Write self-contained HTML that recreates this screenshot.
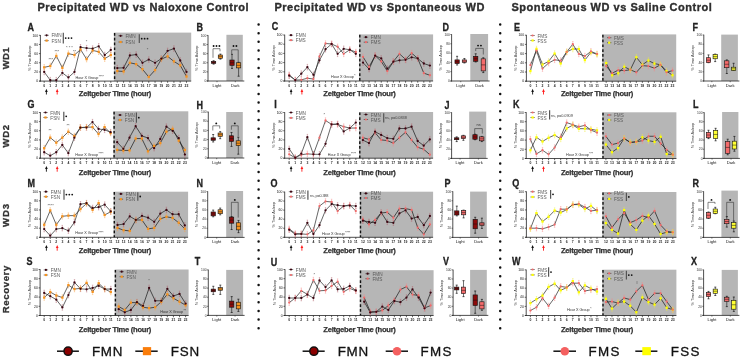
<!DOCTYPE html>
<html><head><meta charset="utf-8"><style>
html,body{margin:0;padding:0;background:#fff;}
svg{will-change:transform;display:block;font-family:"Liberation Sans", sans-serif;}
</style></head><body>
<svg width="741" height="359" viewBox="0 0 741 359">
<rect width="741" height="359" fill="#fff"/>
<text x="37.50" y="10.80" font-size="11.0" font-weight="bold" fill="#2e2e2e" text-anchor="start" stroke="#2e2e2e" stroke-width="0.35" textLength="211.0" lengthAdjust="spacing">Precipitated WD vs Naloxone Control</text>
<text x="274.40" y="10.80" font-size="11.0" font-weight="bold" fill="#2e2e2e" text-anchor="start" stroke="#2e2e2e" stroke-width="0.35" textLength="210.0" lengthAdjust="spacing">Precipitated WD vs Spontaneous WD</text>
<text x="511.50" y="10.80" font-size="11.0" font-weight="bold" fill="#2e2e2e" text-anchor="start" stroke="#2e2e2e" stroke-width="0.35" textLength="200.4" lengthAdjust="spacing">Spontaneous WD vs Saline Control</text>
<text x="9.00" y="58.30" font-size="9.6" font-weight="bold" fill="#333" text-anchor="middle" stroke="#333" stroke-width="0.3" textLength="21.7" lengthAdjust="spacing" transform="rotate(-90 9.00 58.30)">WD1</text>
<text x="9.00" y="136.20" font-size="9.6" font-weight="bold" fill="#333" text-anchor="middle" stroke="#333" stroke-width="0.3" textLength="22.5" lengthAdjust="spacing" transform="rotate(-90 9.00 136.20)">WD2</text>
<text x="9.00" y="215.50" font-size="9.6" font-weight="bold" fill="#333" text-anchor="middle" stroke="#333" stroke-width="0.3" textLength="23" lengthAdjust="spacing" transform="rotate(-90 9.00 215.50)">WD3</text>
<text x="9.00" y="289.50" font-size="9.6" font-weight="bold" fill="#333" text-anchor="middle" stroke="#333" stroke-width="0.3" textLength="47.7" lengthAdjust="spacing" transform="rotate(-90 9.00 289.50)">Recovery</text>
<line x1="258.6" y1="24.5" x2="258.6" y2="330" stroke="#111" stroke-width="2.5" stroke-linecap="round" stroke-dasharray="0 8.68"/>
<line x1="500.2" y1="24.5" x2="500.2" y2="330" stroke="#111" stroke-width="2.5" stroke-linecap="round" stroke-dasharray="0 8.68"/>
<text transform="translate(27.60 30.50) scale(0.9 1)" font-size="10.0" font-weight="bold" fill="#222" stroke="#222" stroke-width="0.3">A</text>
<text transform="translate(196.60 30.50) scale(0.9 1)" font-size="10.0" font-weight="bold" fill="#222" stroke="#222" stroke-width="0.3">B</text>
<text transform="translate(271.70 30.30) scale(0.9 1)" font-size="10.0" font-weight="bold" fill="#222" stroke="#222" stroke-width="0.3">C</text>
<text transform="translate(442.50 30.60) scale(0.9 1)" font-size="10.0" font-weight="bold" fill="#222" stroke="#222" stroke-width="0.3">D</text>
<text transform="translate(514.00 30.50) scale(0.9 1)" font-size="10.0" font-weight="bold" fill="#222" stroke="#222" stroke-width="0.3">E</text>
<text transform="translate(692.40 30.60) scale(0.9 1)" font-size="10.0" font-weight="bold" fill="#222" stroke="#222" stroke-width="0.3">F</text>
<text transform="translate(27.60 107.90) scale(0.9 1)" font-size="10.0" font-weight="bold" fill="#222" stroke="#222" stroke-width="0.3">G</text>
<text transform="translate(196.60 108.50) scale(0.9 1)" font-size="10.0" font-weight="bold" fill="#222" stroke="#222" stroke-width="0.3">H</text>
<text transform="translate(274.30 107.80) scale(0.9 1)" font-size="10.0" font-weight="bold" fill="#222" stroke="#222" stroke-width="0.3">I</text>
<text transform="translate(444.40 108.50) scale(0.9 1)" font-size="10.0" font-weight="bold" fill="#222" stroke="#222" stroke-width="0.3">J</text>
<text transform="translate(513.00 108.00) scale(0.9 1)" font-size="10.0" font-weight="bold" fill="#222" stroke="#222" stroke-width="0.3">K</text>
<text transform="translate(693.00 108.10) scale(0.9 1)" font-size="10.0" font-weight="bold" fill="#222" stroke="#222" stroke-width="0.3">L</text>
<text transform="translate(27.60 186.80) scale(0.9 1)" font-size="10.0" font-weight="bold" fill="#222" stroke="#222" stroke-width="0.3">M</text>
<text transform="translate(196.60 187.00) scale(0.9 1)" font-size="10.0" font-weight="bold" fill="#222" stroke="#222" stroke-width="0.3">N</text>
<text transform="translate(270.50 187.20) scale(0.9 1)" font-size="10.0" font-weight="bold" fill="#222" stroke="#222" stroke-width="0.3">O</text>
<text transform="translate(444.40 187.00) scale(0.9 1)" font-size="10.0" font-weight="bold" fill="#222" stroke="#222" stroke-width="0.3">P</text>
<text transform="translate(512.30 186.50) scale(0.9 1)" font-size="10.0" font-weight="bold" fill="#222" stroke="#222" stroke-width="0.3">Q</text>
<text transform="translate(692.40 187.00) scale(0.9 1)" font-size="10.0" font-weight="bold" fill="#222" stroke="#222" stroke-width="0.3">R</text>
<text transform="translate(26.40 264.60) scale(0.9 1)" font-size="10.0" font-weight="bold" fill="#222" stroke="#222" stroke-width="0.3">S</text>
<text transform="translate(194.70 264.60) scale(0.9 1)" font-size="10.0" font-weight="bold" fill="#222" stroke="#222" stroke-width="0.3">T</text>
<text transform="translate(270.70 265.60) scale(0.9 1)" font-size="10.0" font-weight="bold" fill="#222" stroke="#222" stroke-width="0.3">U</text>
<text transform="translate(442.90 265.40) scale(0.9 1)" font-size="10.0" font-weight="bold" fill="#222" stroke="#222" stroke-width="0.3">V</text>
<text transform="translate(511.90 264.60) scale(0.9 1)" font-size="10.0" font-weight="bold" fill="#222" stroke="#222" stroke-width="0.3">W</text>
<text transform="translate(691.00 264.60) scale(0.9 1)" font-size="10.0" font-weight="bold" fill="#222" stroke="#222" stroke-width="0.3">X</text>
<line x1="57.00" y1="351.20" x2="78.90" y2="351.20" stroke="#111" stroke-width="1.5"/>
<circle cx="68.1" cy="351.2" r="4.1" fill="#8b0000" stroke="#111" stroke-width="1.5"/>
<text x="92.00" y="355.60" font-size="13.4" font-weight="normal" fill="#111" text-anchor="start" stroke="#111" stroke-width="0.3" textLength="30.3" lengthAdjust="spacing">FMN</text>
<line x1="135.30" y1="351.20" x2="157.70" y2="351.20" stroke="#111" stroke-width="1.5"/>
<rect x="142.85" y="347.1" width="8.3" height="8.1" fill="#fa7d0a"/>
<text x="170.70" y="355.60" font-size="13.4" font-weight="normal" fill="#111" text-anchor="start" stroke="#111" stroke-width="0.3" textLength="28.5" lengthAdjust="spacing">FSN</text>
<line x1="302.60" y1="351.20" x2="324.70" y2="351.20" stroke="#111" stroke-width="1.5"/>
<circle cx="313.9" cy="351.2" r="4.1" fill="#8b0000" stroke="#111" stroke-width="1.5"/>
<text x="337.70" y="355.60" font-size="13.4" font-weight="normal" fill="#111" text-anchor="start" stroke="#111" stroke-width="0.3" textLength="30.4" lengthAdjust="spacing">FMN</text>
<line x1="385.70" y1="351.20" x2="408.00" y2="351.20" stroke="#111" stroke-width="1.5"/>
<circle cx="397" cy="351.2" r="4.3" fill="#f46060"/>
<text x="420.60" y="355.60" font-size="13.4" font-weight="normal" fill="#111" text-anchor="start" stroke="#111" stroke-width="0.3" textLength="30.9" lengthAdjust="spacing">FMS</text>
<line x1="553.40" y1="351.20" x2="576.00" y2="351.20" stroke="#111" stroke-width="1.5"/>
<circle cx="564.8" cy="351.2" r="4.3" fill="#f46060"/>
<text x="588.50" y="355.60" font-size="13.4" font-weight="normal" fill="#111" text-anchor="start" stroke="#111" stroke-width="0.3" textLength="30.9" lengthAdjust="spacing">FMS</text>
<line x1="635.30" y1="351.20" x2="657.40" y2="351.20" stroke="#111" stroke-width="1.5"/>
<rect x="642.3000000000001" y="347.1" width="8.6" height="8.1" fill="#ffff00"/>
<text x="670.70" y="355.60" font-size="13.4" font-weight="normal" fill="#111" text-anchor="start" stroke="#111" stroke-width="0.3" textLength="28.7" lengthAdjust="spacing">FSS</text>
<rect x="113.90" y="32.60" width="77.30" height="48.50" fill="#b6b6b6"/>
<line x1="114.60" y1="33.00" x2="114.60" y2="81.10" stroke="#111" stroke-width="1.4" stroke-dasharray="2.7 2.1"/>
<line x1="40.40" y1="35.00" x2="40.40" y2="81.50" stroke="#222" stroke-width="0.8"/>
<line x1="39.20" y1="81.10" x2="191.20" y2="81.10" stroke="#222" stroke-width="0.8"/>
<line x1="38.90" y1="81.10" x2="40.40" y2="81.10" stroke="#222" stroke-width="0.7"/>
<text x="38.10" y="82.30" font-size="3.4" font-weight="normal" fill="#111" text-anchor="end">0</text>
<line x1="38.90" y1="71.94" x2="40.40" y2="71.94" stroke="#222" stroke-width="0.7"/>
<text x="38.10" y="73.14" font-size="3.4" font-weight="normal" fill="#111" text-anchor="end">20</text>
<line x1="38.90" y1="62.78" x2="40.40" y2="62.78" stroke="#222" stroke-width="0.7"/>
<text x="38.10" y="63.98" font-size="3.4" font-weight="normal" fill="#111" text-anchor="end">40</text>
<line x1="38.90" y1="53.62" x2="40.40" y2="53.62" stroke="#222" stroke-width="0.7"/>
<text x="38.10" y="54.82" font-size="3.4" font-weight="normal" fill="#111" text-anchor="end">60</text>
<line x1="38.90" y1="44.46" x2="40.40" y2="44.46" stroke="#222" stroke-width="0.7"/>
<text x="38.10" y="45.66" font-size="3.4" font-weight="normal" fill="#111" text-anchor="end">80</text>
<line x1="38.90" y1="35.30" x2="40.40" y2="35.30" stroke="#222" stroke-width="0.7"/>
<text x="38.10" y="36.50" font-size="3.4" font-weight="normal" fill="#111" text-anchor="end">100</text>
<line x1="44.20" y1="81.10" x2="44.20" y2="82.80" stroke="#222" stroke-width="0.7"/>
<text x="44.20" y="86.70" font-size="3.4" font-weight="bold" fill="#222" text-anchor="middle">0</text>
<line x1="50.25" y1="81.10" x2="50.25" y2="82.80" stroke="#222" stroke-width="0.7"/>
<text x="50.25" y="86.70" font-size="3.4" font-weight="bold" fill="#222" text-anchor="middle">1</text>
<line x1="56.31" y1="81.10" x2="56.31" y2="82.80" stroke="#222" stroke-width="0.7"/>
<text x="56.31" y="86.70" font-size="3.4" font-weight="bold" fill="#222" text-anchor="middle">2</text>
<line x1="62.36" y1="81.10" x2="62.36" y2="82.80" stroke="#222" stroke-width="0.7"/>
<text x="62.36" y="86.70" font-size="3.4" font-weight="bold" fill="#222" text-anchor="middle">3</text>
<line x1="68.42" y1="81.10" x2="68.42" y2="82.80" stroke="#222" stroke-width="0.7"/>
<text x="68.42" y="86.70" font-size="3.4" font-weight="bold" fill="#222" text-anchor="middle">4</text>
<line x1="74.47" y1="81.10" x2="74.47" y2="82.80" stroke="#222" stroke-width="0.7"/>
<text x="74.47" y="86.70" font-size="3.4" font-weight="bold" fill="#222" text-anchor="middle">5</text>
<line x1="80.53" y1="81.10" x2="80.53" y2="82.80" stroke="#222" stroke-width="0.7"/>
<text x="80.53" y="86.70" font-size="3.4" font-weight="bold" fill="#222" text-anchor="middle">6</text>
<line x1="86.58" y1="81.10" x2="86.58" y2="82.80" stroke="#222" stroke-width="0.7"/>
<text x="86.58" y="86.70" font-size="3.4" font-weight="bold" fill="#222" text-anchor="middle">7</text>
<line x1="92.64" y1="81.10" x2="92.64" y2="82.80" stroke="#222" stroke-width="0.7"/>
<text x="92.64" y="86.70" font-size="3.4" font-weight="bold" fill="#222" text-anchor="middle">8</text>
<line x1="98.69" y1="81.10" x2="98.69" y2="82.80" stroke="#222" stroke-width="0.7"/>
<text x="98.69" y="86.70" font-size="3.4" font-weight="bold" fill="#222" text-anchor="middle">9</text>
<line x1="104.75" y1="81.10" x2="104.75" y2="82.80" stroke="#222" stroke-width="0.7"/>
<text x="104.75" y="86.70" font-size="3.4" font-weight="bold" fill="#222" text-anchor="middle">10</text>
<line x1="110.80" y1="81.10" x2="110.80" y2="82.80" stroke="#222" stroke-width="0.7"/>
<text x="110.80" y="86.70" font-size="3.4" font-weight="bold" fill="#222" text-anchor="middle">11</text>
<line x1="117.30" y1="81.10" x2="117.30" y2="82.80" stroke="#222" stroke-width="0.7"/>
<text x="117.30" y="86.70" font-size="3.4" font-weight="bold" fill="#222" text-anchor="middle">12</text>
<line x1="123.59" y1="81.10" x2="123.59" y2="82.80" stroke="#222" stroke-width="0.7"/>
<text x="123.59" y="86.70" font-size="3.4" font-weight="bold" fill="#222" text-anchor="middle">13</text>
<line x1="129.88" y1="81.10" x2="129.88" y2="82.80" stroke="#222" stroke-width="0.7"/>
<text x="129.88" y="86.70" font-size="3.4" font-weight="bold" fill="#222" text-anchor="middle">14</text>
<line x1="136.17" y1="81.10" x2="136.17" y2="82.80" stroke="#222" stroke-width="0.7"/>
<text x="136.17" y="86.70" font-size="3.4" font-weight="bold" fill="#222" text-anchor="middle">15</text>
<line x1="142.46" y1="81.10" x2="142.46" y2="82.80" stroke="#222" stroke-width="0.7"/>
<text x="142.46" y="86.70" font-size="3.4" font-weight="bold" fill="#222" text-anchor="middle">16</text>
<line x1="148.75" y1="81.10" x2="148.75" y2="82.80" stroke="#222" stroke-width="0.7"/>
<text x="148.75" y="86.70" font-size="3.4" font-weight="bold" fill="#222" text-anchor="middle">17</text>
<line x1="155.05" y1="81.10" x2="155.05" y2="82.80" stroke="#222" stroke-width="0.7"/>
<text x="155.05" y="86.70" font-size="3.4" font-weight="bold" fill="#222" text-anchor="middle">18</text>
<line x1="161.34" y1="81.10" x2="161.34" y2="82.80" stroke="#222" stroke-width="0.7"/>
<text x="161.34" y="86.70" font-size="3.4" font-weight="bold" fill="#222" text-anchor="middle">19</text>
<line x1="167.63" y1="81.10" x2="167.63" y2="82.80" stroke="#222" stroke-width="0.7"/>
<text x="167.63" y="86.70" font-size="3.4" font-weight="bold" fill="#222" text-anchor="middle">20</text>
<line x1="173.92" y1="81.10" x2="173.92" y2="82.80" stroke="#222" stroke-width="0.7"/>
<text x="173.92" y="86.70" font-size="3.4" font-weight="bold" fill="#222" text-anchor="middle">21</text>
<line x1="180.21" y1="81.10" x2="180.21" y2="82.80" stroke="#222" stroke-width="0.7"/>
<text x="180.21" y="86.70" font-size="3.4" font-weight="bold" fill="#222" text-anchor="middle">22</text>
<line x1="186.50" y1="81.10" x2="186.50" y2="82.80" stroke="#222" stroke-width="0.7"/>
<text x="186.50" y="86.70" font-size="3.4" font-weight="bold" fill="#222" text-anchor="middle">23</text>
<text x="31.10" y="58.20" font-size="3.85" font-weight="normal" fill="#333" text-anchor="middle" transform="rotate(-90 31.10 58.20)">% Time Asleep</text>
<path d="M44.2 69.2V74.7M43.5 69.2h1.4M43.5 74.7h1.4M50.3 77.4V81.1M49.6 77.4h1.4M56.3 77.4V81.1M55.6 77.4h1.4M62.4 70.1V75.6M61.7 70.1h1.4M61.7 75.6h1.4M68.4 74.7V80.2M67.7 74.7h1.4M67.7 80.2h1.4M74.5 69.2V74.7M73.8 69.2h1.4M73.8 74.7h1.4M80.5 44.5V50.0M79.8 44.5h1.4M79.8 50.0h1.4M86.6 45.4V50.9M85.9 45.4h1.4M85.9 50.9h1.4M92.6 45.8V51.3M91.9 45.8h1.4M91.9 51.3h1.4M98.7 43.5V49.0M98.0 43.5h1.4M98.0 49.0h1.4M104.7 52.2V57.7M104.0 52.2h1.4M104.0 57.7h1.4M110.8 47.2V52.7M110.1 47.2h1.4M110.1 52.7h1.4M117.3 65.3V70.8M116.6 65.3h1.4M116.6 70.8h1.4M123.6 65.1V70.6M122.9 65.1h1.4M122.9 70.6h1.4M129.9 52.7V58.2M129.2 52.7h1.4M129.2 58.2h1.4M136.2 51.8V57.3M135.5 51.8h1.4M135.5 57.3h1.4M142.5 60.0V65.5M141.8 60.0h1.4M141.8 65.5h1.4M148.8 56.8V62.3M148.1 56.8h1.4M148.1 62.3h1.4M155.0 60.0V65.5M154.3 60.0h1.4M154.3 65.5h1.4M161.3 55.9V61.4M160.6 55.9h1.4M160.6 61.4h1.4M167.6 48.1V53.6M166.9 48.1h1.4M166.9 53.6h1.4M173.9 45.8V51.3M173.2 45.8h1.4M173.2 51.3h1.4M180.2 57.7V63.2M179.5 57.7h1.4M179.5 63.2h1.4M186.5 69.2V74.7M185.8 69.2h1.4M185.8 74.7h1.4" stroke="#b0606a" stroke-width="0.5" fill="none" opacity="0.8"/>
<polyline points="44.20,71.94 50.25,80.18 56.31,80.18 62.36,72.86 68.42,77.44 74.47,71.94 80.53,47.21 86.58,48.12 92.64,48.58 98.69,46.29 104.75,54.99 110.80,49.96" fill="none" stroke="#333" stroke-width="0.75"/>
<polyline points="117.30,68.05 123.59,67.82 129.88,55.45 136.17,54.54 142.46,62.78 148.75,59.57 155.05,62.78 161.34,58.66 167.63,50.87 173.92,48.58 180.21,60.49 186.50,71.94" fill="none" stroke="#222" stroke-width="0.75"/>
<path d="M44.2 64.6V70.1M43.5 64.6h1.4M43.5 70.1h1.4M50.3 63.2V68.7M49.6 63.2h1.4M49.6 68.7h1.4M56.3 53.2V58.7M55.6 53.2h1.4M55.6 58.7h1.4M62.4 65.1V70.6M61.7 65.1h1.4M61.7 70.6h1.4M68.4 50.9V56.4M67.7 50.9h1.4M67.7 56.4h1.4M74.5 52.2V57.7M73.8 52.2h1.4M73.8 57.7h1.4M80.5 46.8V52.2M79.8 46.8h1.4M79.8 52.2h1.4M86.6 56.4V61.9M85.9 56.4h1.4M85.9 61.9h1.4M92.6 47.7V53.2M91.9 47.7h1.4M91.9 53.2h1.4M98.7 49.0V54.5M98.0 49.0h1.4M98.0 54.5h1.4M104.7 55.9V61.4M104.0 55.9h1.4M104.0 61.4h1.4M110.8 52.2V57.7M110.1 52.2h1.4M110.1 57.7h1.4M117.3 68.3V73.8M116.6 68.3h1.4M116.6 73.8h1.4M123.6 68.7V74.2M122.9 68.7h1.4M122.9 74.2h1.4M129.9 60.0V65.5M129.2 60.0h1.4M129.2 65.5h1.4M136.2 61.4V66.9M135.5 61.4h1.4M135.5 66.9h1.4M142.5 66.4V71.9M141.8 66.4h1.4M141.8 71.9h1.4M148.8 74.2V79.7M148.1 74.2h1.4M148.1 79.7h1.4M155.0 67.4V72.9M154.3 67.4h1.4M154.3 72.9h1.4M161.3 56.4V61.9M160.6 56.4h1.4M160.6 61.9h1.4M167.6 53.6V59.1M166.9 53.6h1.4M166.9 59.1h1.4M173.9 58.7V64.2M173.2 58.7h1.4M173.2 64.2h1.4M180.2 62.6V68.0M179.5 62.6h1.4M179.5 68.0h1.4M186.5 73.8V79.3M185.8 73.8h1.4M185.8 79.3h1.4" stroke="#f7a24a" stroke-width="0.5" fill="none" opacity="0.8"/>
<polyline points="44.20,67.36 50.25,65.99 56.31,55.91 62.36,67.82 68.42,53.62 74.47,54.99 80.53,49.50 86.58,59.12 92.64,50.41 98.69,51.79 104.75,58.66 110.80,54.99" fill="none" stroke="#333" stroke-width="0.75"/>
<polyline points="117.30,71.02 123.59,71.48 129.88,62.78 136.17,64.15 142.46,69.19 148.75,76.98 155.05,70.11 161.34,59.12 167.63,56.37 173.92,61.41 180.21,65.30 186.50,76.52" fill="none" stroke="#222" stroke-width="0.75"/>
<rect x="43.05" y="66.21" width="2.30" height="2.30" fill="#f7931e"/>
<rect x="49.10" y="64.84" width="2.30" height="2.30" fill="#f7931e"/>
<rect x="55.16" y="54.76" width="2.30" height="2.30" fill="#f7931e"/>
<rect x="61.21" y="66.67" width="2.30" height="2.30" fill="#f7931e"/>
<rect x="67.27" y="52.47" width="2.30" height="2.30" fill="#f7931e"/>
<rect x="73.32" y="53.84" width="2.30" height="2.30" fill="#f7931e"/>
<rect x="79.38" y="48.35" width="2.30" height="2.30" fill="#f7931e"/>
<rect x="85.43" y="57.97" width="2.30" height="2.30" fill="#f7931e"/>
<rect x="91.49" y="49.26" width="2.30" height="2.30" fill="#f7931e"/>
<rect x="97.54" y="50.64" width="2.30" height="2.30" fill="#f7931e"/>
<rect x="103.60" y="57.51" width="2.30" height="2.30" fill="#f7931e"/>
<rect x="109.65" y="53.84" width="2.30" height="2.30" fill="#f7931e"/>
<rect x="116.15" y="69.87" width="2.30" height="2.30" fill="#f7931e"/>
<rect x="122.44" y="70.33" width="2.30" height="2.30" fill="#f7931e"/>
<rect x="128.73" y="61.63" width="2.30" height="2.30" fill="#f7931e"/>
<rect x="135.02" y="63.00" width="2.30" height="2.30" fill="#f7931e"/>
<rect x="141.31" y="68.04" width="2.30" height="2.30" fill="#f7931e"/>
<rect x="147.60" y="75.83" width="2.30" height="2.30" fill="#f7931e"/>
<rect x="153.90" y="68.96" width="2.30" height="2.30" fill="#f7931e"/>
<rect x="160.19" y="57.97" width="2.30" height="2.30" fill="#f7931e"/>
<rect x="166.48" y="55.22" width="2.30" height="2.30" fill="#f7931e"/>
<rect x="172.77" y="60.26" width="2.30" height="2.30" fill="#f7931e"/>
<rect x="179.06" y="64.15" width="2.30" height="2.30" fill="#f7931e"/>
<rect x="185.35" y="75.37" width="2.30" height="2.30" fill="#f7931e"/>
<circle cx="44.20" cy="71.94" r="1.15" fill="#3c0612"/>
<circle cx="50.25" cy="80.18" r="1.15" fill="#3c0612"/>
<circle cx="56.31" cy="80.18" r="1.15" fill="#3c0612"/>
<circle cx="62.36" cy="72.86" r="1.15" fill="#3c0612"/>
<circle cx="68.42" cy="77.44" r="1.15" fill="#3c0612"/>
<circle cx="74.47" cy="71.94" r="1.15" fill="#3c0612"/>
<circle cx="80.53" cy="47.21" r="1.15" fill="#3c0612"/>
<circle cx="86.58" cy="48.12" r="1.15" fill="#3c0612"/>
<circle cx="92.64" cy="48.58" r="1.15" fill="#3c0612"/>
<circle cx="98.69" cy="46.29" r="1.15" fill="#3c0612"/>
<circle cx="104.75" cy="54.99" r="1.15" fill="#3c0612"/>
<circle cx="110.80" cy="49.96" r="1.15" fill="#3c0612"/>
<circle cx="117.30" cy="68.05" r="1.15" fill="#3c0612"/>
<circle cx="123.59" cy="67.82" r="1.15" fill="#3c0612"/>
<circle cx="129.88" cy="55.45" r="1.15" fill="#3c0612"/>
<circle cx="136.17" cy="54.54" r="1.15" fill="#3c0612"/>
<circle cx="142.46" cy="62.78" r="1.15" fill="#3c0612"/>
<circle cx="148.75" cy="59.57" r="1.15" fill="#3c0612"/>
<circle cx="155.05" cy="62.78" r="1.15" fill="#3c0612"/>
<circle cx="161.34" cy="58.66" r="1.15" fill="#3c0612"/>
<circle cx="167.63" cy="50.87" r="1.15" fill="#3c0612"/>
<circle cx="173.92" cy="48.58" r="1.15" fill="#3c0612"/>
<circle cx="180.21" cy="60.49" r="1.15" fill="#3c0612"/>
<circle cx="186.50" cy="71.94" r="1.15" fill="#3c0612"/>
<line x1="44.40" y1="35.30" x2="48.80" y2="35.30" stroke="#333" stroke-width="0.6"/>
<circle cx="46.60" cy="35.30" r="1.10" fill="#3c0612"/>
<text x="51.40" y="37.30" font-size="4.7" font-weight="normal" fill="#5a5a5a" text-anchor="start">FMN</text>
<line x1="44.40" y1="40.60" x2="48.80" y2="40.60" stroke="#333" stroke-width="0.6"/>
<rect x="45.50" y="39.50" width="2.20" height="2.20" fill="#f7931e"/>
<text x="51.40" y="42.60" font-size="4.7" font-weight="normal" fill="#5a5a5a" text-anchor="start">FSN</text>
<line x1="118.40" y1="35.80" x2="122.80" y2="35.80" stroke="#333" stroke-width="0.6"/>
<circle cx="120.60" cy="35.80" r="1.10" fill="#3c0612"/>
<text x="125.40" y="37.80" font-size="4.7" font-weight="normal" fill="#5a5a5a" text-anchor="start">FMN</text>
<line x1="118.40" y1="42.00" x2="122.80" y2="42.00" stroke="#333" stroke-width="0.6"/>
<rect x="119.50" y="40.90" width="2.20" height="2.20" fill="#f7931e"/>
<text x="125.40" y="44.00" font-size="4.7" font-weight="normal" fill="#5a5a5a" text-anchor="start">FSN</text>
<line x1="63.30" y1="32.70" x2="63.30" y2="43.50" stroke="#555" stroke-width="1.2"/>
<circle cx="65.70" cy="38.10" r="0.9" fill="#111"/>
<circle cx="68.60" cy="38.10" r="0.9" fill="#111"/>
<circle cx="71.50" cy="38.10" r="0.9" fill="#111"/>
<line x1="139.30" y1="34.20" x2="139.30" y2="43.10" stroke="#555" stroke-width="1.2"/>
<circle cx="141.70" cy="38.65" r="0.9" fill="#111"/>
<circle cx="144.60" cy="38.65" r="0.9" fill="#111"/>
<circle cx="147.50" cy="38.65" r="0.9" fill="#111"/>
<text x="75.50" y="78.70" font-size="3.75" fill="#333" textLength="22.8" lengthAdjust="spacing">Hour X Group</text>
<text x="98.80" y="78.10" font-size="3.2" fill="#333">****</text>
<text x="48.50" y="60.90" font-size="4" font-weight="normal" fill="#444" text-anchor="start">***</text>
<text x="54.50" y="53.40" font-size="4" font-weight="normal" fill="#444" text-anchor="start">***</text>
<text x="66.00" y="49.40" font-size="4" font-weight="normal" fill="#444" text-anchor="start">* * *</text>
<text x="73.00" y="53.40" font-size="4" font-weight="normal" fill="#444" text-anchor="start">**</text>
<text x="85.70" y="43.40" font-size="4" font-weight="normal" fill="#444" text-anchor="start">*</text>
<text x="146.70" y="50.90" font-size="4" font-weight="normal" fill="#444" text-anchor="start">*</text>
<line x1="46.40" y1="91.20" x2="46.40" y2="94.50" stroke="#111" stroke-width="0.9"/>
<path d="M45.05,91.90 L46.40,88.70 L47.75,91.90 Z" fill="#111"/>
<line x1="57.20" y1="91.20" x2="57.20" y2="94.50" stroke="#ff1a1a" stroke-width="0.9"/>
<path d="M55.85,91.90 L57.20,88.70 L58.55,91.90 Z" fill="#ff1a1a"/>
<text x="78.80" y="95.70" font-size="7.6" font-weight="bold" fill="#333" text-anchor="start" stroke="#333" stroke-width="0.25" textLength="72.6" lengthAdjust="spacing">Zeitgeber Time (hour)</text>
<rect x="359.10" y="34.40" width="74.00" height="46.60" fill="#b6b6b6"/>
<line x1="359.80" y1="34.80" x2="359.80" y2="81.00" stroke="#111" stroke-width="1.4" stroke-dasharray="2.7 2.1"/>
<line x1="284.70" y1="34.70" x2="284.70" y2="81.40" stroke="#222" stroke-width="0.8"/>
<line x1="283.50" y1="81.00" x2="433.10" y2="81.00" stroke="#222" stroke-width="0.8"/>
<line x1="283.20" y1="81.00" x2="284.70" y2="81.00" stroke="#222" stroke-width="0.7"/>
<text x="282.40" y="82.20" font-size="3.4" font-weight="normal" fill="#111" text-anchor="end">0</text>
<line x1="283.20" y1="71.80" x2="284.70" y2="71.80" stroke="#222" stroke-width="0.7"/>
<text x="282.40" y="73.00" font-size="3.4" font-weight="normal" fill="#111" text-anchor="end">20</text>
<line x1="283.20" y1="62.60" x2="284.70" y2="62.60" stroke="#222" stroke-width="0.7"/>
<text x="282.40" y="63.80" font-size="3.4" font-weight="normal" fill="#111" text-anchor="end">40</text>
<line x1="283.20" y1="53.40" x2="284.70" y2="53.40" stroke="#222" stroke-width="0.7"/>
<text x="282.40" y="54.60" font-size="3.4" font-weight="normal" fill="#111" text-anchor="end">60</text>
<line x1="283.20" y1="44.20" x2="284.70" y2="44.20" stroke="#222" stroke-width="0.7"/>
<text x="282.40" y="45.40" font-size="3.4" font-weight="normal" fill="#111" text-anchor="end">80</text>
<line x1="283.20" y1="35.00" x2="284.70" y2="35.00" stroke="#222" stroke-width="0.7"/>
<text x="282.40" y="36.20" font-size="3.4" font-weight="normal" fill="#111" text-anchor="end">100</text>
<line x1="289.20" y1="81.00" x2="289.20" y2="82.70" stroke="#222" stroke-width="0.7"/>
<text x="289.20" y="86.60" font-size="3.4" font-weight="bold" fill="#222" text-anchor="middle">0</text>
<line x1="295.25" y1="81.00" x2="295.25" y2="82.70" stroke="#222" stroke-width="0.7"/>
<text x="295.25" y="86.60" font-size="3.4" font-weight="bold" fill="#222" text-anchor="middle">1</text>
<line x1="301.31" y1="81.00" x2="301.31" y2="82.70" stroke="#222" stroke-width="0.7"/>
<text x="301.31" y="86.60" font-size="3.4" font-weight="bold" fill="#222" text-anchor="middle">2</text>
<line x1="307.36" y1="81.00" x2="307.36" y2="82.70" stroke="#222" stroke-width="0.7"/>
<text x="307.36" y="86.60" font-size="3.4" font-weight="bold" fill="#222" text-anchor="middle">3</text>
<line x1="313.42" y1="81.00" x2="313.42" y2="82.70" stroke="#222" stroke-width="0.7"/>
<text x="313.42" y="86.60" font-size="3.4" font-weight="bold" fill="#222" text-anchor="middle">4</text>
<line x1="319.47" y1="81.00" x2="319.47" y2="82.70" stroke="#222" stroke-width="0.7"/>
<text x="319.47" y="86.60" font-size="3.4" font-weight="bold" fill="#222" text-anchor="middle">5</text>
<line x1="325.53" y1="81.00" x2="325.53" y2="82.70" stroke="#222" stroke-width="0.7"/>
<text x="325.53" y="86.60" font-size="3.4" font-weight="bold" fill="#222" text-anchor="middle">6</text>
<line x1="331.58" y1="81.00" x2="331.58" y2="82.70" stroke="#222" stroke-width="0.7"/>
<text x="331.58" y="86.60" font-size="3.4" font-weight="bold" fill="#222" text-anchor="middle">7</text>
<line x1="337.64" y1="81.00" x2="337.64" y2="82.70" stroke="#222" stroke-width="0.7"/>
<text x="337.64" y="86.60" font-size="3.4" font-weight="bold" fill="#222" text-anchor="middle">8</text>
<line x1="343.69" y1="81.00" x2="343.69" y2="82.70" stroke="#222" stroke-width="0.7"/>
<text x="343.69" y="86.60" font-size="3.4" font-weight="bold" fill="#222" text-anchor="middle">9</text>
<line x1="349.75" y1="81.00" x2="349.75" y2="82.70" stroke="#222" stroke-width="0.7"/>
<text x="349.75" y="86.60" font-size="3.4" font-weight="bold" fill="#222" text-anchor="middle">10</text>
<line x1="355.80" y1="81.00" x2="355.80" y2="82.70" stroke="#222" stroke-width="0.7"/>
<text x="355.80" y="86.60" font-size="3.4" font-weight="bold" fill="#222" text-anchor="middle">11</text>
<line x1="363.00" y1="81.00" x2="363.00" y2="82.70" stroke="#222" stroke-width="0.7"/>
<text x="363.00" y="86.60" font-size="3.4" font-weight="bold" fill="#222" text-anchor="middle">12</text>
<line x1="369.08" y1="81.00" x2="369.08" y2="82.70" stroke="#222" stroke-width="0.7"/>
<text x="369.08" y="86.60" font-size="3.4" font-weight="bold" fill="#222" text-anchor="middle">13</text>
<line x1="375.16" y1="81.00" x2="375.16" y2="82.70" stroke="#222" stroke-width="0.7"/>
<text x="375.16" y="86.60" font-size="3.4" font-weight="bold" fill="#222" text-anchor="middle">14</text>
<line x1="381.25" y1="81.00" x2="381.25" y2="82.70" stroke="#222" stroke-width="0.7"/>
<text x="381.25" y="86.60" font-size="3.4" font-weight="bold" fill="#222" text-anchor="middle">15</text>
<line x1="387.33" y1="81.00" x2="387.33" y2="82.70" stroke="#222" stroke-width="0.7"/>
<text x="387.33" y="86.60" font-size="3.4" font-weight="bold" fill="#222" text-anchor="middle">16</text>
<line x1="393.41" y1="81.00" x2="393.41" y2="82.70" stroke="#222" stroke-width="0.7"/>
<text x="393.41" y="86.60" font-size="3.4" font-weight="bold" fill="#222" text-anchor="middle">17</text>
<line x1="399.49" y1="81.00" x2="399.49" y2="82.70" stroke="#222" stroke-width="0.7"/>
<text x="399.49" y="86.60" font-size="3.4" font-weight="bold" fill="#222" text-anchor="middle">18</text>
<line x1="405.57" y1="81.00" x2="405.57" y2="82.70" stroke="#222" stroke-width="0.7"/>
<text x="405.57" y="86.60" font-size="3.4" font-weight="bold" fill="#222" text-anchor="middle">19</text>
<line x1="411.65" y1="81.00" x2="411.65" y2="82.70" stroke="#222" stroke-width="0.7"/>
<text x="411.65" y="86.60" font-size="3.4" font-weight="bold" fill="#222" text-anchor="middle">20</text>
<line x1="417.74" y1="81.00" x2="417.74" y2="82.70" stroke="#222" stroke-width="0.7"/>
<text x="417.74" y="86.60" font-size="3.4" font-weight="bold" fill="#222" text-anchor="middle">21</text>
<line x1="423.82" y1="81.00" x2="423.82" y2="82.70" stroke="#222" stroke-width="0.7"/>
<text x="423.82" y="86.60" font-size="3.4" font-weight="bold" fill="#222" text-anchor="middle">22</text>
<line x1="429.90" y1="81.00" x2="429.90" y2="82.70" stroke="#222" stroke-width="0.7"/>
<text x="429.90" y="86.60" font-size="3.4" font-weight="bold" fill="#222" text-anchor="middle">23</text>
<text x="275.40" y="58.00" font-size="3.85" font-weight="normal" fill="#333" text-anchor="middle" transform="rotate(-90 275.40 58.00)">% Time Asleep</text>
<path d="M289.2 72.9V78.5M288.5 72.9h1.4M288.5 78.5h1.4M295.3 77.3V81.0M294.6 77.3h1.4M301.3 70.9V76.4M300.6 70.9h1.4M300.6 76.4h1.4M307.4 64.4V70.0M306.7 64.4h1.4M306.7 70.0h1.4M313.4 72.0V77.6M312.7 72.0h1.4M312.7 77.6h1.4M319.5 57.5V63.1M318.8 57.5h1.4M318.8 63.1h1.4M325.5 46.5V52.0M324.8 46.5h1.4M324.8 52.0h1.4M331.6 41.2V46.7M330.9 41.2h1.4M330.9 46.7h1.4M337.6 51.1V56.6M336.9 51.1h1.4M336.9 56.6h1.4M343.7 46.0V51.6M343.0 46.0h1.4M343.0 51.6h1.4M349.7 47.0V52.5M349.0 47.0h1.4M349.0 52.5h1.4M355.8 51.1V56.6M355.1 51.1h1.4M355.1 56.6h1.4M363.0 59.8V65.4M362.3 59.8h1.4M362.3 65.4h1.4M369.1 66.3V71.8M368.4 66.3h1.4M368.4 71.8h1.4M375.2 52.9V58.5M374.5 52.9h1.4M374.5 58.5h1.4M381.2 55.7V61.2M380.5 55.7h1.4M380.5 61.2h1.4M387.3 65.8V71.3M386.6 65.8h1.4M386.6 71.3h1.4M393.4 58.9V64.4M392.7 58.9h1.4M392.7 64.4h1.4M399.5 57.5V63.1M398.8 57.5h1.4M398.8 63.1h1.4M405.6 57.1V62.6M404.9 57.1h1.4M404.9 62.6h1.4M411.7 54.6V60.1M411.0 54.6h1.4M411.0 60.1h1.4M417.7 55.7V61.2M417.0 55.7h1.4M417.0 61.2h1.4M423.8 60.8V66.3M423.1 60.8h1.4M423.1 66.3h1.4M429.9 62.8V68.4M429.2 62.8h1.4M429.2 68.4h1.4" stroke="#b0606a" stroke-width="0.5" fill="none" opacity="0.8"/>
<polyline points="289.20,75.71 295.25,80.08 301.31,73.64 307.36,67.20 313.42,74.79 319.47,60.30 325.53,49.26 331.58,43.97 337.64,53.86 343.69,48.80 349.75,49.72 355.80,53.86" fill="none" stroke="#333" stroke-width="0.75"/>
<polyline points="363.00,62.60 369.08,69.04 375.16,55.70 381.25,58.46 387.33,68.58 393.41,61.68 399.49,60.30 405.57,59.84 411.65,57.31 417.74,58.46 423.82,63.52 429.90,65.59" fill="none" stroke="#222" stroke-width="0.75"/>
<path d="M289.2 72.0V77.6M288.5 72.0h1.4M288.5 77.6h1.4M295.3 77.3V81.0M294.6 77.3h1.4M301.3 77.1V81.0M300.6 77.1h1.4M307.4 75.5V81.0M306.7 75.5h1.4M313.4 76.3V81.0M312.7 76.3h1.4M319.5 53.6V59.1M318.8 53.6h1.4M318.8 59.1h1.4M325.5 40.8V46.3M324.8 40.8h1.4M324.8 46.3h1.4M331.6 41.2V46.7M330.9 41.2h1.4M330.9 46.7h1.4M337.6 44.0V49.5M336.9 44.0h1.4M336.9 49.5h1.4M343.7 51.1V56.6M343.0 51.1h1.4M343.0 56.6h1.4M349.7 47.0V52.5M349.0 47.0h1.4M349.0 52.5h1.4M355.8 49.3V54.8M355.1 49.3h1.4M355.1 54.8h1.4M363.0 54.1V59.6M362.3 54.1h1.4M362.3 59.6h1.4M369.1 64.0V69.5M368.4 64.0h1.4M368.4 69.5h1.4M375.2 52.9V58.5M374.5 52.9h1.4M374.5 58.5h1.4M381.2 58.7V64.2M380.5 58.7h1.4M380.5 64.2h1.4M387.3 68.3V73.9M386.6 68.3h1.4M386.6 73.9h1.4M393.4 58.7V64.2M392.7 58.7h1.4M392.7 64.2h1.4M399.5 51.1V56.6M398.8 51.1h1.4M398.8 56.6h1.4M405.6 56.6V62.1M404.9 56.6h1.4M404.9 62.1h1.4M411.7 50.4V55.9M411.0 50.4h1.4M411.0 55.9h1.4M417.7 55.7V61.2M417.0 55.7h1.4M417.0 61.2h1.4M423.8 70.4V75.9M423.1 70.4h1.4M423.1 75.9h1.4M429.9 72.5V78.0M429.2 72.5h1.4M429.2 78.0h1.4" stroke="#f58a8a" stroke-width="0.5" fill="none" opacity="0.8"/>
<polyline points="289.20,74.79 295.25,80.08 301.31,79.85 307.36,78.24 313.42,79.02 319.47,56.39 325.53,43.51 331.58,43.97 337.64,46.73 343.69,53.86 349.75,49.72 355.80,52.02" fill="none" stroke="#333" stroke-width="0.75"/>
<polyline points="363.00,56.85 369.08,66.74 375.16,55.70 381.25,61.45 387.33,71.11 393.41,61.45 399.49,53.86 405.57,59.38 411.65,53.12 417.74,58.46 423.82,73.18 429.90,75.25" fill="none" stroke="#222" stroke-width="0.75"/>
<circle cx="289.20" cy="74.79" r="1.15" fill="#f26b6b"/>
<circle cx="295.25" cy="80.08" r="1.15" fill="#f26b6b"/>
<circle cx="301.31" cy="79.85" r="1.15" fill="#f26b6b"/>
<circle cx="307.36" cy="78.24" r="1.15" fill="#f26b6b"/>
<circle cx="313.42" cy="79.02" r="1.15" fill="#f26b6b"/>
<circle cx="319.47" cy="56.39" r="1.15" fill="#f26b6b"/>
<circle cx="325.53" cy="43.51" r="1.15" fill="#f26b6b"/>
<circle cx="331.58" cy="43.97" r="1.15" fill="#f26b6b"/>
<circle cx="337.64" cy="46.73" r="1.15" fill="#f26b6b"/>
<circle cx="343.69" cy="53.86" r="1.15" fill="#f26b6b"/>
<circle cx="349.75" cy="49.72" r="1.15" fill="#f26b6b"/>
<circle cx="355.80" cy="52.02" r="1.15" fill="#f26b6b"/>
<circle cx="363.00" cy="56.85" r="1.15" fill="#f26b6b"/>
<circle cx="369.08" cy="66.74" r="1.15" fill="#f26b6b"/>
<circle cx="375.16" cy="55.70" r="1.15" fill="#f26b6b"/>
<circle cx="381.25" cy="61.45" r="1.15" fill="#f26b6b"/>
<circle cx="387.33" cy="71.11" r="1.15" fill="#f26b6b"/>
<circle cx="393.41" cy="61.45" r="1.15" fill="#f26b6b"/>
<circle cx="399.49" cy="53.86" r="1.15" fill="#f26b6b"/>
<circle cx="405.57" cy="59.38" r="1.15" fill="#f26b6b"/>
<circle cx="411.65" cy="53.12" r="1.15" fill="#f26b6b"/>
<circle cx="417.74" cy="58.46" r="1.15" fill="#f26b6b"/>
<circle cx="423.82" cy="73.18" r="1.15" fill="#f26b6b"/>
<circle cx="429.90" cy="75.25" r="1.15" fill="#f26b6b"/>
<circle cx="289.20" cy="75.71" r="1.15" fill="#3c0612"/>
<circle cx="295.25" cy="80.08" r="1.15" fill="#3c0612"/>
<circle cx="301.31" cy="73.64" r="1.15" fill="#3c0612"/>
<circle cx="307.36" cy="67.20" r="1.15" fill="#3c0612"/>
<circle cx="313.42" cy="74.79" r="1.15" fill="#3c0612"/>
<circle cx="319.47" cy="60.30" r="1.15" fill="#3c0612"/>
<circle cx="325.53" cy="49.26" r="1.15" fill="#3c0612"/>
<circle cx="331.58" cy="43.97" r="1.15" fill="#3c0612"/>
<circle cx="337.64" cy="53.86" r="1.15" fill="#3c0612"/>
<circle cx="343.69" cy="48.80" r="1.15" fill="#3c0612"/>
<circle cx="349.75" cy="49.72" r="1.15" fill="#3c0612"/>
<circle cx="355.80" cy="53.86" r="1.15" fill="#3c0612"/>
<circle cx="363.00" cy="62.60" r="1.15" fill="#3c0612"/>
<circle cx="369.08" cy="69.04" r="1.15" fill="#3c0612"/>
<circle cx="375.16" cy="55.70" r="1.15" fill="#3c0612"/>
<circle cx="381.25" cy="58.46" r="1.15" fill="#3c0612"/>
<circle cx="387.33" cy="68.58" r="1.15" fill="#3c0612"/>
<circle cx="393.41" cy="61.68" r="1.15" fill="#3c0612"/>
<circle cx="399.49" cy="60.30" r="1.15" fill="#3c0612"/>
<circle cx="405.57" cy="59.84" r="1.15" fill="#3c0612"/>
<circle cx="411.65" cy="57.31" r="1.15" fill="#3c0612"/>
<circle cx="417.74" cy="58.46" r="1.15" fill="#3c0612"/>
<circle cx="423.82" cy="63.52" r="1.15" fill="#3c0612"/>
<circle cx="429.90" cy="65.59" r="1.15" fill="#3c0612"/>
<line x1="288.80" y1="35.20" x2="293.20" y2="35.20" stroke="#333" stroke-width="0.6"/>
<circle cx="291.00" cy="35.20" r="1.10" fill="#3c0612"/>
<text x="295.80" y="37.20" font-size="4.7" font-weight="normal" fill="#5a5a5a" text-anchor="start">FMN</text>
<line x1="288.80" y1="40.20" x2="293.20" y2="40.20" stroke="#333" stroke-width="0.6"/>
<circle cx="291.00" cy="40.20" r="1.10" fill="#f26b6b"/>
<text x="295.80" y="42.20" font-size="4.7" font-weight="normal" fill="#5a5a5a" text-anchor="start">FMS</text>
<line x1="363.70" y1="37.20" x2="368.10" y2="37.20" stroke="#333" stroke-width="0.6"/>
<circle cx="365.90" cy="37.20" r="1.10" fill="#3c0612"/>
<text x="370.70" y="39.20" font-size="4.7" font-weight="normal" fill="#5a5a5a" text-anchor="start">FMN</text>
<line x1="363.70" y1="42.20" x2="368.10" y2="42.20" stroke="#333" stroke-width="0.6"/>
<circle cx="365.90" cy="42.20" r="1.10" fill="#f26b6b"/>
<text x="370.70" y="44.20" font-size="4.7" font-weight="normal" fill="#5a5a5a" text-anchor="start">FMS</text>
<text x="331.00" y="77.50" font-size="3.75" fill="#333" textLength="22.8" lengthAdjust="spacing">Hour X Group</text>
<text x="354.30" y="76.90" font-size="3.2" fill="#333">*</text>
<line x1="291.10" y1="91.20" x2="291.10" y2="94.50" stroke="#111" stroke-width="0.9"/>
<path d="M289.75,91.90 L291.10,88.70 L292.45,91.90 Z" fill="#111"/>
<line x1="301.90" y1="91.20" x2="301.90" y2="94.50" stroke="#ff1a1a" stroke-width="0.9"/>
<path d="M300.55,91.90 L301.90,88.70 L303.25,91.90 Z" fill="#ff1a1a"/>
<text x="323.30" y="95.70" font-size="7.6" font-weight="bold" fill="#333" text-anchor="start" stroke="#333" stroke-width="0.25" textLength="72.6" lengthAdjust="spacing">Zeitgeber Time (hour)</text>
<rect x="602.20" y="34.40" width="74.00" height="46.80" fill="#b6b6b6"/>
<line x1="602.90" y1="34.80" x2="602.90" y2="81.20" stroke="#111" stroke-width="1.4" stroke-dasharray="2.7 2.1"/>
<line x1="526.40" y1="34.90" x2="526.40" y2="81.60" stroke="#222" stroke-width="0.8"/>
<line x1="525.20" y1="81.20" x2="676.20" y2="81.20" stroke="#222" stroke-width="0.8"/>
<line x1="524.90" y1="81.20" x2="526.40" y2="81.20" stroke="#222" stroke-width="0.7"/>
<text x="524.10" y="82.40" font-size="3.4" font-weight="normal" fill="#111" text-anchor="end">0</text>
<line x1="524.90" y1="72.00" x2="526.40" y2="72.00" stroke="#222" stroke-width="0.7"/>
<text x="524.10" y="73.20" font-size="3.4" font-weight="normal" fill="#111" text-anchor="end">20</text>
<line x1="524.90" y1="62.80" x2="526.40" y2="62.80" stroke="#222" stroke-width="0.7"/>
<text x="524.10" y="64.00" font-size="3.4" font-weight="normal" fill="#111" text-anchor="end">40</text>
<line x1="524.90" y1="53.60" x2="526.40" y2="53.60" stroke="#222" stroke-width="0.7"/>
<text x="524.10" y="54.80" font-size="3.4" font-weight="normal" fill="#111" text-anchor="end">60</text>
<line x1="524.90" y1="44.40" x2="526.40" y2="44.40" stroke="#222" stroke-width="0.7"/>
<text x="524.10" y="45.60" font-size="3.4" font-weight="normal" fill="#111" text-anchor="end">80</text>
<line x1="524.90" y1="35.20" x2="526.40" y2="35.20" stroke="#222" stroke-width="0.7"/>
<text x="524.10" y="36.40" font-size="3.4" font-weight="normal" fill="#111" text-anchor="end">100</text>
<line x1="530.40" y1="81.20" x2="530.40" y2="82.90" stroke="#222" stroke-width="0.7"/>
<text x="530.40" y="86.80" font-size="3.4" font-weight="bold" fill="#222" text-anchor="middle">0</text>
<line x1="536.45" y1="81.20" x2="536.45" y2="82.90" stroke="#222" stroke-width="0.7"/>
<text x="536.45" y="86.80" font-size="3.4" font-weight="bold" fill="#222" text-anchor="middle">1</text>
<line x1="542.51" y1="81.20" x2="542.51" y2="82.90" stroke="#222" stroke-width="0.7"/>
<text x="542.51" y="86.80" font-size="3.4" font-weight="bold" fill="#222" text-anchor="middle">2</text>
<line x1="548.56" y1="81.20" x2="548.56" y2="82.90" stroke="#222" stroke-width="0.7"/>
<text x="548.56" y="86.80" font-size="3.4" font-weight="bold" fill="#222" text-anchor="middle">3</text>
<line x1="554.62" y1="81.20" x2="554.62" y2="82.90" stroke="#222" stroke-width="0.7"/>
<text x="554.62" y="86.80" font-size="3.4" font-weight="bold" fill="#222" text-anchor="middle">4</text>
<line x1="560.67" y1="81.20" x2="560.67" y2="82.90" stroke="#222" stroke-width="0.7"/>
<text x="560.67" y="86.80" font-size="3.4" font-weight="bold" fill="#222" text-anchor="middle">5</text>
<line x1="566.73" y1="81.20" x2="566.73" y2="82.90" stroke="#222" stroke-width="0.7"/>
<text x="566.73" y="86.80" font-size="3.4" font-weight="bold" fill="#222" text-anchor="middle">6</text>
<line x1="572.78" y1="81.20" x2="572.78" y2="82.90" stroke="#222" stroke-width="0.7"/>
<text x="572.78" y="86.80" font-size="3.4" font-weight="bold" fill="#222" text-anchor="middle">7</text>
<line x1="578.84" y1="81.20" x2="578.84" y2="82.90" stroke="#222" stroke-width="0.7"/>
<text x="578.84" y="86.80" font-size="3.4" font-weight="bold" fill="#222" text-anchor="middle">8</text>
<line x1="584.89" y1="81.20" x2="584.89" y2="82.90" stroke="#222" stroke-width="0.7"/>
<text x="584.89" y="86.80" font-size="3.4" font-weight="bold" fill="#222" text-anchor="middle">9</text>
<line x1="590.95" y1="81.20" x2="590.95" y2="82.90" stroke="#222" stroke-width="0.7"/>
<text x="590.95" y="86.80" font-size="3.4" font-weight="bold" fill="#222" text-anchor="middle">10</text>
<line x1="597.00" y1="81.20" x2="597.00" y2="82.90" stroke="#222" stroke-width="0.7"/>
<text x="597.00" y="86.80" font-size="3.4" font-weight="bold" fill="#222" text-anchor="middle">11</text>
<line x1="606.20" y1="81.20" x2="606.20" y2="82.90" stroke="#222" stroke-width="0.7"/>
<text x="606.20" y="86.80" font-size="3.4" font-weight="bold" fill="#222" text-anchor="middle">12</text>
<line x1="612.23" y1="81.20" x2="612.23" y2="82.90" stroke="#222" stroke-width="0.7"/>
<text x="612.23" y="86.80" font-size="3.4" font-weight="bold" fill="#222" text-anchor="middle">13</text>
<line x1="618.25" y1="81.20" x2="618.25" y2="82.90" stroke="#222" stroke-width="0.7"/>
<text x="618.25" y="86.80" font-size="3.4" font-weight="bold" fill="#222" text-anchor="middle">14</text>
<line x1="624.28" y1="81.20" x2="624.28" y2="82.90" stroke="#222" stroke-width="0.7"/>
<text x="624.28" y="86.80" font-size="3.4" font-weight="bold" fill="#222" text-anchor="middle">15</text>
<line x1="630.31" y1="81.20" x2="630.31" y2="82.90" stroke="#222" stroke-width="0.7"/>
<text x="630.31" y="86.80" font-size="3.4" font-weight="bold" fill="#222" text-anchor="middle">16</text>
<line x1="636.34" y1="81.20" x2="636.34" y2="82.90" stroke="#222" stroke-width="0.7"/>
<text x="636.34" y="86.80" font-size="3.4" font-weight="bold" fill="#222" text-anchor="middle">17</text>
<line x1="642.36" y1="81.20" x2="642.36" y2="82.90" stroke="#222" stroke-width="0.7"/>
<text x="642.36" y="86.80" font-size="3.4" font-weight="bold" fill="#222" text-anchor="middle">18</text>
<line x1="648.39" y1="81.20" x2="648.39" y2="82.90" stroke="#222" stroke-width="0.7"/>
<text x="648.39" y="86.80" font-size="3.4" font-weight="bold" fill="#222" text-anchor="middle">19</text>
<line x1="654.42" y1="81.20" x2="654.42" y2="82.90" stroke="#222" stroke-width="0.7"/>
<text x="654.42" y="86.80" font-size="3.4" font-weight="bold" fill="#222" text-anchor="middle">20</text>
<line x1="660.45" y1="81.20" x2="660.45" y2="82.90" stroke="#222" stroke-width="0.7"/>
<text x="660.45" y="86.80" font-size="3.4" font-weight="bold" fill="#222" text-anchor="middle">21</text>
<line x1="666.47" y1="81.20" x2="666.47" y2="82.90" stroke="#222" stroke-width="0.7"/>
<text x="666.47" y="86.80" font-size="3.4" font-weight="bold" fill="#222" text-anchor="middle">22</text>
<line x1="672.50" y1="81.20" x2="672.50" y2="82.90" stroke="#222" stroke-width="0.7"/>
<text x="672.50" y="86.80" font-size="3.4" font-weight="bold" fill="#222" text-anchor="middle">23</text>
<text x="517.10" y="58.20" font-size="3.85" font-weight="normal" fill="#333" text-anchor="middle" transform="rotate(-90 517.10 58.20)">% Time Asleep</text>
<path d="M530.4 62.3V67.9M529.7 62.3h1.4M529.7 67.9h1.4M536.5 47.9V53.4M535.8 47.9h1.4M535.8 53.4h1.4M542.5 65.8V71.4M541.8 65.8h1.4M541.8 71.4h1.4M548.6 60.3V65.8M547.9 60.3h1.4M547.9 65.8h1.4M554.6 57.1V62.6M553.9 57.1h1.4M553.9 62.6h1.4M560.7 57.8V63.4M560.0 57.8h1.4M560.0 63.4h1.4M566.7 49.1V54.7M566.0 49.1h1.4M566.0 54.7h1.4M572.8 41.5V47.0M572.1 41.5h1.4M572.1 47.0h1.4M578.8 51.2V56.7M578.1 51.2h1.4M578.1 56.7h1.4M584.9 53.3V58.8M584.2 53.3h1.4M584.2 58.8h1.4M590.9 48.6V54.2M590.2 48.6h1.4M590.2 54.2h1.4M597.0 51.2V56.7M596.3 51.2h1.4M596.3 56.7h1.4M606.2 63.4V68.9M605.5 63.4h1.4M605.5 68.9h1.4M612.2 70.4V76.0M611.5 70.4h1.4M611.5 76.0h1.4M618.3 67.4V72.9M617.6 67.4h1.4M617.6 72.9h1.4M624.3 67.9V73.4M623.6 67.9h1.4M623.6 73.4h1.4M630.3 67.0V72.6M629.6 67.0h1.4M629.6 72.6h1.4M636.3 69.6V75.1M635.6 69.6h1.4M635.6 75.1h1.4M642.4 62.8V68.4M641.7 62.8h1.4M641.7 68.4h1.4M648.4 63.4V68.9M647.7 63.4h1.4M647.7 68.9h1.4M654.4 65.3V70.9M653.7 65.3h1.4M653.7 70.9h1.4M660.4 62.0V67.5M659.7 62.0h1.4M659.7 67.5h1.4M666.5 69.6V75.1M665.8 69.6h1.4M665.8 75.1h1.4M672.5 67.9V73.4M671.8 67.9h1.4M671.8 73.4h1.4" stroke="#f58a8a" stroke-width="0.5" fill="none" opacity="0.8"/>
<polyline points="530.40,65.10 536.45,50.61 542.51,68.60 548.56,63.08 554.62,59.81 560.67,60.59 566.73,51.90 572.78,44.22 578.84,53.92 584.89,56.08 590.95,51.39 597.00,53.92" fill="none" stroke="#333" stroke-width="0.75"/>
<polyline points="606.20,66.11 612.23,73.20 618.25,70.11 624.28,70.62 630.31,69.79 636.34,72.32 642.36,65.61 648.39,66.11 654.42,68.09 660.45,64.78 666.47,72.32 672.50,70.62" fill="none" stroke="#222" stroke-width="0.75"/>
<path d="M530.4 68.3V73.8M529.7 68.3h1.4M529.7 73.8h1.4M536.5 46.2V51.8M535.8 46.2h1.4M535.8 51.8h1.4M542.5 61.7V67.3M541.8 61.7h1.4M541.8 67.3h1.4M548.6 58.7V64.2M547.9 58.7h1.4M547.9 64.2h1.4M554.6 50.8V56.4M553.9 50.8h1.4M553.9 56.4h1.4M560.7 60.7V66.2M560.0 60.7h1.4M560.0 66.2h1.4M566.7 49.1V54.7M566.0 49.1h1.4M566.0 54.7h1.4M572.8 46.2V51.8M572.1 46.2h1.4M572.1 51.8h1.4M578.8 46.2V51.8M578.1 46.2h1.4M578.1 51.8h1.4M584.9 57.3V62.8M584.2 57.3h1.4M584.2 62.8h1.4M590.9 49.6V55.1M590.2 49.6h1.4M590.2 55.1h1.4M597.0 51.6V57.1M596.3 51.6h1.4M596.3 57.1h1.4M606.2 60.3V65.8M605.5 60.3h1.4M605.5 65.8h1.4M612.2 72.5V78.0M611.5 72.5h1.4M611.5 78.0h1.4M618.3 70.4V76.0M617.6 70.4h1.4M617.6 76.0h1.4M624.3 64.0V69.6M623.6 64.0h1.4M623.6 69.6h1.4M630.3 67.0V72.6M629.6 67.0h1.4M629.6 72.6h1.4M636.3 54.5V60.0M635.6 54.5h1.4M635.6 60.0h1.4M642.4 62.0V67.5M641.7 62.0h1.4M641.7 67.5h1.4M648.4 57.8V63.4M647.7 57.8h1.4M647.7 63.4h1.4M654.4 60.8V66.3M653.7 60.8h1.4M653.7 66.3h1.4M660.4 62.0V67.5M659.7 62.0h1.4M659.7 67.5h1.4M666.5 68.3V73.8M665.8 68.3h1.4M665.8 73.8h1.4M672.5 72.5V78.0M671.8 72.5h1.4M671.8 78.0h1.4" stroke="#eeee40" stroke-width="0.5" fill="none" opacity="0.8"/>
<polyline points="530.40,71.08 536.45,49.00 542.51,64.50 548.56,61.42 554.62,53.60 560.67,63.49 566.73,51.90 572.78,49.00 578.84,49.00 584.89,60.09 590.95,52.31 597.00,54.38" fill="none" stroke="#333" stroke-width="0.75"/>
<polyline points="606.20,63.08 612.23,75.22 618.25,73.20 624.28,66.80 630.31,69.79 636.34,57.28 642.36,64.78 648.39,60.59 654.42,63.58 660.45,64.78 666.47,71.08 672.50,75.22" fill="none" stroke="#222" stroke-width="0.75"/>
<rect x="529.25" y="69.93" width="2.30" height="2.30" fill="#ffff00"/>
<rect x="535.30" y="47.85" width="2.30" height="2.30" fill="#ffff00"/>
<rect x="541.36" y="63.35" width="2.30" height="2.30" fill="#ffff00"/>
<rect x="547.41" y="60.27" width="2.30" height="2.30" fill="#ffff00"/>
<rect x="553.47" y="52.45" width="2.30" height="2.30" fill="#ffff00"/>
<rect x="559.52" y="62.34" width="2.30" height="2.30" fill="#ffff00"/>
<rect x="565.58" y="50.75" width="2.30" height="2.30" fill="#ffff00"/>
<rect x="571.63" y="47.85" width="2.30" height="2.30" fill="#ffff00"/>
<rect x="577.69" y="47.85" width="2.30" height="2.30" fill="#ffff00"/>
<rect x="583.74" y="58.94" width="2.30" height="2.30" fill="#ffff00"/>
<rect x="589.80" y="51.16" width="2.30" height="2.30" fill="#ffff00"/>
<rect x="595.85" y="53.23" width="2.30" height="2.30" fill="#ffff00"/>
<rect x="605.05" y="61.93" width="2.30" height="2.30" fill="#ffff00"/>
<rect x="611.08" y="74.07" width="2.30" height="2.30" fill="#ffff00"/>
<rect x="617.10" y="72.05" width="2.30" height="2.30" fill="#ffff00"/>
<rect x="623.13" y="65.65" width="2.30" height="2.30" fill="#ffff00"/>
<rect x="629.16" y="68.64" width="2.30" height="2.30" fill="#ffff00"/>
<rect x="635.19" y="56.13" width="2.30" height="2.30" fill="#ffff00"/>
<rect x="641.21" y="63.63" width="2.30" height="2.30" fill="#ffff00"/>
<rect x="647.24" y="59.44" width="2.30" height="2.30" fill="#ffff00"/>
<rect x="653.27" y="62.43" width="2.30" height="2.30" fill="#ffff00"/>
<rect x="659.30" y="63.63" width="2.30" height="2.30" fill="#ffff00"/>
<rect x="665.32" y="69.93" width="2.30" height="2.30" fill="#ffff00"/>
<rect x="671.35" y="74.07" width="2.30" height="2.30" fill="#ffff00"/>
<circle cx="530.40" cy="65.10" r="1.15" fill="#f26b6b"/>
<circle cx="536.45" cy="50.61" r="1.15" fill="#f26b6b"/>
<circle cx="542.51" cy="68.60" r="1.15" fill="#f26b6b"/>
<circle cx="548.56" cy="63.08" r="1.15" fill="#f26b6b"/>
<circle cx="554.62" cy="59.81" r="1.15" fill="#f26b6b"/>
<circle cx="560.67" cy="60.59" r="1.15" fill="#f26b6b"/>
<circle cx="566.73" cy="51.90" r="1.15" fill="#f26b6b"/>
<circle cx="572.78" cy="44.22" r="1.15" fill="#f26b6b"/>
<circle cx="578.84" cy="53.92" r="1.15" fill="#f26b6b"/>
<circle cx="584.89" cy="56.08" r="1.15" fill="#f26b6b"/>
<circle cx="590.95" cy="51.39" r="1.15" fill="#f26b6b"/>
<circle cx="597.00" cy="53.92" r="1.15" fill="#f26b6b"/>
<circle cx="606.20" cy="66.11" r="1.15" fill="#f26b6b"/>
<circle cx="612.23" cy="73.20" r="1.15" fill="#f26b6b"/>
<circle cx="618.25" cy="70.11" r="1.15" fill="#f26b6b"/>
<circle cx="624.28" cy="70.62" r="1.15" fill="#f26b6b"/>
<circle cx="630.31" cy="69.79" r="1.15" fill="#f26b6b"/>
<circle cx="636.34" cy="72.32" r="1.15" fill="#f26b6b"/>
<circle cx="642.36" cy="65.61" r="1.15" fill="#f26b6b"/>
<circle cx="648.39" cy="66.11" r="1.15" fill="#f26b6b"/>
<circle cx="654.42" cy="68.09" r="1.15" fill="#f26b6b"/>
<circle cx="660.45" cy="64.78" r="1.15" fill="#f26b6b"/>
<circle cx="666.47" cy="72.32" r="1.15" fill="#f26b6b"/>
<circle cx="672.50" cy="70.62" r="1.15" fill="#f26b6b"/>
<line x1="530.40" y1="35.50" x2="534.80" y2="35.50" stroke="#333" stroke-width="0.6"/>
<circle cx="532.60" cy="35.50" r="1.10" fill="#f26b6b"/>
<text x="537.40" y="37.50" font-size="4.7" font-weight="normal" fill="#5a5a5a" text-anchor="start">FMS</text>
<line x1="530.40" y1="40.50" x2="534.80" y2="40.50" stroke="#333" stroke-width="0.6"/>
<rect x="531.50" y="39.40" width="2.20" height="2.20" fill="#ffff00"/>
<text x="537.40" y="42.50" font-size="4.7" font-weight="normal" fill="#5a5a5a" text-anchor="start">FSS</text>
<line x1="607.00" y1="37.70" x2="611.40" y2="37.70" stroke="#333" stroke-width="0.6"/>
<circle cx="609.20" cy="37.70" r="1.10" fill="#f26b6b"/>
<text x="614.00" y="39.70" font-size="4.7" font-weight="normal" fill="#5a5a5a" text-anchor="start">FMS</text>
<line x1="607.00" y1="42.70" x2="611.40" y2="42.70" stroke="#333" stroke-width="0.6"/>
<rect x="608.10" y="41.60" width="2.20" height="2.20" fill="#ffff00"/>
<text x="614.00" y="44.70" font-size="4.7" font-weight="normal" fill="#5a5a5a" text-anchor="start">FSS</text>
<line x1="532.60" y1="91.20" x2="532.60" y2="94.50" stroke="#111" stroke-width="0.9"/>
<path d="M531.25,91.90 L532.60,88.70 L533.95,91.90 Z" fill="#111"/>
<line x1="543.50" y1="91.20" x2="543.50" y2="94.50" stroke="#ff1a1a" stroke-width="0.9"/>
<path d="M542.15,91.90 L543.50,88.70 L544.85,91.90 Z" fill="#ff1a1a"/>
<text x="561.00" y="95.50" font-size="7.6" font-weight="bold" fill="#333" text-anchor="start" stroke="#333" stroke-width="0.25" textLength="72.4" lengthAdjust="spacing">Zeitgeber Time (hour)</text>
<rect x="113.40" y="111.30" width="74.90" height="46.90" fill="#b6b6b6"/>
<line x1="114.10" y1="111.70" x2="114.10" y2="158.20" stroke="#111" stroke-width="1.4" stroke-dasharray="2.7 2.1"/>
<line x1="40.40" y1="112.20" x2="40.40" y2="158.60" stroke="#222" stroke-width="0.8"/>
<line x1="39.20" y1="158.20" x2="188.30" y2="158.20" stroke="#222" stroke-width="0.8"/>
<line x1="38.90" y1="158.20" x2="40.40" y2="158.20" stroke="#222" stroke-width="0.7"/>
<text x="38.10" y="159.40" font-size="3.4" font-weight="normal" fill="#111" text-anchor="end">0</text>
<line x1="38.90" y1="149.06" x2="40.40" y2="149.06" stroke="#222" stroke-width="0.7"/>
<text x="38.10" y="150.26" font-size="3.4" font-weight="normal" fill="#111" text-anchor="end">20</text>
<line x1="38.90" y1="139.92" x2="40.40" y2="139.92" stroke="#222" stroke-width="0.7"/>
<text x="38.10" y="141.12" font-size="3.4" font-weight="normal" fill="#111" text-anchor="end">40</text>
<line x1="38.90" y1="130.78" x2="40.40" y2="130.78" stroke="#222" stroke-width="0.7"/>
<text x="38.10" y="131.98" font-size="3.4" font-weight="normal" fill="#111" text-anchor="end">60</text>
<line x1="38.90" y1="121.64" x2="40.40" y2="121.64" stroke="#222" stroke-width="0.7"/>
<text x="38.10" y="122.84" font-size="3.4" font-weight="normal" fill="#111" text-anchor="end">80</text>
<line x1="38.90" y1="112.50" x2="40.40" y2="112.50" stroke="#222" stroke-width="0.7"/>
<text x="38.10" y="113.70" font-size="3.4" font-weight="normal" fill="#111" text-anchor="end">100</text>
<line x1="44.20" y1="158.20" x2="44.20" y2="159.90" stroke="#222" stroke-width="0.7"/>
<text x="44.20" y="163.80" font-size="3.4" font-weight="bold" fill="#222" text-anchor="middle">0</text>
<line x1="50.24" y1="158.20" x2="50.24" y2="159.90" stroke="#222" stroke-width="0.7"/>
<text x="50.24" y="163.80" font-size="3.4" font-weight="bold" fill="#222" text-anchor="middle">1</text>
<line x1="56.27" y1="158.20" x2="56.27" y2="159.90" stroke="#222" stroke-width="0.7"/>
<text x="56.27" y="163.80" font-size="3.4" font-weight="bold" fill="#222" text-anchor="middle">2</text>
<line x1="62.31" y1="158.20" x2="62.31" y2="159.90" stroke="#222" stroke-width="0.7"/>
<text x="62.31" y="163.80" font-size="3.4" font-weight="bold" fill="#222" text-anchor="middle">3</text>
<line x1="68.35" y1="158.20" x2="68.35" y2="159.90" stroke="#222" stroke-width="0.7"/>
<text x="68.35" y="163.80" font-size="3.4" font-weight="bold" fill="#222" text-anchor="middle">4</text>
<line x1="74.38" y1="158.20" x2="74.38" y2="159.90" stroke="#222" stroke-width="0.7"/>
<text x="74.38" y="163.80" font-size="3.4" font-weight="bold" fill="#222" text-anchor="middle">5</text>
<line x1="80.42" y1="158.20" x2="80.42" y2="159.90" stroke="#222" stroke-width="0.7"/>
<text x="80.42" y="163.80" font-size="3.4" font-weight="bold" fill="#222" text-anchor="middle">6</text>
<line x1="86.45" y1="158.20" x2="86.45" y2="159.90" stroke="#222" stroke-width="0.7"/>
<text x="86.45" y="163.80" font-size="3.4" font-weight="bold" fill="#222" text-anchor="middle">7</text>
<line x1="92.49" y1="158.20" x2="92.49" y2="159.90" stroke="#222" stroke-width="0.7"/>
<text x="92.49" y="163.80" font-size="3.4" font-weight="bold" fill="#222" text-anchor="middle">8</text>
<line x1="98.53" y1="158.20" x2="98.53" y2="159.90" stroke="#222" stroke-width="0.7"/>
<text x="98.53" y="163.80" font-size="3.4" font-weight="bold" fill="#222" text-anchor="middle">9</text>
<line x1="104.56" y1="158.20" x2="104.56" y2="159.90" stroke="#222" stroke-width="0.7"/>
<text x="104.56" y="163.80" font-size="3.4" font-weight="bold" fill="#222" text-anchor="middle">10</text>
<line x1="110.60" y1="158.20" x2="110.60" y2="159.90" stroke="#222" stroke-width="0.7"/>
<text x="110.60" y="163.80" font-size="3.4" font-weight="bold" fill="#222" text-anchor="middle">11</text>
<line x1="117.20" y1="158.20" x2="117.20" y2="159.90" stroke="#222" stroke-width="0.7"/>
<text x="117.20" y="163.80" font-size="3.4" font-weight="bold" fill="#222" text-anchor="middle">12</text>
<line x1="123.35" y1="158.20" x2="123.35" y2="159.90" stroke="#222" stroke-width="0.7"/>
<text x="123.35" y="163.80" font-size="3.4" font-weight="bold" fill="#222" text-anchor="middle">13</text>
<line x1="129.51" y1="158.20" x2="129.51" y2="159.90" stroke="#222" stroke-width="0.7"/>
<text x="129.51" y="163.80" font-size="3.4" font-weight="bold" fill="#222" text-anchor="middle">14</text>
<line x1="135.66" y1="158.20" x2="135.66" y2="159.90" stroke="#222" stroke-width="0.7"/>
<text x="135.66" y="163.80" font-size="3.4" font-weight="bold" fill="#222" text-anchor="middle">15</text>
<line x1="141.82" y1="158.20" x2="141.82" y2="159.90" stroke="#222" stroke-width="0.7"/>
<text x="141.82" y="163.80" font-size="3.4" font-weight="bold" fill="#222" text-anchor="middle">16</text>
<line x1="147.97" y1="158.20" x2="147.97" y2="159.90" stroke="#222" stroke-width="0.7"/>
<text x="147.97" y="163.80" font-size="3.4" font-weight="bold" fill="#222" text-anchor="middle">17</text>
<line x1="154.13" y1="158.20" x2="154.13" y2="159.90" stroke="#222" stroke-width="0.7"/>
<text x="154.13" y="163.80" font-size="3.4" font-weight="bold" fill="#222" text-anchor="middle">18</text>
<line x1="160.28" y1="158.20" x2="160.28" y2="159.90" stroke="#222" stroke-width="0.7"/>
<text x="160.28" y="163.80" font-size="3.4" font-weight="bold" fill="#222" text-anchor="middle">19</text>
<line x1="166.44" y1="158.20" x2="166.44" y2="159.90" stroke="#222" stroke-width="0.7"/>
<text x="166.44" y="163.80" font-size="3.4" font-weight="bold" fill="#222" text-anchor="middle">20</text>
<line x1="172.59" y1="158.20" x2="172.59" y2="159.90" stroke="#222" stroke-width="0.7"/>
<text x="172.59" y="163.80" font-size="3.4" font-weight="bold" fill="#222" text-anchor="middle">21</text>
<line x1="178.75" y1="158.20" x2="178.75" y2="159.90" stroke="#222" stroke-width="0.7"/>
<text x="178.75" y="163.80" font-size="3.4" font-weight="bold" fill="#222" text-anchor="middle">22</text>
<line x1="184.90" y1="158.20" x2="184.90" y2="159.90" stroke="#222" stroke-width="0.7"/>
<text x="184.90" y="163.80" font-size="3.4" font-weight="bold" fill="#222" text-anchor="middle">23</text>
<text x="31.10" y="135.35" font-size="3.85" font-weight="normal" fill="#333" text-anchor="middle" transform="rotate(-90 31.10 135.35)">% Time Asleep</text>
<path d="M44.2 149.5V155.0M43.5 149.5h1.4M43.5 155.0h1.4M50.2 152.9V158.2M49.5 152.9h1.4M56.3 149.5V155.0M55.6 149.5h1.4M55.6 155.0h1.4M62.3 142.2V147.7M61.6 142.2h1.4M61.6 147.7h1.4M68.3 150.4V155.9M67.6 150.4h1.4M67.6 155.9h1.4M74.4 134.9V140.4M73.7 134.9h1.4M73.7 140.4h1.4M80.4 124.8V130.3M79.7 124.8h1.4M79.7 130.3h1.4M86.5 124.8V130.3M85.8 124.8h1.4M85.8 130.3h1.4M92.5 119.4V124.8M91.8 119.4h1.4M91.8 124.8h1.4M98.5 126.2V131.7M97.8 126.2h1.4M97.8 131.7h1.4M104.6 127.1V132.6M103.9 127.1h1.4M103.9 132.6h1.4M110.6 129.4V134.9M109.9 129.4h1.4M109.9 134.9h1.4M117.2 139.5V144.9M116.5 139.5h1.4M116.5 144.9h1.4M123.4 146.1V151.6M122.7 146.1h1.4M122.7 151.6h1.4M129.5 134.9V140.4M128.8 134.9h1.4M128.8 140.4h1.4M135.7 123.5V129.0M135.0 123.5h1.4M135.0 129.0h1.4M141.8 133.1V138.5M141.1 133.1h1.4M141.1 138.5h1.4M148.0 135.3V140.8M147.3 135.3h1.4M147.3 140.8h1.4M154.1 145.4V150.9M153.4 145.4h1.4M153.4 150.9h1.4M160.3 136.3V141.7M159.6 136.3h1.4M159.6 141.7h1.4M166.4 123.9V129.4M165.7 123.9h1.4M165.7 129.4h1.4M172.6 128.0V133.5M171.9 128.0h1.4M171.9 133.5h1.4M178.7 135.3V140.8M178.0 135.3h1.4M178.0 140.8h1.4M184.9 151.8V157.3M184.2 151.8h1.4M184.2 157.3h1.4" stroke="#b0606a" stroke-width="0.5" fill="none" opacity="0.8"/>
<polyline points="44.20,152.26 50.24,155.69 56.27,152.26 62.31,144.95 68.35,153.17 74.38,137.63 80.42,127.58 86.45,127.58 92.49,122.10 98.53,128.95 104.56,129.87 110.60,132.15" fill="none" stroke="#333" stroke-width="0.75"/>
<polyline points="117.20,142.20 123.35,148.83 129.51,137.63 135.66,126.21 141.82,135.81 147.97,138.09 154.13,148.15 160.28,139.01 166.44,126.67 172.59,130.78 178.75,138.09 184.90,154.54" fill="none" stroke="#222" stroke-width="0.75"/>
<path d="M44.2 145.4V150.9M43.5 145.4h1.4M43.5 150.9h1.4M50.2 134.9V140.4M49.5 134.9h1.4M49.5 140.4h1.4M56.3 139.9V145.4M55.6 139.9h1.4M55.6 145.4h1.4M62.3 134.9V140.4M61.6 134.9h1.4M61.6 140.4h1.4M68.3 129.0V134.4M67.6 129.0h1.4M67.6 134.4h1.4M74.4 133.3V138.8M73.7 133.3h1.4M73.7 138.8h1.4M80.4 124.8V130.3M79.7 124.8h1.4M79.7 130.3h1.4M86.5 124.4V129.9M85.8 124.4h1.4M85.8 129.9h1.4M92.5 124.4V129.9M91.8 124.4h1.4M91.8 129.9h1.4M98.5 131.2V136.7M97.8 131.2h1.4M97.8 136.7h1.4M104.6 124.4V129.9M103.9 124.4h1.4M103.9 129.9h1.4M110.6 130.3V135.8M109.9 130.3h1.4M109.9 135.8h1.4M117.2 147.2V152.7M116.5 147.2h1.4M116.5 152.7h1.4M123.4 147.7V153.2M122.7 147.7h1.4M122.7 153.2h1.4M129.5 147.7V153.2M128.8 147.7h1.4M128.8 153.2h1.4M135.7 135.8V141.3M135.0 135.8h1.4M135.0 141.3h1.4M141.8 135.8V141.3M141.1 135.8h1.4M141.1 141.3h1.4M148.0 148.6V154.1M147.3 148.6h1.4M147.3 154.1h1.4M154.1 143.1V148.6M153.4 143.1h1.4M153.4 148.6h1.4M160.3 140.4V145.9M159.6 140.4h1.4M159.6 145.9h1.4M166.4 129.0V134.4M165.7 129.0h1.4M165.7 134.4h1.4M172.6 126.2V131.7M171.9 126.2h1.4M171.9 131.7h1.4M178.7 137.9V143.3M178.0 137.9h1.4M178.0 143.3h1.4M184.9 147.2V152.7M184.2 147.2h1.4M184.2 152.7h1.4" stroke="#f7a24a" stroke-width="0.5" fill="none" opacity="0.8"/>
<polyline points="44.20,148.15 50.24,137.63 56.27,142.66 62.31,137.63 68.35,131.69 74.38,136.04 80.42,127.58 86.45,127.12 92.49,127.12 98.53,133.98 104.56,127.12 110.60,133.06" fill="none" stroke="#333" stroke-width="0.75"/>
<polyline points="117.20,149.97 123.35,150.43 129.51,150.43 135.66,138.55 141.82,138.55 147.97,151.34 154.13,145.86 160.28,143.12 166.44,131.69 172.59,128.95 178.75,140.61 184.90,149.97" fill="none" stroke="#222" stroke-width="0.75"/>
<rect x="43.05" y="147.00" width="2.30" height="2.30" fill="#f7931e"/>
<rect x="49.09" y="136.48" width="2.30" height="2.30" fill="#f7931e"/>
<rect x="55.12" y="141.51" width="2.30" height="2.30" fill="#f7931e"/>
<rect x="61.16" y="136.48" width="2.30" height="2.30" fill="#f7931e"/>
<rect x="67.20" y="130.54" width="2.30" height="2.30" fill="#f7931e"/>
<rect x="73.23" y="134.89" width="2.30" height="2.30" fill="#f7931e"/>
<rect x="79.27" y="126.43" width="2.30" height="2.30" fill="#f7931e"/>
<rect x="85.30" y="125.97" width="2.30" height="2.30" fill="#f7931e"/>
<rect x="91.34" y="125.97" width="2.30" height="2.30" fill="#f7931e"/>
<rect x="97.38" y="132.83" width="2.30" height="2.30" fill="#f7931e"/>
<rect x="103.41" y="125.97" width="2.30" height="2.30" fill="#f7931e"/>
<rect x="109.45" y="131.91" width="2.30" height="2.30" fill="#f7931e"/>
<rect x="116.05" y="148.82" width="2.30" height="2.30" fill="#f7931e"/>
<rect x="122.20" y="149.28" width="2.30" height="2.30" fill="#f7931e"/>
<rect x="128.36" y="149.28" width="2.30" height="2.30" fill="#f7931e"/>
<rect x="134.51" y="137.40" width="2.30" height="2.30" fill="#f7931e"/>
<rect x="140.67" y="137.40" width="2.30" height="2.30" fill="#f7931e"/>
<rect x="146.82" y="150.19" width="2.30" height="2.30" fill="#f7931e"/>
<rect x="152.98" y="144.71" width="2.30" height="2.30" fill="#f7931e"/>
<rect x="159.13" y="141.97" width="2.30" height="2.30" fill="#f7931e"/>
<rect x="165.29" y="130.54" width="2.30" height="2.30" fill="#f7931e"/>
<rect x="171.44" y="127.80" width="2.30" height="2.30" fill="#f7931e"/>
<rect x="177.60" y="139.46" width="2.30" height="2.30" fill="#f7931e"/>
<rect x="183.75" y="148.82" width="2.30" height="2.30" fill="#f7931e"/>
<circle cx="44.20" cy="152.26" r="1.15" fill="#3c0612"/>
<circle cx="50.24" cy="155.69" r="1.15" fill="#3c0612"/>
<circle cx="56.27" cy="152.26" r="1.15" fill="#3c0612"/>
<circle cx="62.31" cy="144.95" r="1.15" fill="#3c0612"/>
<circle cx="68.35" cy="153.17" r="1.15" fill="#3c0612"/>
<circle cx="74.38" cy="137.63" r="1.15" fill="#3c0612"/>
<circle cx="80.42" cy="127.58" r="1.15" fill="#3c0612"/>
<circle cx="86.45" cy="127.58" r="1.15" fill="#3c0612"/>
<circle cx="92.49" cy="122.10" r="1.15" fill="#3c0612"/>
<circle cx="98.53" cy="128.95" r="1.15" fill="#3c0612"/>
<circle cx="104.56" cy="129.87" r="1.15" fill="#3c0612"/>
<circle cx="110.60" cy="132.15" r="1.15" fill="#3c0612"/>
<circle cx="117.20" cy="142.20" r="1.15" fill="#3c0612"/>
<circle cx="123.35" cy="148.83" r="1.15" fill="#3c0612"/>
<circle cx="129.51" cy="137.63" r="1.15" fill="#3c0612"/>
<circle cx="135.66" cy="126.21" r="1.15" fill="#3c0612"/>
<circle cx="141.82" cy="135.81" r="1.15" fill="#3c0612"/>
<circle cx="147.97" cy="138.09" r="1.15" fill="#3c0612"/>
<circle cx="154.13" cy="148.15" r="1.15" fill="#3c0612"/>
<circle cx="160.28" cy="139.01" r="1.15" fill="#3c0612"/>
<circle cx="166.44" cy="126.67" r="1.15" fill="#3c0612"/>
<circle cx="172.59" cy="130.78" r="1.15" fill="#3c0612"/>
<circle cx="178.75" cy="138.09" r="1.15" fill="#3c0612"/>
<circle cx="184.90" cy="154.54" r="1.15" fill="#3c0612"/>
<line x1="43.30" y1="112.50" x2="47.70" y2="112.50" stroke="#333" stroke-width="0.6"/>
<circle cx="45.50" cy="112.50" r="1.10" fill="#3c0612"/>
<text x="50.30" y="114.50" font-size="4.7" font-weight="normal" fill="#5a5a5a" text-anchor="start">FMN</text>
<line x1="43.30" y1="117.50" x2="47.70" y2="117.50" stroke="#333" stroke-width="0.6"/>
<rect x="44.40" y="116.40" width="2.20" height="2.20" fill="#f7931e"/>
<text x="50.30" y="119.50" font-size="4.7" font-weight="normal" fill="#5a5a5a" text-anchor="start">FSN</text>
<line x1="117.80" y1="115.00" x2="122.20" y2="115.00" stroke="#333" stroke-width="0.6"/>
<circle cx="120.00" cy="115.00" r="1.10" fill="#3c0612"/>
<text x="124.80" y="117.00" font-size="4.7" font-weight="normal" fill="#5a5a5a" text-anchor="start">FMN</text>
<line x1="117.80" y1="120.00" x2="122.20" y2="120.00" stroke="#333" stroke-width="0.6"/>
<rect x="118.90" y="118.90" width="2.20" height="2.20" fill="#f7931e"/>
<text x="124.80" y="122.00" font-size="4.7" font-weight="normal" fill="#5a5a5a" text-anchor="start">FSN</text>
<line x1="63.80" y1="111.70" x2="63.80" y2="120.90" stroke="#555" stroke-width="1.2"/>
<circle cx="66.20" cy="116.30" r="0.9" fill="#111"/>
<line x1="136.40" y1="112.50" x2="136.40" y2="122.80" stroke="#555" stroke-width="1.2"/>
<circle cx="138.80" cy="117.65" r="0.9" fill="#111"/>
<text x="75.20" y="155.70" font-size="3.75" fill="#333" textLength="22.8" lengthAdjust="spacing">Hour X Group</text>
<text x="98.50" y="155.10" font-size="3.2" fill="#333">****</text>
<text x="48.50" y="131.90" font-size="4" font-weight="normal" fill="#444" text-anchor="start">**</text>
<text x="66.50" y="127.40" font-size="4" font-weight="normal" fill="#444" text-anchor="start">**</text>
<line x1="46.40" y1="168.40" x2="46.40" y2="171.70" stroke="#111" stroke-width="0.9"/>
<path d="M45.05,169.10 L46.40,165.90 L47.75,169.10 Z" fill="#111"/>
<line x1="57.20" y1="168.40" x2="57.20" y2="171.70" stroke="#ff1a1a" stroke-width="0.9"/>
<path d="M55.85,169.10 L57.20,165.90 L58.55,169.10 Z" fill="#ff1a1a"/>
<text x="78.80" y="174.90" font-size="7.6" font-weight="bold" fill="#333" text-anchor="start" stroke="#333" stroke-width="0.25" textLength="72.6" lengthAdjust="spacing">Zeitgeber Time (hour)</text>
<rect x="359.10" y="112.00" width="74.00" height="46.20" fill="#b6b6b6"/>
<line x1="359.80" y1="112.40" x2="359.80" y2="158.20" stroke="#111" stroke-width="1.4" stroke-dasharray="2.7 2.1"/>
<line x1="284.70" y1="112.20" x2="284.70" y2="158.60" stroke="#222" stroke-width="0.8"/>
<line x1="283.50" y1="158.20" x2="433.10" y2="158.20" stroke="#222" stroke-width="0.8"/>
<line x1="283.20" y1="158.20" x2="284.70" y2="158.20" stroke="#222" stroke-width="0.7"/>
<text x="282.40" y="159.40" font-size="3.4" font-weight="normal" fill="#111" text-anchor="end">0</text>
<line x1="283.20" y1="149.06" x2="284.70" y2="149.06" stroke="#222" stroke-width="0.7"/>
<text x="282.40" y="150.26" font-size="3.4" font-weight="normal" fill="#111" text-anchor="end">20</text>
<line x1="283.20" y1="139.92" x2="284.70" y2="139.92" stroke="#222" stroke-width="0.7"/>
<text x="282.40" y="141.12" font-size="3.4" font-weight="normal" fill="#111" text-anchor="end">40</text>
<line x1="283.20" y1="130.78" x2="284.70" y2="130.78" stroke="#222" stroke-width="0.7"/>
<text x="282.40" y="131.98" font-size="3.4" font-weight="normal" fill="#111" text-anchor="end">60</text>
<line x1="283.20" y1="121.64" x2="284.70" y2="121.64" stroke="#222" stroke-width="0.7"/>
<text x="282.40" y="122.84" font-size="3.4" font-weight="normal" fill="#111" text-anchor="end">80</text>
<line x1="283.20" y1="112.50" x2="284.70" y2="112.50" stroke="#222" stroke-width="0.7"/>
<text x="282.40" y="113.70" font-size="3.4" font-weight="normal" fill="#111" text-anchor="end">100</text>
<line x1="289.20" y1="158.20" x2="289.20" y2="159.90" stroke="#222" stroke-width="0.7"/>
<text x="289.20" y="163.80" font-size="3.4" font-weight="bold" fill="#222" text-anchor="middle">0</text>
<line x1="295.25" y1="158.20" x2="295.25" y2="159.90" stroke="#222" stroke-width="0.7"/>
<text x="295.25" y="163.80" font-size="3.4" font-weight="bold" fill="#222" text-anchor="middle">1</text>
<line x1="301.31" y1="158.20" x2="301.31" y2="159.90" stroke="#222" stroke-width="0.7"/>
<text x="301.31" y="163.80" font-size="3.4" font-weight="bold" fill="#222" text-anchor="middle">2</text>
<line x1="307.36" y1="158.20" x2="307.36" y2="159.90" stroke="#222" stroke-width="0.7"/>
<text x="307.36" y="163.80" font-size="3.4" font-weight="bold" fill="#222" text-anchor="middle">3</text>
<line x1="313.42" y1="158.20" x2="313.42" y2="159.90" stroke="#222" stroke-width="0.7"/>
<text x="313.42" y="163.80" font-size="3.4" font-weight="bold" fill="#222" text-anchor="middle">4</text>
<line x1="319.47" y1="158.20" x2="319.47" y2="159.90" stroke="#222" stroke-width="0.7"/>
<text x="319.47" y="163.80" font-size="3.4" font-weight="bold" fill="#222" text-anchor="middle">5</text>
<line x1="325.53" y1="158.20" x2="325.53" y2="159.90" stroke="#222" stroke-width="0.7"/>
<text x="325.53" y="163.80" font-size="3.4" font-weight="bold" fill="#222" text-anchor="middle">6</text>
<line x1="331.58" y1="158.20" x2="331.58" y2="159.90" stroke="#222" stroke-width="0.7"/>
<text x="331.58" y="163.80" font-size="3.4" font-weight="bold" fill="#222" text-anchor="middle">7</text>
<line x1="337.64" y1="158.20" x2="337.64" y2="159.90" stroke="#222" stroke-width="0.7"/>
<text x="337.64" y="163.80" font-size="3.4" font-weight="bold" fill="#222" text-anchor="middle">8</text>
<line x1="343.69" y1="158.20" x2="343.69" y2="159.90" stroke="#222" stroke-width="0.7"/>
<text x="343.69" y="163.80" font-size="3.4" font-weight="bold" fill="#222" text-anchor="middle">9</text>
<line x1="349.75" y1="158.20" x2="349.75" y2="159.90" stroke="#222" stroke-width="0.7"/>
<text x="349.75" y="163.80" font-size="3.4" font-weight="bold" fill="#222" text-anchor="middle">10</text>
<line x1="355.80" y1="158.20" x2="355.80" y2="159.90" stroke="#222" stroke-width="0.7"/>
<text x="355.80" y="163.80" font-size="3.4" font-weight="bold" fill="#222" text-anchor="middle">11</text>
<line x1="362.90" y1="158.20" x2="362.90" y2="159.90" stroke="#222" stroke-width="0.7"/>
<text x="362.90" y="163.80" font-size="3.4" font-weight="bold" fill="#222" text-anchor="middle">12</text>
<line x1="368.98" y1="158.20" x2="368.98" y2="159.90" stroke="#222" stroke-width="0.7"/>
<text x="368.98" y="163.80" font-size="3.4" font-weight="bold" fill="#222" text-anchor="middle">13</text>
<line x1="375.06" y1="158.20" x2="375.06" y2="159.90" stroke="#222" stroke-width="0.7"/>
<text x="375.06" y="163.80" font-size="3.4" font-weight="bold" fill="#222" text-anchor="middle">14</text>
<line x1="381.15" y1="158.20" x2="381.15" y2="159.90" stroke="#222" stroke-width="0.7"/>
<text x="381.15" y="163.80" font-size="3.4" font-weight="bold" fill="#222" text-anchor="middle">15</text>
<line x1="387.23" y1="158.20" x2="387.23" y2="159.90" stroke="#222" stroke-width="0.7"/>
<text x="387.23" y="163.80" font-size="3.4" font-weight="bold" fill="#222" text-anchor="middle">16</text>
<line x1="393.31" y1="158.20" x2="393.31" y2="159.90" stroke="#222" stroke-width="0.7"/>
<text x="393.31" y="163.80" font-size="3.4" font-weight="bold" fill="#222" text-anchor="middle">17</text>
<line x1="399.39" y1="158.20" x2="399.39" y2="159.90" stroke="#222" stroke-width="0.7"/>
<text x="399.39" y="163.80" font-size="3.4" font-weight="bold" fill="#222" text-anchor="middle">18</text>
<line x1="405.47" y1="158.20" x2="405.47" y2="159.90" stroke="#222" stroke-width="0.7"/>
<text x="405.47" y="163.80" font-size="3.4" font-weight="bold" fill="#222" text-anchor="middle">19</text>
<line x1="411.55" y1="158.20" x2="411.55" y2="159.90" stroke="#222" stroke-width="0.7"/>
<text x="411.55" y="163.80" font-size="3.4" font-weight="bold" fill="#222" text-anchor="middle">20</text>
<line x1="417.64" y1="158.20" x2="417.64" y2="159.90" stroke="#222" stroke-width="0.7"/>
<text x="417.64" y="163.80" font-size="3.4" font-weight="bold" fill="#222" text-anchor="middle">21</text>
<line x1="423.72" y1="158.20" x2="423.72" y2="159.90" stroke="#222" stroke-width="0.7"/>
<text x="423.72" y="163.80" font-size="3.4" font-weight="bold" fill="#222" text-anchor="middle">22</text>
<line x1="429.80" y1="158.20" x2="429.80" y2="159.90" stroke="#222" stroke-width="0.7"/>
<text x="429.80" y="163.80" font-size="3.4" font-weight="bold" fill="#222" text-anchor="middle">23</text>
<text x="275.40" y="135.35" font-size="3.85" font-weight="normal" fill="#333" text-anchor="middle" transform="rotate(-90 275.40 135.35)">% Time Asleep</text>
<path d="M289.2 146.1V151.6M288.5 146.1h1.4M288.5 151.6h1.4M295.3 155.0V158.2M294.6 155.0h1.4M301.3 150.9V156.4M300.6 150.9h1.4M300.6 156.4h1.4M307.4 134.4V139.9M306.7 134.4h1.4M306.7 139.9h1.4M313.4 151.6V157.1M312.7 151.6h1.4M312.7 157.1h1.4M319.5 151.6V157.1M318.8 151.6h1.4M318.8 157.1h1.4M325.5 141.1V146.5M324.8 141.1h1.4M324.8 146.5h1.4M331.6 121.6V127.1M330.9 121.6h1.4M330.9 127.1h1.4M337.6 121.2V126.7M336.9 121.2h1.4M336.9 126.7h1.4M343.7 128.7V134.2M343.0 128.7h1.4M343.0 134.2h1.4M349.7 125.3V130.8M349.0 125.3h1.4M349.0 130.8h1.4M355.8 119.8V125.3M355.1 119.8h1.4M355.1 125.3h1.4M362.9 137.4V142.8M362.2 137.4h1.4M362.2 142.8h1.4M369.0 140.4V145.9M368.3 140.4h1.4M368.3 145.9h1.4M375.1 129.0V134.4M374.4 129.0h1.4M374.4 134.4h1.4M381.1 132.2V137.6M380.4 132.2h1.4M380.4 137.6h1.4M387.2 135.3V140.8M386.5 135.3h1.4M386.5 140.8h1.4M393.3 136.0V141.5M392.6 136.0h1.4M392.6 141.5h1.4M399.4 125.8V131.2M398.7 125.8h1.4M398.7 131.2h1.4M405.5 125.8V131.2M404.8 125.8h1.4M404.8 131.2h1.4M411.6 123.9V129.4M410.9 123.9h1.4M410.9 129.4h1.4M417.6 138.3V143.8M416.9 138.3h1.4M416.9 143.8h1.4M423.7 142.9V148.4M423.0 142.9h1.4M423.0 148.4h1.4M429.8 136.7V142.2M429.1 136.7h1.4M429.1 142.2h1.4" stroke="#b0606a" stroke-width="0.5" fill="none" opacity="0.8"/>
<polyline points="289.20,148.83 295.25,157.74 301.31,153.63 307.36,137.18 313.42,154.32 319.47,154.32 325.53,143.80 331.58,124.38 337.64,123.92 343.69,131.47 349.75,128.04 355.80,122.55" fill="none" stroke="#333" stroke-width="0.75"/>
<polyline points="362.90,140.10 368.98,143.12 375.06,131.69 381.15,134.89 387.23,138.09 393.31,138.78 399.39,128.50 405.47,128.50 411.55,126.67 417.64,141.02 423.72,145.63 429.80,139.46" fill="none" stroke="#222" stroke-width="0.75"/>
<path d="M289.2 151.6V157.1M288.5 151.6h1.4M288.5 157.1h1.4M295.3 155.0V158.2M294.6 155.0h1.4M301.3 152.0V157.5M300.6 152.0h1.4M300.6 157.5h1.4M307.4 151.1V156.6M306.7 151.1h1.4M306.7 156.6h1.4M313.4 151.6V157.1M312.7 151.6h1.4M312.7 157.1h1.4M319.5 134.9V140.4M318.8 134.9h1.4M318.8 140.4h1.4M325.5 117.8V123.2M324.8 117.8h1.4M324.8 123.2h1.4M331.6 121.6V127.1M330.9 121.6h1.4M330.9 127.1h1.4M337.6 121.6V127.1M336.9 121.6h1.4M336.9 127.1h1.4M343.7 123.9V129.4M343.0 123.9h1.4M343.0 129.4h1.4M349.7 125.3V130.8M349.0 125.3h1.4M349.0 130.8h1.4M355.8 125.3V130.8M355.1 125.3h1.4M355.1 130.8h1.4M362.9 134.9V140.4M362.2 134.9h1.4M362.2 140.4h1.4M369.0 136.7V142.2M368.3 136.7h1.4M368.3 142.2h1.4M375.1 129.9V135.3M374.4 129.9h1.4M374.4 135.3h1.4M381.1 137.2V142.7M380.4 137.2h1.4M380.4 142.7h1.4M387.2 137.8V143.3M386.5 137.8h1.4M386.5 143.3h1.4M393.3 140.4V145.9M392.6 140.4h1.4M392.6 145.9h1.4M399.4 134.9V140.4M398.7 134.9h1.4M398.7 140.4h1.4M405.5 129.5V135.0M404.8 129.5h1.4M404.8 135.0h1.4M411.6 137.2V142.7M410.9 137.2h1.4M410.9 142.7h1.4M417.6 144.5V150.0M416.9 144.5h1.4M416.9 150.0h1.4M423.7 146.5V152.0M423.0 146.5h1.4M423.0 152.0h1.4M429.8 151.9V157.4M429.1 151.9h1.4M429.1 157.4h1.4" stroke="#f58a8a" stroke-width="0.5" fill="none" opacity="0.8"/>
<polyline points="289.20,154.32 295.25,157.74 301.31,154.77 307.36,153.86 313.42,154.32 319.47,137.63 325.53,120.50 331.58,124.38 337.64,124.38 343.69,126.67 349.75,128.04 355.80,128.04" fill="none" stroke="#333" stroke-width="0.75"/>
<polyline points="362.90,137.63 368.98,139.46 375.06,132.61 381.15,139.92 387.23,140.51 393.31,143.12 399.39,137.63 405.47,132.29 411.55,139.92 417.64,147.23 423.72,149.29 429.80,154.68" fill="none" stroke="#222" stroke-width="0.75"/>
<circle cx="289.20" cy="154.32" r="1.15" fill="#f26b6b"/>
<circle cx="295.25" cy="157.74" r="1.15" fill="#f26b6b"/>
<circle cx="301.31" cy="154.77" r="1.15" fill="#f26b6b"/>
<circle cx="307.36" cy="153.86" r="1.15" fill="#f26b6b"/>
<circle cx="313.42" cy="154.32" r="1.15" fill="#f26b6b"/>
<circle cx="319.47" cy="137.63" r="1.15" fill="#f26b6b"/>
<circle cx="325.53" cy="120.50" r="1.15" fill="#f26b6b"/>
<circle cx="331.58" cy="124.38" r="1.15" fill="#f26b6b"/>
<circle cx="337.64" cy="124.38" r="1.15" fill="#f26b6b"/>
<circle cx="343.69" cy="126.67" r="1.15" fill="#f26b6b"/>
<circle cx="349.75" cy="128.04" r="1.15" fill="#f26b6b"/>
<circle cx="355.80" cy="128.04" r="1.15" fill="#f26b6b"/>
<circle cx="362.90" cy="137.63" r="1.15" fill="#f26b6b"/>
<circle cx="368.98" cy="139.46" r="1.15" fill="#f26b6b"/>
<circle cx="375.06" cy="132.61" r="1.15" fill="#f26b6b"/>
<circle cx="381.15" cy="139.92" r="1.15" fill="#f26b6b"/>
<circle cx="387.23" cy="140.51" r="1.15" fill="#f26b6b"/>
<circle cx="393.31" cy="143.12" r="1.15" fill="#f26b6b"/>
<circle cx="399.39" cy="137.63" r="1.15" fill="#f26b6b"/>
<circle cx="405.47" cy="132.29" r="1.15" fill="#f26b6b"/>
<circle cx="411.55" cy="139.92" r="1.15" fill="#f26b6b"/>
<circle cx="417.64" cy="147.23" r="1.15" fill="#f26b6b"/>
<circle cx="423.72" cy="149.29" r="1.15" fill="#f26b6b"/>
<circle cx="429.80" cy="154.68" r="1.15" fill="#f26b6b"/>
<circle cx="289.20" cy="148.83" r="1.15" fill="#3c0612"/>
<circle cx="295.25" cy="157.74" r="1.15" fill="#3c0612"/>
<circle cx="301.31" cy="153.63" r="1.15" fill="#3c0612"/>
<circle cx="307.36" cy="137.18" r="1.15" fill="#3c0612"/>
<circle cx="313.42" cy="154.32" r="1.15" fill="#3c0612"/>
<circle cx="319.47" cy="154.32" r="1.15" fill="#3c0612"/>
<circle cx="325.53" cy="143.80" r="1.15" fill="#3c0612"/>
<circle cx="331.58" cy="124.38" r="1.15" fill="#3c0612"/>
<circle cx="337.64" cy="123.92" r="1.15" fill="#3c0612"/>
<circle cx="343.69" cy="131.47" r="1.15" fill="#3c0612"/>
<circle cx="349.75" cy="128.04" r="1.15" fill="#3c0612"/>
<circle cx="355.80" cy="122.55" r="1.15" fill="#3c0612"/>
<circle cx="362.90" cy="140.10" r="1.15" fill="#3c0612"/>
<circle cx="368.98" cy="143.12" r="1.15" fill="#3c0612"/>
<circle cx="375.06" cy="131.69" r="1.15" fill="#3c0612"/>
<circle cx="381.15" cy="134.89" r="1.15" fill="#3c0612"/>
<circle cx="387.23" cy="138.09" r="1.15" fill="#3c0612"/>
<circle cx="393.31" cy="138.78" r="1.15" fill="#3c0612"/>
<circle cx="399.39" cy="128.50" r="1.15" fill="#3c0612"/>
<circle cx="405.47" cy="128.50" r="1.15" fill="#3c0612"/>
<circle cx="411.55" cy="126.67" r="1.15" fill="#3c0612"/>
<circle cx="417.64" cy="141.02" r="1.15" fill="#3c0612"/>
<circle cx="423.72" cy="145.63" r="1.15" fill="#3c0612"/>
<circle cx="429.80" cy="139.46" r="1.15" fill="#3c0612"/>
<line x1="288.80" y1="112.50" x2="293.20" y2="112.50" stroke="#333" stroke-width="0.6"/>
<circle cx="291.00" cy="112.50" r="1.10" fill="#3c0612"/>
<text x="295.80" y="114.50" font-size="4.7" font-weight="normal" fill="#5a5a5a" text-anchor="start">FMN</text>
<line x1="288.80" y1="117.90" x2="293.20" y2="117.90" stroke="#333" stroke-width="0.6"/>
<circle cx="291.00" cy="117.90" r="1.10" fill="#f26b6b"/>
<text x="295.80" y="119.90" font-size="4.7" font-weight="normal" fill="#5a5a5a" text-anchor="start">FMS</text>
<line x1="363.70" y1="114.50" x2="368.10" y2="114.50" stroke="#333" stroke-width="0.6"/>
<circle cx="365.90" cy="114.50" r="1.10" fill="#3c0612"/>
<text x="370.70" y="116.50" font-size="4.7" font-weight="normal" fill="#5a5a5a" text-anchor="start">FMN</text>
<line x1="363.70" y1="119.50" x2="368.10" y2="119.50" stroke="#333" stroke-width="0.6"/>
<circle cx="365.90" cy="119.50" r="1.10" fill="#f26b6b"/>
<text x="370.70" y="121.50" font-size="4.7" font-weight="normal" fill="#5a5a5a" text-anchor="start">FMS</text>
<line x1="383.70" y1="113.30" x2="383.70" y2="122.60" stroke="#555" stroke-width="1.2"/>
<text x="327.70" y="155.70" font-size="3.75" fill="#333" textLength="22.8" lengthAdjust="spacing">Hour X Group</text>
<text x="351.00" y="155.10" font-size="3.2" fill="#333">****</text>
<text x="385.00" y="119.20" font-size="3.9" font-weight="normal" fill="#444" text-anchor="start" textLength="21.8" lengthAdjust="spacing">ns, p=0.0838</text>
<text x="323.60" y="116.40" font-size="4" font-weight="normal" fill="#444" text-anchor="start">*</text>
<line x1="291.10" y1="168.40" x2="291.10" y2="171.70" stroke="#111" stroke-width="0.9"/>
<path d="M289.75,169.10 L291.10,165.90 L292.45,169.10 Z" fill="#111"/>
<line x1="301.90" y1="168.40" x2="301.90" y2="171.70" stroke="#ff1a1a" stroke-width="0.9"/>
<path d="M300.55,169.10 L301.90,165.90 L303.25,169.10 Z" fill="#ff1a1a"/>
<text x="323.30" y="174.90" font-size="7.6" font-weight="bold" fill="#333" text-anchor="start" stroke="#333" stroke-width="0.25" textLength="72.6" lengthAdjust="spacing">Zeitgeber Time (hour)</text>
<rect x="602.30" y="112.30" width="74.10" height="46.20" fill="#b6b6b6"/>
<line x1="603.00" y1="112.70" x2="603.00" y2="158.50" stroke="#111" stroke-width="1.4" stroke-dasharray="2.7 2.1"/>
<line x1="526.20" y1="112.20" x2="526.20" y2="158.90" stroke="#222" stroke-width="0.8"/>
<line x1="525.00" y1="158.50" x2="676.40" y2="158.50" stroke="#222" stroke-width="0.8"/>
<line x1="524.70" y1="158.50" x2="526.20" y2="158.50" stroke="#222" stroke-width="0.7"/>
<text x="523.90" y="159.70" font-size="3.4" font-weight="normal" fill="#111" text-anchor="end">0</text>
<line x1="524.70" y1="149.30" x2="526.20" y2="149.30" stroke="#222" stroke-width="0.7"/>
<text x="523.90" y="150.50" font-size="3.4" font-weight="normal" fill="#111" text-anchor="end">20</text>
<line x1="524.70" y1="140.10" x2="526.20" y2="140.10" stroke="#222" stroke-width="0.7"/>
<text x="523.90" y="141.30" font-size="3.4" font-weight="normal" fill="#111" text-anchor="end">40</text>
<line x1="524.70" y1="130.90" x2="526.20" y2="130.90" stroke="#222" stroke-width="0.7"/>
<text x="523.90" y="132.10" font-size="3.4" font-weight="normal" fill="#111" text-anchor="end">60</text>
<line x1="524.70" y1="121.70" x2="526.20" y2="121.70" stroke="#222" stroke-width="0.7"/>
<text x="523.90" y="122.90" font-size="3.4" font-weight="normal" fill="#111" text-anchor="end">80</text>
<line x1="524.70" y1="112.50" x2="526.20" y2="112.50" stroke="#222" stroke-width="0.7"/>
<text x="523.90" y="113.70" font-size="3.4" font-weight="normal" fill="#111" text-anchor="end">100</text>
<line x1="530.40" y1="158.50" x2="530.40" y2="160.20" stroke="#222" stroke-width="0.7"/>
<text x="530.40" y="164.10" font-size="3.4" font-weight="bold" fill="#222" text-anchor="middle">0</text>
<line x1="536.45" y1="158.50" x2="536.45" y2="160.20" stroke="#222" stroke-width="0.7"/>
<text x="536.45" y="164.10" font-size="3.4" font-weight="bold" fill="#222" text-anchor="middle">1</text>
<line x1="542.51" y1="158.50" x2="542.51" y2="160.20" stroke="#222" stroke-width="0.7"/>
<text x="542.51" y="164.10" font-size="3.4" font-weight="bold" fill="#222" text-anchor="middle">2</text>
<line x1="548.56" y1="158.50" x2="548.56" y2="160.20" stroke="#222" stroke-width="0.7"/>
<text x="548.56" y="164.10" font-size="3.4" font-weight="bold" fill="#222" text-anchor="middle">3</text>
<line x1="554.62" y1="158.50" x2="554.62" y2="160.20" stroke="#222" stroke-width="0.7"/>
<text x="554.62" y="164.10" font-size="3.4" font-weight="bold" fill="#222" text-anchor="middle">4</text>
<line x1="560.67" y1="158.50" x2="560.67" y2="160.20" stroke="#222" stroke-width="0.7"/>
<text x="560.67" y="164.10" font-size="3.4" font-weight="bold" fill="#222" text-anchor="middle">5</text>
<line x1="566.73" y1="158.50" x2="566.73" y2="160.20" stroke="#222" stroke-width="0.7"/>
<text x="566.73" y="164.10" font-size="3.4" font-weight="bold" fill="#222" text-anchor="middle">6</text>
<line x1="572.78" y1="158.50" x2="572.78" y2="160.20" stroke="#222" stroke-width="0.7"/>
<text x="572.78" y="164.10" font-size="3.4" font-weight="bold" fill="#222" text-anchor="middle">7</text>
<line x1="578.84" y1="158.50" x2="578.84" y2="160.20" stroke="#222" stroke-width="0.7"/>
<text x="578.84" y="164.10" font-size="3.4" font-weight="bold" fill="#222" text-anchor="middle">8</text>
<line x1="584.89" y1="158.50" x2="584.89" y2="160.20" stroke="#222" stroke-width="0.7"/>
<text x="584.89" y="164.10" font-size="3.4" font-weight="bold" fill="#222" text-anchor="middle">9</text>
<line x1="590.95" y1="158.50" x2="590.95" y2="160.20" stroke="#222" stroke-width="0.7"/>
<text x="590.95" y="164.10" font-size="3.4" font-weight="bold" fill="#222" text-anchor="middle">10</text>
<line x1="597.00" y1="158.50" x2="597.00" y2="160.20" stroke="#222" stroke-width="0.7"/>
<text x="597.00" y="164.10" font-size="3.4" font-weight="bold" fill="#222" text-anchor="middle">11</text>
<line x1="605.90" y1="158.50" x2="605.90" y2="160.20" stroke="#222" stroke-width="0.7"/>
<text x="605.90" y="164.10" font-size="3.4" font-weight="bold" fill="#222" text-anchor="middle">12</text>
<line x1="611.98" y1="158.50" x2="611.98" y2="160.20" stroke="#222" stroke-width="0.7"/>
<text x="611.98" y="164.10" font-size="3.4" font-weight="bold" fill="#222" text-anchor="middle">13</text>
<line x1="618.06" y1="158.50" x2="618.06" y2="160.20" stroke="#222" stroke-width="0.7"/>
<text x="618.06" y="164.10" font-size="3.4" font-weight="bold" fill="#222" text-anchor="middle">14</text>
<line x1="624.15" y1="158.50" x2="624.15" y2="160.20" stroke="#222" stroke-width="0.7"/>
<text x="624.15" y="164.10" font-size="3.4" font-weight="bold" fill="#222" text-anchor="middle">15</text>
<line x1="630.23" y1="158.50" x2="630.23" y2="160.20" stroke="#222" stroke-width="0.7"/>
<text x="630.23" y="164.10" font-size="3.4" font-weight="bold" fill="#222" text-anchor="middle">16</text>
<line x1="636.31" y1="158.50" x2="636.31" y2="160.20" stroke="#222" stroke-width="0.7"/>
<text x="636.31" y="164.10" font-size="3.4" font-weight="bold" fill="#222" text-anchor="middle">17</text>
<line x1="642.39" y1="158.50" x2="642.39" y2="160.20" stroke="#222" stroke-width="0.7"/>
<text x="642.39" y="164.10" font-size="3.4" font-weight="bold" fill="#222" text-anchor="middle">18</text>
<line x1="648.47" y1="158.50" x2="648.47" y2="160.20" stroke="#222" stroke-width="0.7"/>
<text x="648.47" y="164.10" font-size="3.4" font-weight="bold" fill="#222" text-anchor="middle">19</text>
<line x1="654.55" y1="158.50" x2="654.55" y2="160.20" stroke="#222" stroke-width="0.7"/>
<text x="654.55" y="164.10" font-size="3.4" font-weight="bold" fill="#222" text-anchor="middle">20</text>
<line x1="660.64" y1="158.50" x2="660.64" y2="160.20" stroke="#222" stroke-width="0.7"/>
<text x="660.64" y="164.10" font-size="3.4" font-weight="bold" fill="#222" text-anchor="middle">21</text>
<line x1="666.72" y1="158.50" x2="666.72" y2="160.20" stroke="#222" stroke-width="0.7"/>
<text x="666.72" y="164.10" font-size="3.4" font-weight="bold" fill="#222" text-anchor="middle">22</text>
<line x1="672.80" y1="158.50" x2="672.80" y2="160.20" stroke="#222" stroke-width="0.7"/>
<text x="672.80" y="164.10" font-size="3.4" font-weight="bold" fill="#222" text-anchor="middle">23</text>
<text x="516.90" y="135.50" font-size="3.85" font-weight="normal" fill="#333" text-anchor="middle" transform="rotate(-90 516.90 135.50)">% Time Asleep</text>
<path d="M530.4 136.4V141.9M529.7 136.4h1.4M529.7 141.9h1.4M536.5 151.1V156.7M535.8 151.1h1.4M535.8 156.7h1.4M542.5 147.5V153.0M541.8 147.5h1.4M541.8 153.0h1.4M548.6 151.6V157.1M547.9 151.6h1.4M547.9 157.1h1.4M554.6 144.8V150.4M553.9 144.8h1.4M553.9 150.4h1.4M560.7 134.0V139.5M560.0 134.0h1.4M560.0 139.5h1.4M566.7 119.9V125.4M566.0 119.9h1.4M566.0 125.4h1.4M572.8 121.9V127.5M572.1 121.9h1.4M572.1 127.5h1.4M578.8 124.0V129.5M578.1 124.0h1.4M578.1 129.5h1.4M584.9 122.6V128.1M584.2 122.6h1.4M584.2 128.1h1.4M590.9 127.4V132.9M590.2 127.4h1.4M590.2 132.9h1.4M597.0 129.8V135.4M596.3 129.8h1.4M596.3 135.4h1.4M605.9 133.5V139.0M605.2 133.5h1.4M605.2 139.0h1.4M612.0 141.8V147.4M611.3 141.8h1.4M611.3 147.4h1.4M618.1 140.3V145.8M617.4 140.3h1.4M617.4 145.8h1.4M624.1 135.6V141.2M623.4 135.6h1.4M623.4 141.2h1.4M630.2 139.8V145.3M629.5 139.8h1.4M629.5 145.3h1.4M636.3 139.0V144.6M635.6 139.0h1.4M635.6 144.6h1.4M642.4 137.8V143.4M641.7 137.8h1.4M641.7 143.4h1.4M648.5 133.5V139.0M647.8 133.5h1.4M647.8 139.0h1.4M654.6 133.5V139.0M653.9 133.5h1.4M653.9 139.0h1.4M660.6 140.7V146.3M659.9 140.7h1.4M659.9 146.3h1.4M666.7 147.0V152.6M666.0 147.0h1.4M666.0 152.6h1.4M672.8 151.9V157.4M672.1 151.9h1.4M672.1 157.4h1.4" stroke="#f58a8a" stroke-width="0.5" fill="none" opacity="0.8"/>
<polyline points="530.40,139.18 536.45,153.90 542.51,150.22 548.56,154.36 554.62,147.60 560.67,136.79 566.73,122.62 572.78,124.69 578.84,126.76 584.89,125.38 590.95,130.12 597.00,132.60" fill="none" stroke="#333" stroke-width="0.75"/>
<polyline points="605.90,136.28 611.98,144.61 618.06,143.09 624.15,138.40 630.23,142.58 636.31,141.80 642.39,140.61 648.47,136.28 654.55,136.28 660.64,143.50 666.72,149.81 672.80,154.68" fill="none" stroke="#222" stroke-width="0.75"/>
<path d="M530.4 147.5V153.0M529.7 147.5h1.4M529.7 153.0h1.4M536.5 134.6V140.1M535.8 134.6h1.4M535.8 140.1h1.4M542.5 138.7V144.2M541.8 138.7h1.4M541.8 144.2h1.4M548.6 135.0V140.6M547.9 135.0h1.4M547.9 140.6h1.4M554.6 132.3V137.8M553.9 132.3h1.4M553.9 137.8h1.4M560.7 136.1V141.7M560.0 136.1h1.4M560.0 141.7h1.4M566.7 125.7V131.2M566.0 125.7h1.4M566.0 131.2h1.4M572.8 122.3V127.9M572.1 122.3h1.4M572.1 127.9h1.4M578.8 125.9V131.5M578.1 125.9h1.4M578.1 131.5h1.4M584.9 125.9V131.5M584.2 125.9h1.4M584.2 131.5h1.4M590.9 126.4V132.0M590.2 126.4h1.4M590.2 132.0h1.4M597.0 127.7V133.2M596.3 127.7h1.4M596.3 133.2h1.4M605.9 141.8V147.4M605.2 141.8h1.4M605.2 147.4h1.4M612.0 149.4V155.0M611.3 149.4h1.4M611.3 155.0h1.4M618.1 145.3V150.8M617.4 145.3h1.4M617.4 150.8h1.4M624.1 135.6V141.2M623.4 135.6h1.4M623.4 141.2h1.4M630.2 139.5V145.1M629.5 139.5h1.4M629.5 145.1h1.4M636.3 139.0V144.6M635.6 139.0h1.4M635.6 144.6h1.4M642.4 134.5V140.1M641.7 134.5h1.4M641.7 140.1h1.4M648.5 137.8V143.4M647.8 137.8h1.4M647.8 143.4h1.4M654.6 139.0V144.6M653.9 139.0h1.4M653.9 144.6h1.4M660.6 134.0V139.5M659.9 134.0h1.4M659.9 139.5h1.4M666.7 151.2V156.8M666.0 151.2h1.4M666.0 156.8h1.4M672.8 151.9V157.4M672.1 151.9h1.4M672.1 157.4h1.4" stroke="#eeee40" stroke-width="0.5" fill="none" opacity="0.8"/>
<polyline points="530.40,150.22 536.45,137.34 542.51,141.48 548.56,137.80 554.62,135.04 560.67,138.90 566.73,128.42 572.78,125.10 578.84,128.69 584.89,128.69 590.95,129.20 597.00,130.44" fill="none" stroke="#333" stroke-width="0.75"/>
<polyline points="605.90,144.61 611.98,152.20 618.06,148.01 624.15,138.40 630.23,142.31 636.31,141.80 642.39,137.29 648.47,140.61 654.55,141.80 660.64,136.79 666.72,153.99 672.80,154.68" fill="none" stroke="#222" stroke-width="0.75"/>
<rect x="529.25" y="149.07" width="2.30" height="2.30" fill="#ffff00"/>
<rect x="535.30" y="136.19" width="2.30" height="2.30" fill="#ffff00"/>
<rect x="541.36" y="140.33" width="2.30" height="2.30" fill="#ffff00"/>
<rect x="547.41" y="136.65" width="2.30" height="2.30" fill="#ffff00"/>
<rect x="553.47" y="133.89" width="2.30" height="2.30" fill="#ffff00"/>
<rect x="559.52" y="137.75" width="2.30" height="2.30" fill="#ffff00"/>
<rect x="565.58" y="127.27" width="2.30" height="2.30" fill="#ffff00"/>
<rect x="571.63" y="123.95" width="2.30" height="2.30" fill="#ffff00"/>
<rect x="577.69" y="127.54" width="2.30" height="2.30" fill="#ffff00"/>
<rect x="583.74" y="127.54" width="2.30" height="2.30" fill="#ffff00"/>
<rect x="589.80" y="128.05" width="2.30" height="2.30" fill="#ffff00"/>
<rect x="595.85" y="129.29" width="2.30" height="2.30" fill="#ffff00"/>
<rect x="604.75" y="143.46" width="2.30" height="2.30" fill="#ffff00"/>
<rect x="610.83" y="151.05" width="2.30" height="2.30" fill="#ffff00"/>
<rect x="616.91" y="146.86" width="2.30" height="2.30" fill="#ffff00"/>
<rect x="623.00" y="137.25" width="2.30" height="2.30" fill="#ffff00"/>
<rect x="629.08" y="141.16" width="2.30" height="2.30" fill="#ffff00"/>
<rect x="635.16" y="140.65" width="2.30" height="2.30" fill="#ffff00"/>
<rect x="641.24" y="136.14" width="2.30" height="2.30" fill="#ffff00"/>
<rect x="647.32" y="139.46" width="2.30" height="2.30" fill="#ffff00"/>
<rect x="653.40" y="140.65" width="2.30" height="2.30" fill="#ffff00"/>
<rect x="659.49" y="135.64" width="2.30" height="2.30" fill="#ffff00"/>
<rect x="665.57" y="152.84" width="2.30" height="2.30" fill="#ffff00"/>
<rect x="671.65" y="153.53" width="2.30" height="2.30" fill="#ffff00"/>
<circle cx="530.40" cy="139.18" r="1.15" fill="#f26b6b"/>
<circle cx="536.45" cy="153.90" r="1.15" fill="#f26b6b"/>
<circle cx="542.51" cy="150.22" r="1.15" fill="#f26b6b"/>
<circle cx="548.56" cy="154.36" r="1.15" fill="#f26b6b"/>
<circle cx="554.62" cy="147.60" r="1.15" fill="#f26b6b"/>
<circle cx="560.67" cy="136.79" r="1.15" fill="#f26b6b"/>
<circle cx="566.73" cy="122.62" r="1.15" fill="#f26b6b"/>
<circle cx="572.78" cy="124.69" r="1.15" fill="#f26b6b"/>
<circle cx="578.84" cy="126.76" r="1.15" fill="#f26b6b"/>
<circle cx="584.89" cy="125.38" r="1.15" fill="#f26b6b"/>
<circle cx="590.95" cy="130.12" r="1.15" fill="#f26b6b"/>
<circle cx="597.00" cy="132.60" r="1.15" fill="#f26b6b"/>
<circle cx="605.90" cy="136.28" r="1.15" fill="#f26b6b"/>
<circle cx="611.98" cy="144.61" r="1.15" fill="#f26b6b"/>
<circle cx="618.06" cy="143.09" r="1.15" fill="#f26b6b"/>
<circle cx="624.15" cy="138.40" r="1.15" fill="#f26b6b"/>
<circle cx="630.23" cy="142.58" r="1.15" fill="#f26b6b"/>
<circle cx="636.31" cy="141.80" r="1.15" fill="#f26b6b"/>
<circle cx="642.39" cy="140.61" r="1.15" fill="#f26b6b"/>
<circle cx="648.47" cy="136.28" r="1.15" fill="#f26b6b"/>
<circle cx="654.55" cy="136.28" r="1.15" fill="#f26b6b"/>
<circle cx="660.64" cy="143.50" r="1.15" fill="#f26b6b"/>
<circle cx="666.72" cy="149.81" r="1.15" fill="#f26b6b"/>
<circle cx="672.80" cy="154.68" r="1.15" fill="#f26b6b"/>
<line x1="530.40" y1="112.50" x2="534.80" y2="112.50" stroke="#333" stroke-width="0.6"/>
<circle cx="532.60" cy="112.50" r="1.10" fill="#f26b6b"/>
<text x="537.40" y="114.50" font-size="4.7" font-weight="normal" fill="#5a5a5a" text-anchor="start">FMS</text>
<line x1="530.40" y1="117.50" x2="534.80" y2="117.50" stroke="#333" stroke-width="0.6"/>
<rect x="531.50" y="116.40" width="2.20" height="2.20" fill="#ffff00"/>
<text x="537.40" y="119.50" font-size="4.7" font-weight="normal" fill="#5a5a5a" text-anchor="start">FSS</text>
<line x1="607.00" y1="115.00" x2="611.40" y2="115.00" stroke="#333" stroke-width="0.6"/>
<circle cx="609.20" cy="115.00" r="1.10" fill="#f26b6b"/>
<text x="614.00" y="117.00" font-size="4.7" font-weight="normal" fill="#5a5a5a" text-anchor="start">FMS</text>
<line x1="607.00" y1="120.00" x2="611.40" y2="120.00" stroke="#333" stroke-width="0.6"/>
<rect x="608.10" y="118.90" width="2.20" height="2.20" fill="#ffff00"/>
<text x="614.00" y="122.00" font-size="4.7" font-weight="normal" fill="#5a5a5a" text-anchor="start">FSS</text>
<line x1="549.60" y1="110.30" x2="549.60" y2="119.60" stroke="#555" stroke-width="1.2"/>
<text x="566.00" y="155.70" font-size="3.75" fill="#333" textLength="22.8" lengthAdjust="spacing">Hour X Group</text>
<text x="589.30" y="155.10" font-size="3.2" fill="#333">***</text>
<text x="551.00" y="116.50" font-size="3.9" font-weight="normal" fill="#444" text-anchor="start" textLength="21.8" lengthAdjust="spacing">ns, p=0.0909</text>
<line x1="532.60" y1="168.40" x2="532.60" y2="171.70" stroke="#111" stroke-width="0.9"/>
<path d="M531.25,169.10 L532.60,165.90 L533.95,169.10 Z" fill="#111"/>
<line x1="543.50" y1="168.40" x2="543.50" y2="171.70" stroke="#ff1a1a" stroke-width="0.9"/>
<path d="M542.15,169.10 L543.50,165.90 L544.85,169.10 Z" fill="#ff1a1a"/>
<text x="561.00" y="174.90" font-size="7.6" font-weight="bold" fill="#333" text-anchor="start" stroke="#333" stroke-width="0.25" textLength="72.4" lengthAdjust="spacing">Zeitgeber Time (hour)</text>
<rect x="113.60" y="191.70" width="74.50" height="45.60" fill="#b6b6b6"/>
<line x1="114.30" y1="192.10" x2="114.30" y2="237.30" stroke="#111" stroke-width="1.4" stroke-dasharray="2.7 2.1"/>
<line x1="40.40" y1="191.40" x2="40.40" y2="237.70" stroke="#222" stroke-width="0.8"/>
<line x1="39.20" y1="237.30" x2="188.10" y2="237.30" stroke="#222" stroke-width="0.8"/>
<line x1="38.90" y1="237.30" x2="40.40" y2="237.30" stroke="#222" stroke-width="0.7"/>
<text x="38.10" y="238.50" font-size="3.4" font-weight="normal" fill="#111" text-anchor="end">0</text>
<line x1="38.90" y1="228.18" x2="40.40" y2="228.18" stroke="#222" stroke-width="0.7"/>
<text x="38.10" y="229.38" font-size="3.4" font-weight="normal" fill="#111" text-anchor="end">20</text>
<line x1="38.90" y1="219.06" x2="40.40" y2="219.06" stroke="#222" stroke-width="0.7"/>
<text x="38.10" y="220.26" font-size="3.4" font-weight="normal" fill="#111" text-anchor="end">40</text>
<line x1="38.90" y1="209.94" x2="40.40" y2="209.94" stroke="#222" stroke-width="0.7"/>
<text x="38.10" y="211.14" font-size="3.4" font-weight="normal" fill="#111" text-anchor="end">60</text>
<line x1="38.90" y1="200.82" x2="40.40" y2="200.82" stroke="#222" stroke-width="0.7"/>
<text x="38.10" y="202.02" font-size="3.4" font-weight="normal" fill="#111" text-anchor="end">80</text>
<line x1="38.90" y1="191.70" x2="40.40" y2="191.70" stroke="#222" stroke-width="0.7"/>
<text x="38.10" y="192.90" font-size="3.4" font-weight="normal" fill="#111" text-anchor="end">100</text>
<line x1="44.20" y1="237.30" x2="44.20" y2="239.00" stroke="#222" stroke-width="0.7"/>
<text x="44.20" y="242.90" font-size="3.4" font-weight="bold" fill="#222" text-anchor="middle">0</text>
<line x1="50.25" y1="237.30" x2="50.25" y2="239.00" stroke="#222" stroke-width="0.7"/>
<text x="50.25" y="242.90" font-size="3.4" font-weight="bold" fill="#222" text-anchor="middle">1</text>
<line x1="56.29" y1="237.30" x2="56.29" y2="239.00" stroke="#222" stroke-width="0.7"/>
<text x="56.29" y="242.90" font-size="3.4" font-weight="bold" fill="#222" text-anchor="middle">2</text>
<line x1="62.34" y1="237.30" x2="62.34" y2="239.00" stroke="#222" stroke-width="0.7"/>
<text x="62.34" y="242.90" font-size="3.4" font-weight="bold" fill="#222" text-anchor="middle">3</text>
<line x1="68.38" y1="237.30" x2="68.38" y2="239.00" stroke="#222" stroke-width="0.7"/>
<text x="68.38" y="242.90" font-size="3.4" font-weight="bold" fill="#222" text-anchor="middle">4</text>
<line x1="74.43" y1="237.30" x2="74.43" y2="239.00" stroke="#222" stroke-width="0.7"/>
<text x="74.43" y="242.90" font-size="3.4" font-weight="bold" fill="#222" text-anchor="middle">5</text>
<line x1="80.47" y1="237.30" x2="80.47" y2="239.00" stroke="#222" stroke-width="0.7"/>
<text x="80.47" y="242.90" font-size="3.4" font-weight="bold" fill="#222" text-anchor="middle">6</text>
<line x1="86.52" y1="237.30" x2="86.52" y2="239.00" stroke="#222" stroke-width="0.7"/>
<text x="86.52" y="242.90" font-size="3.4" font-weight="bold" fill="#222" text-anchor="middle">7</text>
<line x1="92.56" y1="237.30" x2="92.56" y2="239.00" stroke="#222" stroke-width="0.7"/>
<text x="92.56" y="242.90" font-size="3.4" font-weight="bold" fill="#222" text-anchor="middle">8</text>
<line x1="98.61" y1="237.30" x2="98.61" y2="239.00" stroke="#222" stroke-width="0.7"/>
<text x="98.61" y="242.90" font-size="3.4" font-weight="bold" fill="#222" text-anchor="middle">9</text>
<line x1="104.65" y1="237.30" x2="104.65" y2="239.00" stroke="#222" stroke-width="0.7"/>
<text x="104.65" y="242.90" font-size="3.4" font-weight="bold" fill="#222" text-anchor="middle">10</text>
<line x1="110.70" y1="237.30" x2="110.70" y2="239.00" stroke="#222" stroke-width="0.7"/>
<text x="110.70" y="242.90" font-size="3.4" font-weight="bold" fill="#222" text-anchor="middle">11</text>
<line x1="117.50" y1="237.30" x2="117.50" y2="239.00" stroke="#222" stroke-width="0.7"/>
<text x="117.50" y="242.90" font-size="3.4" font-weight="bold" fill="#222" text-anchor="middle">12</text>
<line x1="123.62" y1="237.30" x2="123.62" y2="239.00" stroke="#222" stroke-width="0.7"/>
<text x="123.62" y="242.90" font-size="3.4" font-weight="bold" fill="#222" text-anchor="middle">13</text>
<line x1="129.74" y1="237.30" x2="129.74" y2="239.00" stroke="#222" stroke-width="0.7"/>
<text x="129.74" y="242.90" font-size="3.4" font-weight="bold" fill="#222" text-anchor="middle">14</text>
<line x1="135.85" y1="237.30" x2="135.85" y2="239.00" stroke="#222" stroke-width="0.7"/>
<text x="135.85" y="242.90" font-size="3.4" font-weight="bold" fill="#222" text-anchor="middle">15</text>
<line x1="141.97" y1="237.30" x2="141.97" y2="239.00" stroke="#222" stroke-width="0.7"/>
<text x="141.97" y="242.90" font-size="3.4" font-weight="bold" fill="#222" text-anchor="middle">16</text>
<line x1="148.09" y1="237.30" x2="148.09" y2="239.00" stroke="#222" stroke-width="0.7"/>
<text x="148.09" y="242.90" font-size="3.4" font-weight="bold" fill="#222" text-anchor="middle">17</text>
<line x1="154.21" y1="237.30" x2="154.21" y2="239.00" stroke="#222" stroke-width="0.7"/>
<text x="154.21" y="242.90" font-size="3.4" font-weight="bold" fill="#222" text-anchor="middle">18</text>
<line x1="160.33" y1="237.30" x2="160.33" y2="239.00" stroke="#222" stroke-width="0.7"/>
<text x="160.33" y="242.90" font-size="3.4" font-weight="bold" fill="#222" text-anchor="middle">19</text>
<line x1="166.45" y1="237.30" x2="166.45" y2="239.00" stroke="#222" stroke-width="0.7"/>
<text x="166.45" y="242.90" font-size="3.4" font-weight="bold" fill="#222" text-anchor="middle">20</text>
<line x1="172.56" y1="237.30" x2="172.56" y2="239.00" stroke="#222" stroke-width="0.7"/>
<text x="172.56" y="242.90" font-size="3.4" font-weight="bold" fill="#222" text-anchor="middle">21</text>
<line x1="178.68" y1="237.30" x2="178.68" y2="239.00" stroke="#222" stroke-width="0.7"/>
<text x="178.68" y="242.90" font-size="3.4" font-weight="bold" fill="#222" text-anchor="middle">22</text>
<line x1="184.80" y1="237.30" x2="184.80" y2="239.00" stroke="#222" stroke-width="0.7"/>
<text x="184.80" y="242.90" font-size="3.4" font-weight="bold" fill="#222" text-anchor="middle">23</text>
<text x="31.10" y="214.50" font-size="3.85" font-weight="normal" fill="#333" text-anchor="middle" transform="rotate(-90 31.10 214.50)">% Time Asleep</text>
<path d="M44.2 226.4V231.8M43.5 226.4h1.4M43.5 231.8h1.4M50.2 233.0V237.3M49.5 233.0h1.4M56.3 226.4V231.8M55.6 226.4h1.4M55.6 231.8h1.4M62.3 225.4V230.9M61.6 225.4h1.4M61.6 230.9h1.4M68.4 228.0V233.4M67.7 228.0h1.4M67.7 233.4h1.4M74.4 219.5V225.0M73.7 219.5h1.4M73.7 225.0h1.4M80.5 201.5V207.0M79.8 201.5h1.4M79.8 207.0h1.4M86.5 200.4V205.8M85.8 200.4h1.4M85.8 205.8h1.4M92.6 205.2V210.6M91.9 205.2h1.4M91.9 210.6h1.4M98.6 204.5V209.9M97.9 204.5h1.4M97.9 209.9h1.4M104.7 201.9V207.3M104.0 201.9h1.4M104.0 207.3h1.4M110.7 208.6V214.0M110.0 208.6h1.4M110.0 214.0h1.4M117.5 222.3V227.7M116.8 222.3h1.4M116.8 227.7h1.4M123.6 221.3V226.8M122.9 221.3h1.4M122.9 226.8h1.4M129.7 213.6V219.1M129.0 213.6h1.4M129.0 219.1h1.4M135.9 217.2V222.7M135.2 217.2h1.4M135.2 222.7h1.4M142.0 213.1V218.6M141.3 213.1h1.4M141.3 218.6h1.4M148.1 215.0V220.4M147.4 215.0h1.4M147.4 220.4h1.4M154.2 219.1V224.5M153.5 219.1h1.4M153.5 224.5h1.4M160.3 210.9V216.3M159.6 210.9h1.4M159.6 216.3h1.4M166.4 207.2V212.7M165.7 207.2h1.4M165.7 212.7h1.4M172.6 211.5V217.0M171.9 211.5h1.4M171.9 217.0h1.4M178.7 211.5V217.0M178.0 211.5h1.4M178.0 217.0h1.4M184.8 222.7V228.2M184.1 222.7h1.4M184.1 228.2h1.4" stroke="#b0606a" stroke-width="0.5" fill="none" opacity="0.8"/>
<polyline points="44.20,229.09 50.25,235.70 56.29,229.09 62.34,228.18 68.38,230.69 74.43,222.25 80.47,204.24 86.52,203.10 92.56,207.89 98.61,207.20 104.65,204.60 110.70,211.31" fill="none" stroke="#333" stroke-width="0.75"/>
<polyline points="117.50,224.99 123.62,224.08 129.74,216.32 135.85,219.97 141.97,215.87 148.09,217.69 154.21,221.80 160.33,213.59 166.45,209.94 172.56,214.27 178.68,214.27 184.80,225.44" fill="none" stroke="#222" stroke-width="0.75"/>
<path d="M44.2 222.0V227.5M43.5 222.0h1.4M43.5 227.5h1.4M50.2 207.7V213.1M49.5 207.7h1.4M49.5 213.1h1.4M56.3 222.0V227.5M55.6 222.0h1.4M55.6 227.5h1.4M62.3 213.6V219.1M61.6 213.6h1.4M61.6 219.1h1.4M68.4 212.9V218.4M67.7 212.9h1.4M67.7 218.4h1.4M74.4 212.9V218.4M73.7 212.9h1.4M73.7 218.4h1.4M80.5 206.3V211.8M79.8 206.3h1.4M79.8 211.8h1.4M86.5 200.8V206.3M85.8 200.8h1.4M85.8 206.3h1.4M92.6 207.0V212.4M91.9 207.0h1.4M91.9 212.4h1.4M98.6 200.4V205.8M97.9 200.4h1.4M97.9 205.8h1.4M104.7 212.2V217.7M104.0 212.2h1.4M104.0 217.7h1.4M110.7 209.0V214.5M110.0 209.0h1.4M110.0 214.5h1.4M117.5 225.2V230.7M116.8 225.2h1.4M116.8 230.7h1.4M123.6 227.5V233.0M122.9 227.5h1.4M122.9 233.0h1.4M129.7 228.2V233.7M129.0 228.2h1.4M129.0 233.7h1.4M135.9 217.2V222.7M135.2 217.2h1.4M135.2 222.7h1.4M142.0 217.2V222.7M141.3 217.2h1.4M141.3 222.7h1.4M148.1 226.1V231.6M147.4 226.1h1.4M147.4 231.6h1.4M154.2 225.2V230.7M153.5 225.2h1.4M153.5 230.7h1.4M160.3 216.1V221.6M159.6 216.1h1.4M159.6 221.6h1.4M166.4 214.0V219.5M165.7 214.0h1.4M165.7 219.5h1.4M172.6 215.2V220.7M171.9 215.2h1.4M171.9 220.7h1.4M178.7 220.0V225.4M178.0 220.0h1.4M178.0 225.4h1.4M184.8 226.1V231.6M184.1 226.1h1.4M184.1 231.6h1.4" stroke="#f7a24a" stroke-width="0.5" fill="none" opacity="0.8"/>
<polyline points="44.20,224.76 50.25,210.40 56.29,224.76 62.34,216.32 68.38,215.64 74.43,215.64 80.47,209.03 86.52,203.56 92.56,209.71 98.61,203.10 104.65,214.96 110.70,211.76" fill="none" stroke="#333" stroke-width="0.75"/>
<polyline points="117.50,227.95 123.62,230.23 129.74,230.92 135.85,219.97 141.97,219.97 148.09,228.86 154.21,227.95 160.33,218.83 166.45,216.78 172.56,217.92 178.68,222.71 184.80,228.86" fill="none" stroke="#222" stroke-width="0.75"/>
<rect x="43.05" y="223.61" width="2.30" height="2.30" fill="#f7931e"/>
<rect x="49.10" y="209.25" width="2.30" height="2.30" fill="#f7931e"/>
<rect x="55.14" y="223.61" width="2.30" height="2.30" fill="#f7931e"/>
<rect x="61.19" y="215.17" width="2.30" height="2.30" fill="#f7931e"/>
<rect x="67.23" y="214.49" width="2.30" height="2.30" fill="#f7931e"/>
<rect x="73.28" y="214.49" width="2.30" height="2.30" fill="#f7931e"/>
<rect x="79.32" y="207.88" width="2.30" height="2.30" fill="#f7931e"/>
<rect x="85.37" y="202.41" width="2.30" height="2.30" fill="#f7931e"/>
<rect x="91.41" y="208.56" width="2.30" height="2.30" fill="#f7931e"/>
<rect x="97.46" y="201.95" width="2.30" height="2.30" fill="#f7931e"/>
<rect x="103.50" y="213.81" width="2.30" height="2.30" fill="#f7931e"/>
<rect x="109.55" y="210.61" width="2.30" height="2.30" fill="#f7931e"/>
<rect x="116.35" y="226.80" width="2.30" height="2.30" fill="#f7931e"/>
<rect x="122.47" y="229.08" width="2.30" height="2.30" fill="#f7931e"/>
<rect x="128.59" y="229.77" width="2.30" height="2.30" fill="#f7931e"/>
<rect x="134.70" y="218.82" width="2.30" height="2.30" fill="#f7931e"/>
<rect x="140.82" y="218.82" width="2.30" height="2.30" fill="#f7931e"/>
<rect x="146.94" y="227.71" width="2.30" height="2.30" fill="#f7931e"/>
<rect x="153.06" y="226.80" width="2.30" height="2.30" fill="#f7931e"/>
<rect x="159.18" y="217.68" width="2.30" height="2.30" fill="#f7931e"/>
<rect x="165.30" y="215.63" width="2.30" height="2.30" fill="#f7931e"/>
<rect x="171.41" y="216.77" width="2.30" height="2.30" fill="#f7931e"/>
<rect x="177.53" y="221.56" width="2.30" height="2.30" fill="#f7931e"/>
<rect x="183.65" y="227.71" width="2.30" height="2.30" fill="#f7931e"/>
<circle cx="44.20" cy="229.09" r="1.15" fill="#3c0612"/>
<circle cx="50.25" cy="235.70" r="1.15" fill="#3c0612"/>
<circle cx="56.29" cy="229.09" r="1.15" fill="#3c0612"/>
<circle cx="62.34" cy="228.18" r="1.15" fill="#3c0612"/>
<circle cx="68.38" cy="230.69" r="1.15" fill="#3c0612"/>
<circle cx="74.43" cy="222.25" r="1.15" fill="#3c0612"/>
<circle cx="80.47" cy="204.24" r="1.15" fill="#3c0612"/>
<circle cx="86.52" cy="203.10" r="1.15" fill="#3c0612"/>
<circle cx="92.56" cy="207.89" r="1.15" fill="#3c0612"/>
<circle cx="98.61" cy="207.20" r="1.15" fill="#3c0612"/>
<circle cx="104.65" cy="204.60" r="1.15" fill="#3c0612"/>
<circle cx="110.70" cy="211.31" r="1.15" fill="#3c0612"/>
<circle cx="117.50" cy="224.99" r="1.15" fill="#3c0612"/>
<circle cx="123.62" cy="224.08" r="1.15" fill="#3c0612"/>
<circle cx="129.74" cy="216.32" r="1.15" fill="#3c0612"/>
<circle cx="135.85" cy="219.97" r="1.15" fill="#3c0612"/>
<circle cx="141.97" cy="215.87" r="1.15" fill="#3c0612"/>
<circle cx="148.09" cy="217.69" r="1.15" fill="#3c0612"/>
<circle cx="154.21" cy="221.80" r="1.15" fill="#3c0612"/>
<circle cx="160.33" cy="213.59" r="1.15" fill="#3c0612"/>
<circle cx="166.45" cy="209.94" r="1.15" fill="#3c0612"/>
<circle cx="172.56" cy="214.27" r="1.15" fill="#3c0612"/>
<circle cx="178.68" cy="214.27" r="1.15" fill="#3c0612"/>
<circle cx="184.80" cy="225.44" r="1.15" fill="#3c0612"/>
<line x1="43.70" y1="191.70" x2="48.10" y2="191.70" stroke="#333" stroke-width="0.6"/>
<circle cx="45.90" cy="191.70" r="1.10" fill="#3c0612"/>
<text x="50.70" y="193.70" font-size="4.7" font-weight="normal" fill="#5a5a5a" text-anchor="start">FMN</text>
<line x1="43.70" y1="196.70" x2="48.10" y2="196.70" stroke="#333" stroke-width="0.6"/>
<rect x="44.80" y="195.60" width="2.20" height="2.20" fill="#f7931e"/>
<text x="50.70" y="198.70" font-size="4.7" font-weight="normal" fill="#5a5a5a" text-anchor="start">FSN</text>
<line x1="118.70" y1="193.90" x2="123.10" y2="193.90" stroke="#333" stroke-width="0.6"/>
<circle cx="120.90" cy="193.90" r="1.10" fill="#3c0612"/>
<text x="125.70" y="195.90" font-size="4.7" font-weight="normal" fill="#5a5a5a" text-anchor="start">FMN</text>
<line x1="118.70" y1="199.20" x2="123.10" y2="199.20" stroke="#333" stroke-width="0.6"/>
<rect x="119.80" y="198.10" width="2.20" height="2.20" fill="#f7931e"/>
<text x="125.70" y="201.20" font-size="4.7" font-weight="normal" fill="#5a5a5a" text-anchor="start">FSN</text>
<line x1="64.00" y1="189.40" x2="64.00" y2="199.70" stroke="#555" stroke-width="1.2"/>
<circle cx="66.40" cy="194.55" r="0.9" fill="#111"/>
<circle cx="69.30" cy="194.55" r="0.9" fill="#111"/>
<circle cx="72.20" cy="194.55" r="0.9" fill="#111"/>
<line x1="137.80" y1="192.20" x2="137.80" y2="200.80" stroke="#555" stroke-width="1.2"/>
<circle cx="140.20" cy="196.50" r="0.9" fill="#111"/>
<text x="75.20" y="234.20" font-size="3.75" fill="#333" textLength="22.8" lengthAdjust="spacing">Hour X Group</text>
<text x="98.50" y="233.60" font-size="3.2" fill="#333">****</text>
<text x="47.50" y="206.90" font-size="4" font-weight="normal" fill="#444" text-anchor="start">****</text>
<line x1="46.40" y1="247.40" x2="46.40" y2="250.70" stroke="#111" stroke-width="0.9"/>
<path d="M45.05,248.10 L46.40,244.90 L47.75,248.10 Z" fill="#111"/>
<line x1="57.20" y1="247.40" x2="57.20" y2="250.70" stroke="#ff1a1a" stroke-width="0.9"/>
<path d="M55.85,248.10 L57.20,244.90 L58.55,248.10 Z" fill="#ff1a1a"/>
<text x="78.80" y="252.80" font-size="7.6" font-weight="bold" fill="#333" text-anchor="start" stroke="#333" stroke-width="0.25" textLength="72.6" lengthAdjust="spacing">Zeitgeber Time (hour)</text>
<rect x="359.80" y="191.70" width="73.30" height="45.60" fill="#b6b6b6"/>
<line x1="360.50" y1="192.10" x2="360.50" y2="237.30" stroke="#111" stroke-width="1.4" stroke-dasharray="2.7 2.1"/>
<line x1="284.70" y1="191.70" x2="284.70" y2="237.70" stroke="#222" stroke-width="0.8"/>
<line x1="283.50" y1="237.30" x2="433.10" y2="237.30" stroke="#222" stroke-width="0.8"/>
<line x1="283.20" y1="237.30" x2="284.70" y2="237.30" stroke="#222" stroke-width="0.7"/>
<text x="282.40" y="238.50" font-size="3.4" font-weight="normal" fill="#111" text-anchor="end">0</text>
<line x1="283.20" y1="228.24" x2="284.70" y2="228.24" stroke="#222" stroke-width="0.7"/>
<text x="282.40" y="229.44" font-size="3.4" font-weight="normal" fill="#111" text-anchor="end">20</text>
<line x1="283.20" y1="219.18" x2="284.70" y2="219.18" stroke="#222" stroke-width="0.7"/>
<text x="282.40" y="220.38" font-size="3.4" font-weight="normal" fill="#111" text-anchor="end">40</text>
<line x1="283.20" y1="210.12" x2="284.70" y2="210.12" stroke="#222" stroke-width="0.7"/>
<text x="282.40" y="211.32" font-size="3.4" font-weight="normal" fill="#111" text-anchor="end">60</text>
<line x1="283.20" y1="201.06" x2="284.70" y2="201.06" stroke="#222" stroke-width="0.7"/>
<text x="282.40" y="202.26" font-size="3.4" font-weight="normal" fill="#111" text-anchor="end">80</text>
<line x1="283.20" y1="192.00" x2="284.70" y2="192.00" stroke="#222" stroke-width="0.7"/>
<text x="282.40" y="193.20" font-size="3.4" font-weight="normal" fill="#111" text-anchor="end">100</text>
<line x1="289.20" y1="237.30" x2="289.20" y2="239.00" stroke="#222" stroke-width="0.7"/>
<text x="289.20" y="242.90" font-size="3.4" font-weight="bold" fill="#222" text-anchor="middle">0</text>
<line x1="295.25" y1="237.30" x2="295.25" y2="239.00" stroke="#222" stroke-width="0.7"/>
<text x="295.25" y="242.90" font-size="3.4" font-weight="bold" fill="#222" text-anchor="middle">1</text>
<line x1="301.31" y1="237.30" x2="301.31" y2="239.00" stroke="#222" stroke-width="0.7"/>
<text x="301.31" y="242.90" font-size="3.4" font-weight="bold" fill="#222" text-anchor="middle">2</text>
<line x1="307.36" y1="237.30" x2="307.36" y2="239.00" stroke="#222" stroke-width="0.7"/>
<text x="307.36" y="242.90" font-size="3.4" font-weight="bold" fill="#222" text-anchor="middle">3</text>
<line x1="313.42" y1="237.30" x2="313.42" y2="239.00" stroke="#222" stroke-width="0.7"/>
<text x="313.42" y="242.90" font-size="3.4" font-weight="bold" fill="#222" text-anchor="middle">4</text>
<line x1="319.47" y1="237.30" x2="319.47" y2="239.00" stroke="#222" stroke-width="0.7"/>
<text x="319.47" y="242.90" font-size="3.4" font-weight="bold" fill="#222" text-anchor="middle">5</text>
<line x1="325.53" y1="237.30" x2="325.53" y2="239.00" stroke="#222" stroke-width="0.7"/>
<text x="325.53" y="242.90" font-size="3.4" font-weight="bold" fill="#222" text-anchor="middle">6</text>
<line x1="331.58" y1="237.30" x2="331.58" y2="239.00" stroke="#222" stroke-width="0.7"/>
<text x="331.58" y="242.90" font-size="3.4" font-weight="bold" fill="#222" text-anchor="middle">7</text>
<line x1="337.64" y1="237.30" x2="337.64" y2="239.00" stroke="#222" stroke-width="0.7"/>
<text x="337.64" y="242.90" font-size="3.4" font-weight="bold" fill="#222" text-anchor="middle">8</text>
<line x1="343.69" y1="237.30" x2="343.69" y2="239.00" stroke="#222" stroke-width="0.7"/>
<text x="343.69" y="242.90" font-size="3.4" font-weight="bold" fill="#222" text-anchor="middle">9</text>
<line x1="349.75" y1="237.30" x2="349.75" y2="239.00" stroke="#222" stroke-width="0.7"/>
<text x="349.75" y="242.90" font-size="3.4" font-weight="bold" fill="#222" text-anchor="middle">10</text>
<line x1="355.80" y1="237.30" x2="355.80" y2="239.00" stroke="#222" stroke-width="0.7"/>
<text x="355.80" y="242.90" font-size="3.4" font-weight="bold" fill="#222" text-anchor="middle">11</text>
<line x1="362.90" y1="237.30" x2="362.90" y2="239.00" stroke="#222" stroke-width="0.7"/>
<text x="362.90" y="242.90" font-size="3.4" font-weight="bold" fill="#222" text-anchor="middle">12</text>
<line x1="368.99" y1="237.30" x2="368.99" y2="239.00" stroke="#222" stroke-width="0.7"/>
<text x="368.99" y="242.90" font-size="3.4" font-weight="bold" fill="#222" text-anchor="middle">13</text>
<line x1="375.08" y1="237.30" x2="375.08" y2="239.00" stroke="#222" stroke-width="0.7"/>
<text x="375.08" y="242.90" font-size="3.4" font-weight="bold" fill="#222" text-anchor="middle">14</text>
<line x1="381.17" y1="237.30" x2="381.17" y2="239.00" stroke="#222" stroke-width="0.7"/>
<text x="381.17" y="242.90" font-size="3.4" font-weight="bold" fill="#222" text-anchor="middle">15</text>
<line x1="387.26" y1="237.30" x2="387.26" y2="239.00" stroke="#222" stroke-width="0.7"/>
<text x="387.26" y="242.90" font-size="3.4" font-weight="bold" fill="#222" text-anchor="middle">16</text>
<line x1="393.35" y1="237.30" x2="393.35" y2="239.00" stroke="#222" stroke-width="0.7"/>
<text x="393.35" y="242.90" font-size="3.4" font-weight="bold" fill="#222" text-anchor="middle">17</text>
<line x1="399.45" y1="237.30" x2="399.45" y2="239.00" stroke="#222" stroke-width="0.7"/>
<text x="399.45" y="242.90" font-size="3.4" font-weight="bold" fill="#222" text-anchor="middle">18</text>
<line x1="405.54" y1="237.30" x2="405.54" y2="239.00" stroke="#222" stroke-width="0.7"/>
<text x="405.54" y="242.90" font-size="3.4" font-weight="bold" fill="#222" text-anchor="middle">19</text>
<line x1="411.63" y1="237.30" x2="411.63" y2="239.00" stroke="#222" stroke-width="0.7"/>
<text x="411.63" y="242.90" font-size="3.4" font-weight="bold" fill="#222" text-anchor="middle">20</text>
<line x1="417.72" y1="237.30" x2="417.72" y2="239.00" stroke="#222" stroke-width="0.7"/>
<text x="417.72" y="242.90" font-size="3.4" font-weight="bold" fill="#222" text-anchor="middle">21</text>
<line x1="423.81" y1="237.30" x2="423.81" y2="239.00" stroke="#222" stroke-width="0.7"/>
<text x="423.81" y="242.90" font-size="3.4" font-weight="bold" fill="#222" text-anchor="middle">22</text>
<line x1="429.90" y1="237.30" x2="429.90" y2="239.00" stroke="#222" stroke-width="0.7"/>
<text x="429.90" y="242.90" font-size="3.4" font-weight="bold" fill="#222" text-anchor="middle">23</text>
<text x="275.40" y="214.65" font-size="3.85" font-weight="normal" fill="#333" text-anchor="middle" transform="rotate(-90 275.40 214.65)">% Time Asleep</text>
<path d="M289.2 227.1V232.5M288.5 227.1h1.4M288.5 232.5h1.4M295.3 231.6V237.1M294.6 231.6h1.4M294.6 237.1h1.4M301.3 231.2V236.6M300.6 231.2h1.4M300.6 236.6h1.4M307.4 220.1V225.5M306.7 220.1h1.4M306.7 225.5h1.4M313.4 231.3V236.7M312.7 231.3h1.4M312.7 236.7h1.4M319.5 222.5V227.9M318.8 222.5h1.4M318.8 227.9h1.4M325.5 207.6V213.0M324.8 207.6h1.4M324.8 213.0h1.4M331.6 201.4V206.8M330.9 201.4h1.4M330.9 206.8h1.4M337.6 202.6V208.0M336.9 202.6h1.4M336.9 208.0h1.4M343.7 203.3V208.8M343.0 203.3h1.4M343.0 208.8h1.4M349.7 202.9V208.3M349.0 202.9h1.4M349.0 208.3h1.4M355.8 203.3V208.8M355.1 203.3h1.4M355.1 208.8h1.4M362.9 218.0V223.4M362.2 218.0h1.4M362.2 223.4h1.4M369.0 219.2V224.6M368.3 219.2h1.4M368.3 224.6h1.4M375.1 220.1V225.5M374.4 220.1h1.4M374.4 225.5h1.4M381.2 209.8V215.2M380.5 209.8h1.4M380.5 215.2h1.4M387.3 219.2V224.6M386.6 219.2h1.4M386.6 224.6h1.4M393.4 220.1V225.5M392.7 220.1h1.4M392.7 225.5h1.4M399.4 210.6V216.0M398.7 210.6h1.4M398.7 216.0h1.4M405.5 207.6V213.0M404.8 207.6h1.4M404.8 213.0h1.4M411.6 215.8V221.3M410.9 215.8h1.4M410.9 221.3h1.4M417.7 214.2V219.6M417.0 214.2h1.4M417.0 219.6h1.4M423.8 222.5V227.9M423.1 222.5h1.4M423.1 227.9h1.4M429.9 213.3V218.7M429.2 213.3h1.4M429.2 218.7h1.4" stroke="#b0606a" stroke-width="0.5" fill="none" opacity="0.8"/>
<polyline points="289.20,229.83 295.25,234.36 301.31,233.90 307.36,222.80 313.42,233.99 319.47,225.20 325.53,210.30 331.58,204.10 337.64,205.27 343.69,206.04 349.75,205.59 355.80,206.04" fill="none" stroke="#333" stroke-width="0.75"/>
<polyline points="362.90,220.72 368.99,221.90 375.08,222.80 381.17,212.48 387.26,221.90 393.35,222.80 399.45,213.29 405.54,210.30 411.63,218.55 417.72,216.92 423.81,225.20 429.90,216.01" fill="none" stroke="#222" stroke-width="0.75"/>
<path d="M289.2 226.1V231.5M288.5 226.1h1.4M288.5 231.5h1.4M295.3 230.8V236.2M294.6 230.8h1.4M294.6 236.2h1.4M301.3 231.2V236.6M300.6 231.2h1.4M300.6 236.6h1.4M307.4 231.6V237.1M306.7 231.6h1.4M306.7 237.1h1.4M313.4 227.5V233.0M312.7 227.5h1.4M312.7 233.0h1.4M319.5 203.3V208.8M318.8 203.3h1.4M318.8 208.8h1.4M325.5 198.7V204.1M324.8 198.7h1.4M324.8 204.1h1.4M331.6 199.2V204.7M330.9 199.2h1.4M330.9 204.7h1.4M337.6 208.3V213.7M336.9 208.3h1.4M336.9 213.7h1.4M343.7 203.3V208.8M343.0 203.3h1.4M343.0 208.8h1.4M349.7 202.2V207.6M349.0 202.2h1.4M349.0 207.6h1.4M355.8 208.3V213.7M355.1 208.3h1.4M355.1 213.7h1.4M362.9 216.7V222.2M362.2 216.7h1.4M362.2 222.2h1.4M369.0 221.7V227.1M368.3 221.7h1.4M368.3 227.1h1.4M375.1 217.2V222.6M374.4 217.2h1.4M374.4 222.6h1.4M381.2 210.3V215.8M380.5 210.3h1.4M380.5 215.8h1.4M387.3 209.5V215.0M386.6 209.5h1.4M386.6 215.0h1.4M393.4 215.0V220.4M392.7 215.0h1.4M392.7 220.4h1.4M399.4 205.9V211.3M398.7 205.9h1.4M398.7 211.3h1.4M405.5 205.9V211.3M404.8 205.9h1.4M404.8 211.3h1.4M411.6 207.2V212.6M410.9 207.2h1.4M410.9 212.6h1.4M417.7 224.9V230.4M417.0 224.9h1.4M417.0 230.4h1.4M423.8 231.6V237.0M423.1 231.6h1.4M423.1 237.0h1.4M429.9 221.7V227.1M429.2 221.7h1.4M429.2 227.1h1.4" stroke="#f58a8a" stroke-width="0.5" fill="none" opacity="0.8"/>
<polyline points="289.20,228.83 295.25,233.49 301.31,233.90 307.36,234.36 313.42,230.23 319.47,206.04 325.53,201.42 331.58,201.97 337.64,211.03 343.69,206.04 349.75,204.91 355.80,211.03" fill="none" stroke="#333" stroke-width="0.75"/>
<polyline points="362.90,219.45 368.99,224.39 375.08,219.90 381.17,213.06 387.26,212.25 393.35,217.73 399.45,208.58 405.54,208.58 411.63,209.89 417.72,227.65 423.81,234.31 429.90,224.39" fill="none" stroke="#222" stroke-width="0.75"/>
<circle cx="289.20" cy="228.83" r="1.15" fill="#f26b6b"/>
<circle cx="295.25" cy="233.49" r="1.15" fill="#f26b6b"/>
<circle cx="301.31" cy="233.90" r="1.15" fill="#f26b6b"/>
<circle cx="307.36" cy="234.36" r="1.15" fill="#f26b6b"/>
<circle cx="313.42" cy="230.23" r="1.15" fill="#f26b6b"/>
<circle cx="319.47" cy="206.04" r="1.15" fill="#f26b6b"/>
<circle cx="325.53" cy="201.42" r="1.15" fill="#f26b6b"/>
<circle cx="331.58" cy="201.97" r="1.15" fill="#f26b6b"/>
<circle cx="337.64" cy="211.03" r="1.15" fill="#f26b6b"/>
<circle cx="343.69" cy="206.04" r="1.15" fill="#f26b6b"/>
<circle cx="349.75" cy="204.91" r="1.15" fill="#f26b6b"/>
<circle cx="355.80" cy="211.03" r="1.15" fill="#f26b6b"/>
<circle cx="362.90" cy="219.45" r="1.15" fill="#f26b6b"/>
<circle cx="368.99" cy="224.39" r="1.15" fill="#f26b6b"/>
<circle cx="375.08" cy="219.90" r="1.15" fill="#f26b6b"/>
<circle cx="381.17" cy="213.06" r="1.15" fill="#f26b6b"/>
<circle cx="387.26" cy="212.25" r="1.15" fill="#f26b6b"/>
<circle cx="393.35" cy="217.73" r="1.15" fill="#f26b6b"/>
<circle cx="399.45" cy="208.58" r="1.15" fill="#f26b6b"/>
<circle cx="405.54" cy="208.58" r="1.15" fill="#f26b6b"/>
<circle cx="411.63" cy="209.89" r="1.15" fill="#f26b6b"/>
<circle cx="417.72" cy="227.65" r="1.15" fill="#f26b6b"/>
<circle cx="423.81" cy="234.31" r="1.15" fill="#f26b6b"/>
<circle cx="429.90" cy="224.39" r="1.15" fill="#f26b6b"/>
<circle cx="289.20" cy="229.83" r="1.15" fill="#3c0612"/>
<circle cx="295.25" cy="234.36" r="1.15" fill="#3c0612"/>
<circle cx="301.31" cy="233.90" r="1.15" fill="#3c0612"/>
<circle cx="307.36" cy="222.80" r="1.15" fill="#3c0612"/>
<circle cx="313.42" cy="233.99" r="1.15" fill="#3c0612"/>
<circle cx="319.47" cy="225.20" r="1.15" fill="#3c0612"/>
<circle cx="325.53" cy="210.30" r="1.15" fill="#3c0612"/>
<circle cx="331.58" cy="204.10" r="1.15" fill="#3c0612"/>
<circle cx="337.64" cy="205.27" r="1.15" fill="#3c0612"/>
<circle cx="343.69" cy="206.04" r="1.15" fill="#3c0612"/>
<circle cx="349.75" cy="205.59" r="1.15" fill="#3c0612"/>
<circle cx="355.80" cy="206.04" r="1.15" fill="#3c0612"/>
<circle cx="362.90" cy="220.72" r="1.15" fill="#3c0612"/>
<circle cx="368.99" cy="221.90" r="1.15" fill="#3c0612"/>
<circle cx="375.08" cy="222.80" r="1.15" fill="#3c0612"/>
<circle cx="381.17" cy="212.48" r="1.15" fill="#3c0612"/>
<circle cx="387.26" cy="221.90" r="1.15" fill="#3c0612"/>
<circle cx="393.35" cy="222.80" r="1.15" fill="#3c0612"/>
<circle cx="399.45" cy="213.29" r="1.15" fill="#3c0612"/>
<circle cx="405.54" cy="210.30" r="1.15" fill="#3c0612"/>
<circle cx="411.63" cy="218.55" r="1.15" fill="#3c0612"/>
<circle cx="417.72" cy="216.92" r="1.15" fill="#3c0612"/>
<circle cx="423.81" cy="225.20" r="1.15" fill="#3c0612"/>
<circle cx="429.90" cy="216.01" r="1.15" fill="#3c0612"/>
<line x1="288.80" y1="191.70" x2="293.20" y2="191.70" stroke="#333" stroke-width="0.6"/>
<circle cx="291.00" cy="191.70" r="1.10" fill="#3c0612"/>
<text x="295.80" y="193.70" font-size="4.7" font-weight="normal" fill="#5a5a5a" text-anchor="start">FMN</text>
<line x1="288.80" y1="196.70" x2="293.20" y2="196.70" stroke="#333" stroke-width="0.6"/>
<circle cx="291.00" cy="196.70" r="1.10" fill="#f26b6b"/>
<text x="295.80" y="198.70" font-size="4.7" font-weight="normal" fill="#5a5a5a" text-anchor="start">FMS</text>
<line x1="363.70" y1="193.40" x2="368.10" y2="193.40" stroke="#333" stroke-width="0.6"/>
<circle cx="365.90" cy="193.40" r="1.10" fill="#3c0612"/>
<text x="370.70" y="195.40" font-size="4.7" font-weight="normal" fill="#5a5a5a" text-anchor="start">FMN</text>
<line x1="363.70" y1="198.00" x2="368.10" y2="198.00" stroke="#333" stroke-width="0.6"/>
<circle cx="365.90" cy="198.00" r="1.10" fill="#f26b6b"/>
<text x="370.70" y="200.00" font-size="4.7" font-weight="normal" fill="#5a5a5a" text-anchor="start">FMS</text>
<line x1="307.90" y1="190.50" x2="307.90" y2="199.70" stroke="#555" stroke-width="1.2"/>
<text x="321.90" y="234.50" font-size="3.75" fill="#333" textLength="22.8" lengthAdjust="spacing">Hour X Group</text>
<text x="345.20" y="233.90" font-size="3.2" fill="#333">****</text>
<text x="310.00" y="196.80" font-size="3.9" font-weight="normal" fill="#444" text-anchor="start" textLength="18.5" lengthAdjust="spacing">ns, p=0.388</text>
<line x1="291.10" y1="247.40" x2="291.10" y2="250.70" stroke="#111" stroke-width="0.9"/>
<path d="M289.75,248.10 L291.10,244.90 L292.45,248.10 Z" fill="#111"/>
<line x1="301.90" y1="247.40" x2="301.90" y2="250.70" stroke="#ff1a1a" stroke-width="0.9"/>
<path d="M300.55,248.10 L301.90,244.90 L303.25,248.10 Z" fill="#ff1a1a"/>
<text x="323.30" y="252.80" font-size="7.6" font-weight="bold" fill="#333" text-anchor="start" stroke="#333" stroke-width="0.25" textLength="72.6" lengthAdjust="spacing">Zeitgeber Time (hour)</text>
<rect x="602.30" y="192.00" width="74.10" height="45.30" fill="#b6b6b6"/>
<line x1="603.00" y1="192.40" x2="603.00" y2="237.30" stroke="#111" stroke-width="1.4" stroke-dasharray="2.7 2.1"/>
<line x1="526.40" y1="191.40" x2="526.40" y2="237.70" stroke="#222" stroke-width="0.8"/>
<line x1="525.20" y1="237.30" x2="676.40" y2="237.30" stroke="#222" stroke-width="0.8"/>
<line x1="524.90" y1="237.30" x2="526.40" y2="237.30" stroke="#222" stroke-width="0.7"/>
<text x="524.10" y="238.50" font-size="3.4" font-weight="normal" fill="#111" text-anchor="end">0</text>
<line x1="524.90" y1="228.18" x2="526.40" y2="228.18" stroke="#222" stroke-width="0.7"/>
<text x="524.10" y="229.38" font-size="3.4" font-weight="normal" fill="#111" text-anchor="end">20</text>
<line x1="524.90" y1="219.06" x2="526.40" y2="219.06" stroke="#222" stroke-width="0.7"/>
<text x="524.10" y="220.26" font-size="3.4" font-weight="normal" fill="#111" text-anchor="end">40</text>
<line x1="524.90" y1="209.94" x2="526.40" y2="209.94" stroke="#222" stroke-width="0.7"/>
<text x="524.10" y="211.14" font-size="3.4" font-weight="normal" fill="#111" text-anchor="end">60</text>
<line x1="524.90" y1="200.82" x2="526.40" y2="200.82" stroke="#222" stroke-width="0.7"/>
<text x="524.10" y="202.02" font-size="3.4" font-weight="normal" fill="#111" text-anchor="end">80</text>
<line x1="524.90" y1="191.70" x2="526.40" y2="191.70" stroke="#222" stroke-width="0.7"/>
<text x="524.10" y="192.90" font-size="3.4" font-weight="normal" fill="#111" text-anchor="end">100</text>
<line x1="530.40" y1="237.30" x2="530.40" y2="239.00" stroke="#222" stroke-width="0.7"/>
<text x="530.40" y="242.90" font-size="3.4" font-weight="bold" fill="#222" text-anchor="middle">0</text>
<line x1="536.45" y1="237.30" x2="536.45" y2="239.00" stroke="#222" stroke-width="0.7"/>
<text x="536.45" y="242.90" font-size="3.4" font-weight="bold" fill="#222" text-anchor="middle">1</text>
<line x1="542.51" y1="237.30" x2="542.51" y2="239.00" stroke="#222" stroke-width="0.7"/>
<text x="542.51" y="242.90" font-size="3.4" font-weight="bold" fill="#222" text-anchor="middle">2</text>
<line x1="548.56" y1="237.30" x2="548.56" y2="239.00" stroke="#222" stroke-width="0.7"/>
<text x="548.56" y="242.90" font-size="3.4" font-weight="bold" fill="#222" text-anchor="middle">3</text>
<line x1="554.62" y1="237.30" x2="554.62" y2="239.00" stroke="#222" stroke-width="0.7"/>
<text x="554.62" y="242.90" font-size="3.4" font-weight="bold" fill="#222" text-anchor="middle">4</text>
<line x1="560.67" y1="237.30" x2="560.67" y2="239.00" stroke="#222" stroke-width="0.7"/>
<text x="560.67" y="242.90" font-size="3.4" font-weight="bold" fill="#222" text-anchor="middle">5</text>
<line x1="566.73" y1="237.30" x2="566.73" y2="239.00" stroke="#222" stroke-width="0.7"/>
<text x="566.73" y="242.90" font-size="3.4" font-weight="bold" fill="#222" text-anchor="middle">6</text>
<line x1="572.78" y1="237.30" x2="572.78" y2="239.00" stroke="#222" stroke-width="0.7"/>
<text x="572.78" y="242.90" font-size="3.4" font-weight="bold" fill="#222" text-anchor="middle">7</text>
<line x1="578.84" y1="237.30" x2="578.84" y2="239.00" stroke="#222" stroke-width="0.7"/>
<text x="578.84" y="242.90" font-size="3.4" font-weight="bold" fill="#222" text-anchor="middle">8</text>
<line x1="584.89" y1="237.30" x2="584.89" y2="239.00" stroke="#222" stroke-width="0.7"/>
<text x="584.89" y="242.90" font-size="3.4" font-weight="bold" fill="#222" text-anchor="middle">9</text>
<line x1="590.95" y1="237.30" x2="590.95" y2="239.00" stroke="#222" stroke-width="0.7"/>
<text x="590.95" y="242.90" font-size="3.4" font-weight="bold" fill="#222" text-anchor="middle">10</text>
<line x1="597.00" y1="237.30" x2="597.00" y2="239.00" stroke="#222" stroke-width="0.7"/>
<text x="597.00" y="242.90" font-size="3.4" font-weight="bold" fill="#222" text-anchor="middle">11</text>
<line x1="605.90" y1="237.30" x2="605.90" y2="239.00" stroke="#222" stroke-width="0.7"/>
<text x="605.90" y="242.90" font-size="3.4" font-weight="bold" fill="#222" text-anchor="middle">12</text>
<line x1="611.98" y1="237.30" x2="611.98" y2="239.00" stroke="#222" stroke-width="0.7"/>
<text x="611.98" y="242.90" font-size="3.4" font-weight="bold" fill="#222" text-anchor="middle">13</text>
<line x1="618.06" y1="237.30" x2="618.06" y2="239.00" stroke="#222" stroke-width="0.7"/>
<text x="618.06" y="242.90" font-size="3.4" font-weight="bold" fill="#222" text-anchor="middle">14</text>
<line x1="624.15" y1="237.30" x2="624.15" y2="239.00" stroke="#222" stroke-width="0.7"/>
<text x="624.15" y="242.90" font-size="3.4" font-weight="bold" fill="#222" text-anchor="middle">15</text>
<line x1="630.23" y1="237.30" x2="630.23" y2="239.00" stroke="#222" stroke-width="0.7"/>
<text x="630.23" y="242.90" font-size="3.4" font-weight="bold" fill="#222" text-anchor="middle">16</text>
<line x1="636.31" y1="237.30" x2="636.31" y2="239.00" stroke="#222" stroke-width="0.7"/>
<text x="636.31" y="242.90" font-size="3.4" font-weight="bold" fill="#222" text-anchor="middle">17</text>
<line x1="642.39" y1="237.30" x2="642.39" y2="239.00" stroke="#222" stroke-width="0.7"/>
<text x="642.39" y="242.90" font-size="3.4" font-weight="bold" fill="#222" text-anchor="middle">18</text>
<line x1="648.47" y1="237.30" x2="648.47" y2="239.00" stroke="#222" stroke-width="0.7"/>
<text x="648.47" y="242.90" font-size="3.4" font-weight="bold" fill="#222" text-anchor="middle">19</text>
<line x1="654.55" y1="237.30" x2="654.55" y2="239.00" stroke="#222" stroke-width="0.7"/>
<text x="654.55" y="242.90" font-size="3.4" font-weight="bold" fill="#222" text-anchor="middle">20</text>
<line x1="660.64" y1="237.30" x2="660.64" y2="239.00" stroke="#222" stroke-width="0.7"/>
<text x="660.64" y="242.90" font-size="3.4" font-weight="bold" fill="#222" text-anchor="middle">21</text>
<line x1="666.72" y1="237.30" x2="666.72" y2="239.00" stroke="#222" stroke-width="0.7"/>
<text x="666.72" y="242.90" font-size="3.4" font-weight="bold" fill="#222" text-anchor="middle">22</text>
<line x1="672.80" y1="237.30" x2="672.80" y2="239.00" stroke="#222" stroke-width="0.7"/>
<text x="672.80" y="242.90" font-size="3.4" font-weight="bold" fill="#222" text-anchor="middle">23</text>
<text x="517.10" y="214.50" font-size="3.85" font-weight="normal" fill="#333" text-anchor="middle" transform="rotate(-90 517.10 214.50)">% Time Asleep</text>
<path d="M530.4 225.4V230.9M529.7 225.4h1.4M529.7 230.9h1.4M536.5 225.4V230.9M535.8 225.4h1.4M535.8 230.9h1.4M542.5 226.0V231.5M541.8 226.0h1.4M541.8 231.5h1.4M548.6 224.3V229.8M547.9 224.3h1.4M547.9 229.8h1.4M554.6 221.8V227.3M553.9 221.8h1.4M553.9 227.3h1.4M560.7 206.5V211.9M560.0 206.5h1.4M560.0 211.9h1.4M566.7 206.5V211.9M566.0 206.5h1.4M566.0 211.9h1.4M572.8 201.9V207.3M572.1 201.9h1.4M572.1 207.3h1.4M578.8 201.2V206.7M578.1 201.2h1.4M578.1 206.7h1.4M584.9 204.4V209.8M584.2 204.4h1.4M584.2 209.8h1.4M590.9 208.2V213.7M590.2 208.2h1.4M590.2 213.7h1.4M597.0 207.4V212.9M596.3 207.4h1.4M596.3 212.9h1.4M605.9 213.6V219.1M605.2 213.6h1.4M605.2 219.1h1.4M612.0 224.9V230.3M611.3 224.9h1.4M611.3 230.3h1.4M618.1 216.6V222.0M617.4 216.6h1.4M617.4 222.0h1.4M624.1 210.4V215.9M623.4 210.4h1.4M623.4 215.9h1.4M630.2 219.9V225.4M629.5 219.9h1.4M629.5 225.4h1.4M636.3 217.4V222.8M635.6 217.4h1.4M635.6 222.8h1.4M642.4 213.2V218.6M641.7 213.2h1.4M641.7 218.6h1.4M648.5 214.9V220.3M647.8 214.9h1.4M647.8 220.3h1.4M654.6 208.2V213.6M653.9 208.2h1.4M653.9 213.6h1.4M660.6 222.3V227.8M659.9 222.3h1.4M659.9 227.8h1.4M666.7 228.8V234.2M666.0 228.8h1.4M666.0 234.2h1.4M672.8 229.5V235.0M672.1 229.5h1.4M672.1 235.0h1.4" stroke="#f58a8a" stroke-width="0.5" fill="none" opacity="0.8"/>
<polyline points="530.40,228.18 536.45,228.18 542.51,228.77 548.56,227.09 554.62,224.58 560.67,209.21 566.73,209.21 572.78,204.60 578.84,203.92 584.89,207.11 590.95,210.94 597.00,210.12" fill="none" stroke="#333" stroke-width="0.75"/>
<polyline points="605.90,216.32 611.98,227.59 618.06,219.29 624.15,213.13 630.23,222.62 636.31,220.11 642.39,215.91 648.47,217.60 654.55,210.90 660.64,225.08 666.72,231.51 672.80,232.28" fill="none" stroke="#222" stroke-width="0.75"/>
<path d="M530.4 226.0V231.5M529.7 226.0h1.4M529.7 231.5h1.4M536.5 210.4V215.9M535.8 210.4h1.4M535.8 215.9h1.4M542.5 218.8V224.3M541.8 218.8h1.4M541.8 224.3h1.4M548.6 214.0V219.5M547.9 214.0h1.4M547.9 219.5h1.4M554.6 207.8V213.3M553.9 207.8h1.4M553.9 213.3h1.4M560.7 209.8V215.3M560.0 209.8h1.4M560.0 215.3h1.4M566.7 207.0V212.4M566.0 207.0h1.4M566.0 212.4h1.4M572.8 201.9V207.3M572.1 201.9h1.4M572.1 207.3h1.4M578.8 201.9V207.3M578.1 201.9h1.4M578.1 207.3h1.4M584.9 206.2V211.7M584.2 206.2h1.4M584.2 211.7h1.4M590.9 203.1V208.6M590.2 203.1h1.4M590.2 208.6h1.4M597.0 208.2V213.7M596.3 208.2h1.4M596.3 213.7h1.4M605.9 220.4V225.9M605.2 220.4h1.4M605.2 225.9h1.4M612.0 227.1V232.6M611.3 227.1h1.4M611.3 232.6h1.4M618.1 230.8V236.3M617.4 230.8h1.4M617.4 236.3h1.4M624.1 207.4V212.9M623.4 207.4h1.4M623.4 212.9h1.4M630.2 221.6V227.0M629.5 221.6h1.4M629.5 227.0h1.4M636.3 227.1V232.6M635.6 227.1h1.4M635.6 232.6h1.4M642.4 217.9V223.3M641.7 217.9h1.4M641.7 223.3h1.4M648.5 212.9V218.3M647.8 212.9h1.4M647.8 218.3h1.4M654.6 221.2V226.7M653.9 221.2h1.4M653.9 226.7h1.4M660.6 231.3V236.8M659.9 231.3h1.4M659.9 236.8h1.4M666.7 229.5V234.9M666.0 229.5h1.4M666.0 234.9h1.4M672.8 229.5V235.0M672.1 229.5h1.4M672.1 235.0h1.4" stroke="#eeee40" stroke-width="0.5" fill="none" opacity="0.8"/>
<polyline points="530.40,228.77 536.45,213.13 542.51,221.52 548.56,216.78 554.62,210.58 560.67,212.58 566.73,209.71 572.78,204.60 578.84,204.60 584.89,208.94 590.95,205.88 597.00,210.94" fill="none" stroke="#333" stroke-width="0.75"/>
<polyline points="605.90,223.12 611.98,229.82 618.06,233.52 624.15,210.12 630.23,224.30 636.31,229.82 642.39,220.61 648.47,215.59 654.55,223.98 660.64,234.02 666.72,232.19 672.80,232.28" fill="none" stroke="#222" stroke-width="0.75"/>
<rect x="529.25" y="227.62" width="2.30" height="2.30" fill="#ffff00"/>
<rect x="535.30" y="211.98" width="2.30" height="2.30" fill="#ffff00"/>
<rect x="541.36" y="220.37" width="2.30" height="2.30" fill="#ffff00"/>
<rect x="547.41" y="215.63" width="2.30" height="2.30" fill="#ffff00"/>
<rect x="553.47" y="209.43" width="2.30" height="2.30" fill="#ffff00"/>
<rect x="559.52" y="211.43" width="2.30" height="2.30" fill="#ffff00"/>
<rect x="565.58" y="208.56" width="2.30" height="2.30" fill="#ffff00"/>
<rect x="571.63" y="203.45" width="2.30" height="2.30" fill="#ffff00"/>
<rect x="577.69" y="203.45" width="2.30" height="2.30" fill="#ffff00"/>
<rect x="583.74" y="207.79" width="2.30" height="2.30" fill="#ffff00"/>
<rect x="589.80" y="204.73" width="2.30" height="2.30" fill="#ffff00"/>
<rect x="595.85" y="209.79" width="2.30" height="2.30" fill="#ffff00"/>
<rect x="604.75" y="221.97" width="2.30" height="2.30" fill="#ffff00"/>
<rect x="610.83" y="228.67" width="2.30" height="2.30" fill="#ffff00"/>
<rect x="616.91" y="232.37" width="2.30" height="2.30" fill="#ffff00"/>
<rect x="623.00" y="208.97" width="2.30" height="2.30" fill="#ffff00"/>
<rect x="629.08" y="223.15" width="2.30" height="2.30" fill="#ffff00"/>
<rect x="635.16" y="228.67" width="2.30" height="2.30" fill="#ffff00"/>
<rect x="641.24" y="219.46" width="2.30" height="2.30" fill="#ffff00"/>
<rect x="647.32" y="214.44" width="2.30" height="2.30" fill="#ffff00"/>
<rect x="653.40" y="222.83" width="2.30" height="2.30" fill="#ffff00"/>
<rect x="659.49" y="232.87" width="2.30" height="2.30" fill="#ffff00"/>
<rect x="665.57" y="231.04" width="2.30" height="2.30" fill="#ffff00"/>
<rect x="671.65" y="231.13" width="2.30" height="2.30" fill="#ffff00"/>
<circle cx="530.40" cy="228.18" r="1.15" fill="#f26b6b"/>
<circle cx="536.45" cy="228.18" r="1.15" fill="#f26b6b"/>
<circle cx="542.51" cy="228.77" r="1.15" fill="#f26b6b"/>
<circle cx="548.56" cy="227.09" r="1.15" fill="#f26b6b"/>
<circle cx="554.62" cy="224.58" r="1.15" fill="#f26b6b"/>
<circle cx="560.67" cy="209.21" r="1.15" fill="#f26b6b"/>
<circle cx="566.73" cy="209.21" r="1.15" fill="#f26b6b"/>
<circle cx="572.78" cy="204.60" r="1.15" fill="#f26b6b"/>
<circle cx="578.84" cy="203.92" r="1.15" fill="#f26b6b"/>
<circle cx="584.89" cy="207.11" r="1.15" fill="#f26b6b"/>
<circle cx="590.95" cy="210.94" r="1.15" fill="#f26b6b"/>
<circle cx="597.00" cy="210.12" r="1.15" fill="#f26b6b"/>
<circle cx="605.90" cy="216.32" r="1.15" fill="#f26b6b"/>
<circle cx="611.98" cy="227.59" r="1.15" fill="#f26b6b"/>
<circle cx="618.06" cy="219.29" r="1.15" fill="#f26b6b"/>
<circle cx="624.15" cy="213.13" r="1.15" fill="#f26b6b"/>
<circle cx="630.23" cy="222.62" r="1.15" fill="#f26b6b"/>
<circle cx="636.31" cy="220.11" r="1.15" fill="#f26b6b"/>
<circle cx="642.39" cy="215.91" r="1.15" fill="#f26b6b"/>
<circle cx="648.47" cy="217.60" r="1.15" fill="#f26b6b"/>
<circle cx="654.55" cy="210.90" r="1.15" fill="#f26b6b"/>
<circle cx="660.64" cy="225.08" r="1.15" fill="#f26b6b"/>
<circle cx="666.72" cy="231.51" r="1.15" fill="#f26b6b"/>
<circle cx="672.80" cy="232.28" r="1.15" fill="#f26b6b"/>
<line x1="530.40" y1="191.70" x2="534.80" y2="191.70" stroke="#333" stroke-width="0.6"/>
<circle cx="532.60" cy="191.70" r="1.10" fill="#f26b6b"/>
<text x="537.40" y="193.70" font-size="4.7" font-weight="normal" fill="#5a5a5a" text-anchor="start">FMS</text>
<line x1="530.40" y1="197.00" x2="534.80" y2="197.00" stroke="#333" stroke-width="0.6"/>
<rect x="531.50" y="195.90" width="2.20" height="2.20" fill="#ffff00"/>
<text x="537.40" y="199.00" font-size="4.7" font-weight="normal" fill="#5a5a5a" text-anchor="start">FSS</text>
<line x1="607.00" y1="193.40" x2="611.40" y2="193.40" stroke="#333" stroke-width="0.6"/>
<circle cx="609.20" cy="193.40" r="1.10" fill="#f26b6b"/>
<text x="614.00" y="195.40" font-size="4.7" font-weight="normal" fill="#5a5a5a" text-anchor="start">FMS</text>
<line x1="607.00" y1="198.90" x2="611.40" y2="198.90" stroke="#333" stroke-width="0.6"/>
<rect x="608.10" y="197.80" width="2.20" height="2.20" fill="#ffff00"/>
<text x="614.00" y="200.90" font-size="4.7" font-weight="normal" fill="#5a5a5a" text-anchor="start">FSS</text>
<line x1="550.60" y1="189.90" x2="550.60" y2="198.80" stroke="#555" stroke-width="1.2"/>
<circle cx="553.00" cy="194.35" r="0.9" fill="#111"/>
<line x1="626.40" y1="192.70" x2="626.40" y2="201.10" stroke="#555" stroke-width="1.2"/>
<circle cx="628.80" cy="196.90" r="0.9" fill="#111"/>
<line x1="532.60" y1="247.40" x2="532.60" y2="250.70" stroke="#111" stroke-width="0.9"/>
<path d="M531.25,248.10 L532.60,244.90 L533.95,248.10 Z" fill="#111"/>
<line x1="543.50" y1="247.40" x2="543.50" y2="250.70" stroke="#ff1a1a" stroke-width="0.9"/>
<path d="M542.15,248.10 L543.50,244.90 L544.85,248.10 Z" fill="#ff1a1a"/>
<text x="561.00" y="252.80" font-size="7.6" font-weight="bold" fill="#333" text-anchor="start" stroke="#333" stroke-width="0.25" textLength="72.4" lengthAdjust="spacing">Zeitgeber Time (hour)</text>
<rect x="114.70" y="269.50" width="73.90" height="46.00" fill="#b6b6b6"/>
<line x1="115.40" y1="269.90" x2="115.40" y2="315.50" stroke="#111" stroke-width="1.4" stroke-dasharray="2.7 2.1"/>
<line x1="40.10" y1="269.20" x2="40.10" y2="315.90" stroke="#222" stroke-width="0.8"/>
<line x1="38.90" y1="315.50" x2="188.60" y2="315.50" stroke="#222" stroke-width="0.8"/>
<line x1="38.60" y1="315.50" x2="40.10" y2="315.50" stroke="#222" stroke-width="0.7"/>
<text x="37.80" y="316.70" font-size="3.4" font-weight="normal" fill="#111" text-anchor="end">0</text>
<line x1="38.60" y1="306.30" x2="40.10" y2="306.30" stroke="#222" stroke-width="0.7"/>
<text x="37.80" y="307.50" font-size="3.4" font-weight="normal" fill="#111" text-anchor="end">20</text>
<line x1="38.60" y1="297.10" x2="40.10" y2="297.10" stroke="#222" stroke-width="0.7"/>
<text x="37.80" y="298.30" font-size="3.4" font-weight="normal" fill="#111" text-anchor="end">40</text>
<line x1="38.60" y1="287.90" x2="40.10" y2="287.90" stroke="#222" stroke-width="0.7"/>
<text x="37.80" y="289.10" font-size="3.4" font-weight="normal" fill="#111" text-anchor="end">60</text>
<line x1="38.60" y1="278.70" x2="40.10" y2="278.70" stroke="#222" stroke-width="0.7"/>
<text x="37.80" y="279.90" font-size="3.4" font-weight="normal" fill="#111" text-anchor="end">80</text>
<line x1="38.60" y1="269.50" x2="40.10" y2="269.50" stroke="#222" stroke-width="0.7"/>
<text x="37.80" y="270.70" font-size="3.4" font-weight="normal" fill="#111" text-anchor="end">100</text>
<line x1="44.20" y1="315.50" x2="44.20" y2="317.20" stroke="#222" stroke-width="0.7"/>
<text x="44.20" y="321.10" font-size="3.4" font-weight="bold" fill="#222" text-anchor="middle">0</text>
<line x1="50.25" y1="315.50" x2="50.25" y2="317.20" stroke="#222" stroke-width="0.7"/>
<text x="50.25" y="321.10" font-size="3.4" font-weight="bold" fill="#222" text-anchor="middle">1</text>
<line x1="56.31" y1="315.50" x2="56.31" y2="317.20" stroke="#222" stroke-width="0.7"/>
<text x="56.31" y="321.10" font-size="3.4" font-weight="bold" fill="#222" text-anchor="middle">2</text>
<line x1="62.36" y1="315.50" x2="62.36" y2="317.20" stroke="#222" stroke-width="0.7"/>
<text x="62.36" y="321.10" font-size="3.4" font-weight="bold" fill="#222" text-anchor="middle">3</text>
<line x1="68.42" y1="315.50" x2="68.42" y2="317.20" stroke="#222" stroke-width="0.7"/>
<text x="68.42" y="321.10" font-size="3.4" font-weight="bold" fill="#222" text-anchor="middle">4</text>
<line x1="74.47" y1="315.50" x2="74.47" y2="317.20" stroke="#222" stroke-width="0.7"/>
<text x="74.47" y="321.10" font-size="3.4" font-weight="bold" fill="#222" text-anchor="middle">5</text>
<line x1="80.53" y1="315.50" x2="80.53" y2="317.20" stroke="#222" stroke-width="0.7"/>
<text x="80.53" y="321.10" font-size="3.4" font-weight="bold" fill="#222" text-anchor="middle">6</text>
<line x1="86.58" y1="315.50" x2="86.58" y2="317.20" stroke="#222" stroke-width="0.7"/>
<text x="86.58" y="321.10" font-size="3.4" font-weight="bold" fill="#222" text-anchor="middle">7</text>
<line x1="92.64" y1="315.50" x2="92.64" y2="317.20" stroke="#222" stroke-width="0.7"/>
<text x="92.64" y="321.10" font-size="3.4" font-weight="bold" fill="#222" text-anchor="middle">8</text>
<line x1="98.69" y1="315.50" x2="98.69" y2="317.20" stroke="#222" stroke-width="0.7"/>
<text x="98.69" y="321.10" font-size="3.4" font-weight="bold" fill="#222" text-anchor="middle">9</text>
<line x1="104.75" y1="315.50" x2="104.75" y2="317.20" stroke="#222" stroke-width="0.7"/>
<text x="104.75" y="321.10" font-size="3.4" font-weight="bold" fill="#222" text-anchor="middle">10</text>
<line x1="110.80" y1="315.50" x2="110.80" y2="317.20" stroke="#222" stroke-width="0.7"/>
<text x="110.80" y="321.10" font-size="3.4" font-weight="bold" fill="#222" text-anchor="middle">11</text>
<line x1="118.70" y1="315.50" x2="118.70" y2="317.20" stroke="#222" stroke-width="0.7"/>
<text x="118.70" y="321.10" font-size="3.4" font-weight="bold" fill="#222" text-anchor="middle">12</text>
<line x1="124.78" y1="315.50" x2="124.78" y2="317.20" stroke="#222" stroke-width="0.7"/>
<text x="124.78" y="321.10" font-size="3.4" font-weight="bold" fill="#222" text-anchor="middle">13</text>
<line x1="130.86" y1="315.50" x2="130.86" y2="317.20" stroke="#222" stroke-width="0.7"/>
<text x="130.86" y="321.10" font-size="3.4" font-weight="bold" fill="#222" text-anchor="middle">14</text>
<line x1="136.95" y1="315.50" x2="136.95" y2="317.20" stroke="#222" stroke-width="0.7"/>
<text x="136.95" y="321.10" font-size="3.4" font-weight="bold" fill="#222" text-anchor="middle">15</text>
<line x1="143.03" y1="315.50" x2="143.03" y2="317.20" stroke="#222" stroke-width="0.7"/>
<text x="143.03" y="321.10" font-size="3.4" font-weight="bold" fill="#222" text-anchor="middle">16</text>
<line x1="149.11" y1="315.50" x2="149.11" y2="317.20" stroke="#222" stroke-width="0.7"/>
<text x="149.11" y="321.10" font-size="3.4" font-weight="bold" fill="#222" text-anchor="middle">17</text>
<line x1="155.19" y1="315.50" x2="155.19" y2="317.20" stroke="#222" stroke-width="0.7"/>
<text x="155.19" y="321.10" font-size="3.4" font-weight="bold" fill="#222" text-anchor="middle">18</text>
<line x1="161.27" y1="315.50" x2="161.27" y2="317.20" stroke="#222" stroke-width="0.7"/>
<text x="161.27" y="321.10" font-size="3.4" font-weight="bold" fill="#222" text-anchor="middle">19</text>
<line x1="167.35" y1="315.50" x2="167.35" y2="317.20" stroke="#222" stroke-width="0.7"/>
<text x="167.35" y="321.10" font-size="3.4" font-weight="bold" fill="#222" text-anchor="middle">20</text>
<line x1="173.44" y1="315.50" x2="173.44" y2="317.20" stroke="#222" stroke-width="0.7"/>
<text x="173.44" y="321.10" font-size="3.4" font-weight="bold" fill="#222" text-anchor="middle">21</text>
<line x1="179.52" y1="315.50" x2="179.52" y2="317.20" stroke="#222" stroke-width="0.7"/>
<text x="179.52" y="321.10" font-size="3.4" font-weight="bold" fill="#222" text-anchor="middle">22</text>
<line x1="185.60" y1="315.50" x2="185.60" y2="317.20" stroke="#222" stroke-width="0.7"/>
<text x="185.60" y="321.10" font-size="3.4" font-weight="bold" fill="#222" text-anchor="middle">23</text>
<text x="30.80" y="292.50" font-size="3.85" font-weight="normal" fill="#333" text-anchor="middle" transform="rotate(-90 30.80 292.50)">% Time Asleep</text>
<path d="M44.2 290.2V295.7M43.5 290.2h1.4M43.5 295.7h1.4M50.3 293.4V298.9M49.6 293.4h1.4M49.6 298.9h1.4M56.3 296.9V302.4M55.6 296.9h1.4M55.6 302.4h1.4M62.4 304.7V310.2M61.7 304.7h1.4M61.7 310.2h1.4M68.4 292.3V297.8M67.7 292.3h1.4M67.7 297.8h1.4M74.5 279.6V285.1M73.8 279.6h1.4M73.8 285.1h1.4M80.5 286.1V291.6M79.8 286.1h1.4M79.8 291.6h1.4M86.6 286.5V292.0M85.9 286.5h1.4M85.9 292.0h1.4M92.6 285.1V290.7M91.9 285.1h1.4M91.9 290.7h1.4M98.7 283.1V288.6M98.0 283.1h1.4M98.0 288.6h1.4M104.7 286.3V291.8M104.0 286.3h1.4M104.0 291.8h1.4M110.8 286.3V291.8M110.1 286.3h1.4M110.1 291.8h1.4M118.7 306.4V312.0M118.0 306.4h1.4M118.0 312.0h1.4M124.8 309.5V315.0M124.1 309.5h1.4M124.1 315.0h1.4M130.9 307.2V312.7M130.2 307.2h1.4M130.2 312.7h1.4M136.9 299.4V304.9M136.2 299.4h1.4M136.2 304.9h1.4M143.0 303.1V308.6M142.3 303.1h1.4M142.3 308.6h1.4M149.1 285.1V290.7M148.4 285.1h1.4M148.4 290.7h1.4M155.2 298.0V303.5M154.5 298.0h1.4M154.5 303.5h1.4M161.3 298.0V303.5M160.6 298.0h1.4M160.6 303.5h1.4M167.4 286.1V291.6M166.7 286.1h1.4M166.7 291.6h1.4M173.4 293.2V298.7M172.7 293.2h1.4M172.7 298.7h1.4M179.5 291.1V296.6M178.8 291.1h1.4M178.8 296.6h1.4M185.6 300.8V306.3M184.9 300.8h1.4M184.9 306.3h1.4" stroke="#b0606a" stroke-width="0.5" fill="none" opacity="0.8"/>
<polyline points="44.20,292.96 50.25,296.18 56.31,299.63 62.36,307.45 68.42,295.03 74.47,282.38 80.53,288.82 86.58,289.28 92.64,287.90 98.69,285.83 104.75,289.05 110.80,289.05" fill="none" stroke="#333" stroke-width="0.75"/>
<polyline points="118.70,309.20 124.78,312.28 130.86,309.98 136.95,302.16 143.03,305.84 149.11,287.90 155.19,300.78 161.27,300.78 167.35,288.82 173.44,295.95 179.52,293.88 185.60,303.54" fill="none" stroke="#222" stroke-width="0.75"/>
<path d="M44.2 294.8V300.3M43.5 294.8h1.4M43.5 300.3h1.4M50.3 289.3V294.8M49.6 289.3h1.4M49.6 294.8h1.4M56.3 292.7V298.2M55.6 292.7h1.4M55.6 298.2h1.4M62.4 294.8V300.3M61.7 294.8h1.4M61.7 300.3h1.4M68.4 282.4V287.9M67.7 282.4h1.4M67.7 287.9h1.4M74.5 286.3V291.8M73.8 286.3h1.4M73.8 291.8h1.4M80.5 285.6V291.1M79.8 285.6h1.4M79.8 291.1h1.4M86.6 280.1V285.6M85.9 280.1h1.4M85.9 285.6h1.4M92.6 289.1V294.6M91.9 289.1h1.4M91.9 294.6h1.4M98.7 280.5V286.1M98.0 280.5h1.4M98.0 286.1h1.4M104.7 286.3V291.8M104.0 286.3h1.4M104.0 291.8h1.4M110.8 289.3V294.8M110.1 289.3h1.4M110.1 294.8h1.4M118.7 303.8V309.3M118.0 303.8h1.4M118.0 309.3h1.4M124.8 307.2V312.7M124.1 307.2h1.4M124.1 312.7h1.4M130.9 299.9V305.4M130.2 299.9h1.4M130.2 305.4h1.4M136.9 299.9V305.4M136.2 299.9h1.4M136.2 305.4h1.4M143.0 304.5V310.0M142.3 304.5h1.4M142.3 310.0h1.4M149.1 305.4V310.9M148.4 305.4h1.4M148.4 310.9h1.4M155.2 304.5V310.0M154.5 304.5h1.4M154.5 310.0h1.4M161.3 298.9V304.5M160.6 298.9h1.4M160.6 304.5h1.4M167.4 291.6V297.1M166.7 291.6h1.4M166.7 297.1h1.4M173.4 295.5V301.0M172.7 295.5h1.4M172.7 301.0h1.4M179.5 298.9V304.5M178.8 298.9h1.4M178.8 304.5h1.4M185.6 302.4V307.9M184.9 302.4h1.4M184.9 307.9h1.4" stroke="#f7a24a" stroke-width="0.5" fill="none" opacity="0.8"/>
<polyline points="44.20,297.56 50.25,292.04 56.31,295.49 62.36,297.56 68.42,285.14 74.47,289.05 80.53,288.36 86.58,282.84 92.64,291.81 98.69,283.30 104.75,289.05 110.80,292.04" fill="none" stroke="#333" stroke-width="0.75"/>
<polyline points="118.70,306.53 124.78,309.98 130.86,302.62 136.95,302.62 143.03,307.22 149.11,308.14 155.19,307.22 161.27,301.70 167.35,294.34 173.44,298.25 179.52,301.70 185.60,305.15" fill="none" stroke="#222" stroke-width="0.75"/>
<rect x="43.05" y="296.41" width="2.30" height="2.30" fill="#f7931e"/>
<rect x="49.10" y="290.89" width="2.30" height="2.30" fill="#f7931e"/>
<rect x="55.16" y="294.34" width="2.30" height="2.30" fill="#f7931e"/>
<rect x="61.21" y="296.41" width="2.30" height="2.30" fill="#f7931e"/>
<rect x="67.27" y="283.99" width="2.30" height="2.30" fill="#f7931e"/>
<rect x="73.32" y="287.90" width="2.30" height="2.30" fill="#f7931e"/>
<rect x="79.38" y="287.21" width="2.30" height="2.30" fill="#f7931e"/>
<rect x="85.43" y="281.69" width="2.30" height="2.30" fill="#f7931e"/>
<rect x="91.49" y="290.66" width="2.30" height="2.30" fill="#f7931e"/>
<rect x="97.54" y="282.15" width="2.30" height="2.30" fill="#f7931e"/>
<rect x="103.60" y="287.90" width="2.30" height="2.30" fill="#f7931e"/>
<rect x="109.65" y="290.89" width="2.30" height="2.30" fill="#f7931e"/>
<rect x="117.55" y="305.38" width="2.30" height="2.30" fill="#f7931e"/>
<rect x="123.63" y="308.83" width="2.30" height="2.30" fill="#f7931e"/>
<rect x="129.71" y="301.47" width="2.30" height="2.30" fill="#f7931e"/>
<rect x="135.80" y="301.47" width="2.30" height="2.30" fill="#f7931e"/>
<rect x="141.88" y="306.07" width="2.30" height="2.30" fill="#f7931e"/>
<rect x="147.96" y="306.99" width="2.30" height="2.30" fill="#f7931e"/>
<rect x="154.04" y="306.07" width="2.30" height="2.30" fill="#f7931e"/>
<rect x="160.12" y="300.55" width="2.30" height="2.30" fill="#f7931e"/>
<rect x="166.20" y="293.19" width="2.30" height="2.30" fill="#f7931e"/>
<rect x="172.29" y="297.10" width="2.30" height="2.30" fill="#f7931e"/>
<rect x="178.37" y="300.55" width="2.30" height="2.30" fill="#f7931e"/>
<rect x="184.45" y="304.00" width="2.30" height="2.30" fill="#f7931e"/>
<circle cx="44.20" cy="292.96" r="1.15" fill="#3c0612"/>
<circle cx="50.25" cy="296.18" r="1.15" fill="#3c0612"/>
<circle cx="56.31" cy="299.63" r="1.15" fill="#3c0612"/>
<circle cx="62.36" cy="307.45" r="1.15" fill="#3c0612"/>
<circle cx="68.42" cy="295.03" r="1.15" fill="#3c0612"/>
<circle cx="74.47" cy="282.38" r="1.15" fill="#3c0612"/>
<circle cx="80.53" cy="288.82" r="1.15" fill="#3c0612"/>
<circle cx="86.58" cy="289.28" r="1.15" fill="#3c0612"/>
<circle cx="92.64" cy="287.90" r="1.15" fill="#3c0612"/>
<circle cx="98.69" cy="285.83" r="1.15" fill="#3c0612"/>
<circle cx="104.75" cy="289.05" r="1.15" fill="#3c0612"/>
<circle cx="110.80" cy="289.05" r="1.15" fill="#3c0612"/>
<circle cx="118.70" cy="309.20" r="1.15" fill="#3c0612"/>
<circle cx="124.78" cy="312.28" r="1.15" fill="#3c0612"/>
<circle cx="130.86" cy="309.98" r="1.15" fill="#3c0612"/>
<circle cx="136.95" cy="302.16" r="1.15" fill="#3c0612"/>
<circle cx="143.03" cy="305.84" r="1.15" fill="#3c0612"/>
<circle cx="149.11" cy="287.90" r="1.15" fill="#3c0612"/>
<circle cx="155.19" cy="300.78" r="1.15" fill="#3c0612"/>
<circle cx="161.27" cy="300.78" r="1.15" fill="#3c0612"/>
<circle cx="167.35" cy="288.82" r="1.15" fill="#3c0612"/>
<circle cx="173.44" cy="295.95" r="1.15" fill="#3c0612"/>
<circle cx="179.52" cy="293.88" r="1.15" fill="#3c0612"/>
<circle cx="185.60" cy="303.54" r="1.15" fill="#3c0612"/>
<line x1="43.70" y1="269.90" x2="48.10" y2="269.90" stroke="#333" stroke-width="0.6"/>
<circle cx="45.90" cy="269.90" r="1.10" fill="#3c0612"/>
<text x="50.70" y="271.90" font-size="4.7" font-weight="normal" fill="#5a5a5a" text-anchor="start">FMN</text>
<line x1="43.70" y1="275.00" x2="48.10" y2="275.00" stroke="#333" stroke-width="0.6"/>
<rect x="44.80" y="273.90" width="2.20" height="2.20" fill="#f7931e"/>
<text x="50.70" y="277.00" font-size="4.7" font-weight="normal" fill="#5a5a5a" text-anchor="start">FSN</text>
<line x1="119.50" y1="271.70" x2="123.90" y2="271.70" stroke="#333" stroke-width="0.6"/>
<circle cx="121.70" cy="271.70" r="1.10" fill="#3c0612"/>
<text x="126.50" y="273.70" font-size="4.7" font-weight="normal" fill="#5a5a5a" text-anchor="start">FMN</text>
<line x1="119.50" y1="276.70" x2="123.90" y2="276.70" stroke="#333" stroke-width="0.6"/>
<rect x="120.60" y="275.60" width="2.20" height="2.20" fill="#f7931e"/>
<text x="126.50" y="278.70" font-size="4.7" font-weight="normal" fill="#5a5a5a" text-anchor="start">FSN</text>
<text x="160.20" y="312.70" font-size="3.75" fill="#333" textLength="22.8" lengthAdjust="spacing">Hour X Group</text>
<text x="183.50" y="312.10" font-size="3.2" fill="#333">**</text>
<text x="148.30" y="282.40" font-size="4" font-weight="normal" fill="#444" text-anchor="start">*</text>
<text x="78.80" y="331.60" font-size="7.6" font-weight="bold" fill="#333" text-anchor="start" stroke="#333" stroke-width="0.25" textLength="72.6" lengthAdjust="spacing">Zeitgeber Time (hour)</text>
<rect x="359.80" y="270.20" width="73.80" height="45.30" fill="#b6b6b6"/>
<line x1="360.50" y1="270.60" x2="360.50" y2="315.50" stroke="#111" stroke-width="1.4" stroke-dasharray="2.7 2.1"/>
<line x1="285.00" y1="269.20" x2="285.00" y2="315.90" stroke="#222" stroke-width="0.8"/>
<line x1="283.80" y1="315.50" x2="433.60" y2="315.50" stroke="#222" stroke-width="0.8"/>
<line x1="283.50" y1="315.50" x2="285.00" y2="315.50" stroke="#222" stroke-width="0.7"/>
<text x="282.70" y="316.70" font-size="3.4" font-weight="normal" fill="#111" text-anchor="end">0</text>
<line x1="283.50" y1="306.30" x2="285.00" y2="306.30" stroke="#222" stroke-width="0.7"/>
<text x="282.70" y="307.50" font-size="3.4" font-weight="normal" fill="#111" text-anchor="end">20</text>
<line x1="283.50" y1="297.10" x2="285.00" y2="297.10" stroke="#222" stroke-width="0.7"/>
<text x="282.70" y="298.30" font-size="3.4" font-weight="normal" fill="#111" text-anchor="end">40</text>
<line x1="283.50" y1="287.90" x2="285.00" y2="287.90" stroke="#222" stroke-width="0.7"/>
<text x="282.70" y="289.10" font-size="3.4" font-weight="normal" fill="#111" text-anchor="end">60</text>
<line x1="283.50" y1="278.70" x2="285.00" y2="278.70" stroke="#222" stroke-width="0.7"/>
<text x="282.70" y="279.90" font-size="3.4" font-weight="normal" fill="#111" text-anchor="end">80</text>
<line x1="283.50" y1="269.50" x2="285.00" y2="269.50" stroke="#222" stroke-width="0.7"/>
<text x="282.70" y="270.70" font-size="3.4" font-weight="normal" fill="#111" text-anchor="end">100</text>
<line x1="289.20" y1="315.50" x2="289.20" y2="317.20" stroke="#222" stroke-width="0.7"/>
<text x="289.20" y="321.10" font-size="3.4" font-weight="bold" fill="#222" text-anchor="middle">0</text>
<line x1="295.25" y1="315.50" x2="295.25" y2="317.20" stroke="#222" stroke-width="0.7"/>
<text x="295.25" y="321.10" font-size="3.4" font-weight="bold" fill="#222" text-anchor="middle">1</text>
<line x1="301.31" y1="315.50" x2="301.31" y2="317.20" stroke="#222" stroke-width="0.7"/>
<text x="301.31" y="321.10" font-size="3.4" font-weight="bold" fill="#222" text-anchor="middle">2</text>
<line x1="307.36" y1="315.50" x2="307.36" y2="317.20" stroke="#222" stroke-width="0.7"/>
<text x="307.36" y="321.10" font-size="3.4" font-weight="bold" fill="#222" text-anchor="middle">3</text>
<line x1="313.42" y1="315.50" x2="313.42" y2="317.20" stroke="#222" stroke-width="0.7"/>
<text x="313.42" y="321.10" font-size="3.4" font-weight="bold" fill="#222" text-anchor="middle">4</text>
<line x1="319.47" y1="315.50" x2="319.47" y2="317.20" stroke="#222" stroke-width="0.7"/>
<text x="319.47" y="321.10" font-size="3.4" font-weight="bold" fill="#222" text-anchor="middle">5</text>
<line x1="325.53" y1="315.50" x2="325.53" y2="317.20" stroke="#222" stroke-width="0.7"/>
<text x="325.53" y="321.10" font-size="3.4" font-weight="bold" fill="#222" text-anchor="middle">6</text>
<line x1="331.58" y1="315.50" x2="331.58" y2="317.20" stroke="#222" stroke-width="0.7"/>
<text x="331.58" y="321.10" font-size="3.4" font-weight="bold" fill="#222" text-anchor="middle">7</text>
<line x1="337.64" y1="315.50" x2="337.64" y2="317.20" stroke="#222" stroke-width="0.7"/>
<text x="337.64" y="321.10" font-size="3.4" font-weight="bold" fill="#222" text-anchor="middle">8</text>
<line x1="343.69" y1="315.50" x2="343.69" y2="317.20" stroke="#222" stroke-width="0.7"/>
<text x="343.69" y="321.10" font-size="3.4" font-weight="bold" fill="#222" text-anchor="middle">9</text>
<line x1="349.75" y1="315.50" x2="349.75" y2="317.20" stroke="#222" stroke-width="0.7"/>
<text x="349.75" y="321.10" font-size="3.4" font-weight="bold" fill="#222" text-anchor="middle">10</text>
<line x1="355.80" y1="315.50" x2="355.80" y2="317.20" stroke="#222" stroke-width="0.7"/>
<text x="355.80" y="321.10" font-size="3.4" font-weight="bold" fill="#222" text-anchor="middle">11</text>
<line x1="364.20" y1="315.50" x2="364.20" y2="317.20" stroke="#222" stroke-width="0.7"/>
<text x="364.20" y="321.10" font-size="3.4" font-weight="bold" fill="#222" text-anchor="middle">12</text>
<line x1="370.24" y1="315.50" x2="370.24" y2="317.20" stroke="#222" stroke-width="0.7"/>
<text x="370.24" y="321.10" font-size="3.4" font-weight="bold" fill="#222" text-anchor="middle">13</text>
<line x1="376.27" y1="315.50" x2="376.27" y2="317.20" stroke="#222" stroke-width="0.7"/>
<text x="376.27" y="321.10" font-size="3.4" font-weight="bold" fill="#222" text-anchor="middle">14</text>
<line x1="382.31" y1="315.50" x2="382.31" y2="317.20" stroke="#222" stroke-width="0.7"/>
<text x="382.31" y="321.10" font-size="3.4" font-weight="bold" fill="#222" text-anchor="middle">15</text>
<line x1="388.35" y1="315.50" x2="388.35" y2="317.20" stroke="#222" stroke-width="0.7"/>
<text x="388.35" y="321.10" font-size="3.4" font-weight="bold" fill="#222" text-anchor="middle">16</text>
<line x1="394.38" y1="315.50" x2="394.38" y2="317.20" stroke="#222" stroke-width="0.7"/>
<text x="394.38" y="321.10" font-size="3.4" font-weight="bold" fill="#222" text-anchor="middle">17</text>
<line x1="400.42" y1="315.50" x2="400.42" y2="317.20" stroke="#222" stroke-width="0.7"/>
<text x="400.42" y="321.10" font-size="3.4" font-weight="bold" fill="#222" text-anchor="middle">18</text>
<line x1="406.45" y1="315.50" x2="406.45" y2="317.20" stroke="#222" stroke-width="0.7"/>
<text x="406.45" y="321.10" font-size="3.4" font-weight="bold" fill="#222" text-anchor="middle">19</text>
<line x1="412.49" y1="315.50" x2="412.49" y2="317.20" stroke="#222" stroke-width="0.7"/>
<text x="412.49" y="321.10" font-size="3.4" font-weight="bold" fill="#222" text-anchor="middle">20</text>
<line x1="418.53" y1="315.50" x2="418.53" y2="317.20" stroke="#222" stroke-width="0.7"/>
<text x="418.53" y="321.10" font-size="3.4" font-weight="bold" fill="#222" text-anchor="middle">21</text>
<line x1="424.56" y1="315.50" x2="424.56" y2="317.20" stroke="#222" stroke-width="0.7"/>
<text x="424.56" y="321.10" font-size="3.4" font-weight="bold" fill="#222" text-anchor="middle">22</text>
<line x1="430.60" y1="315.50" x2="430.60" y2="317.20" stroke="#222" stroke-width="0.7"/>
<text x="430.60" y="321.10" font-size="3.4" font-weight="bold" fill="#222" text-anchor="middle">23</text>
<text x="275.70" y="292.50" font-size="3.85" font-weight="normal" fill="#333" text-anchor="middle" transform="rotate(-90 275.70 292.50)">% Time Asleep</text>
<path d="M289.2 295.3V300.8M288.5 295.3h1.4M288.5 300.8h1.4M295.3 295.3V300.8M294.6 295.3h1.4M294.6 300.8h1.4M301.3 295.3V300.8M300.6 295.3h1.4M300.6 300.8h1.4M307.4 291.9V297.4M306.7 291.9h1.4M306.7 297.4h1.4M313.4 295.3V300.8M312.7 295.3h1.4M312.7 300.8h1.4M319.5 277.6V283.2M318.8 277.6h1.4M318.8 283.2h1.4M325.5 284.4V289.9M324.8 284.4h1.4M324.8 289.9h1.4M331.6 277.6V283.2M330.9 277.6h1.4M330.9 283.2h1.4M337.6 286.5V292.0M336.9 286.5h1.4M336.9 292.0h1.4M343.7 286.1V291.6M343.0 286.1h1.4M343.0 291.6h1.4M349.7 283.2V288.7M349.0 283.2h1.4M349.0 288.7h1.4M355.8 287.7V293.2M355.1 287.7h1.4M355.1 293.2h1.4M364.2 298.9V304.5M363.5 298.9h1.4M363.5 304.5h1.4M370.2 309.8V315.3M369.5 309.8h1.4M369.5 315.3h1.4M376.3 309.1V314.6M375.6 309.1h1.4M375.6 314.6h1.4M382.3 303.9V309.4M381.6 303.9h1.4M381.6 309.4h1.4M388.3 307.2V312.7M387.6 307.2h1.4M387.6 312.7h1.4M394.4 298.2V303.8M393.7 298.2h1.4M393.7 303.8h1.4M400.4 299.4V304.9M399.7 299.4h1.4M399.7 304.9h1.4M406.5 294.8V300.3M405.8 294.8h1.4M405.8 300.3h1.4M412.5 286.5V292.0M411.8 286.5h1.4M411.8 292.0h1.4M418.5 294.8V300.3M417.8 294.8h1.4M417.8 300.3h1.4M424.6 305.6V311.1M423.9 305.6h1.4M423.9 311.1h1.4M430.6 289.8V295.4M429.9 289.8h1.4M429.9 295.4h1.4" stroke="#b0606a" stroke-width="0.5" fill="none" opacity="0.8"/>
<polyline points="289.20,298.02 295.25,298.02 301.31,298.02 307.36,294.62 313.42,298.02 319.47,280.40 325.53,287.12 331.58,280.40 337.64,289.28 343.69,288.82 349.75,285.92 355.80,290.43" fill="none" stroke="#333" stroke-width="0.75"/>
<polyline points="364.20,301.70 370.24,312.51 376.27,311.82 382.31,306.62 388.35,309.98 394.38,301.01 400.42,302.16 406.45,297.56 412.49,289.28 418.53,297.56 424.56,308.32 430.60,292.59" fill="none" stroke="#222" stroke-width="0.75"/>
<path d="M289.2 299.9V305.4M288.5 299.9h1.4M288.5 305.4h1.4M295.3 295.3V300.8M294.6 295.3h1.4M294.6 300.8h1.4M301.3 288.0V293.6M300.6 288.0h1.4M300.6 293.6h1.4M307.4 291.6V297.1M306.7 291.6h1.4M306.7 297.1h1.4M313.4 277.3V282.8M312.7 277.3h1.4M312.7 282.8h1.4M319.5 288.0V293.6M318.8 288.0h1.4M318.8 293.6h1.4M325.5 287.7V293.2M324.8 287.7h1.4M324.8 293.2h1.4M331.6 283.2V288.7M330.9 283.2h1.4M330.9 288.7h1.4M337.6 278.9V284.4M336.9 278.9h1.4M336.9 284.4h1.4M343.7 289.1V294.6M343.0 289.1h1.4M343.0 294.6h1.4M349.7 285.6V291.1M349.0 285.6h1.4M349.0 291.1h1.4M355.8 288.0V293.6M355.1 288.0h1.4M355.1 293.6h1.4M364.2 294.8V300.3M363.5 294.8h1.4M363.5 300.3h1.4M370.2 308.9V314.4M369.5 308.9h1.4M369.5 314.4h1.4M376.3 309.1V314.6M375.6 309.1h1.4M375.6 314.6h1.4M382.3 307.7V313.2M381.6 307.7h1.4M381.6 313.2h1.4M388.3 302.8V308.3M387.6 302.8h1.4M387.6 308.3h1.4M394.4 297.3V302.8M393.7 297.3h1.4M393.7 302.8h1.4M400.4 286.8V292.4M399.7 286.8h1.4M399.7 292.4h1.4M406.5 283.9V289.5M405.8 283.9h1.4M405.8 289.5h1.4M412.5 291.9V297.4M411.8 291.9h1.4M411.8 297.4h1.4M418.5 292.6V298.2M417.8 292.6h1.4M417.8 298.2h1.4M424.6 305.2V310.8M423.9 305.2h1.4M423.9 310.8h1.4M430.6 302.8V308.3M429.9 302.8h1.4M429.9 308.3h1.4" stroke="#f58a8a" stroke-width="0.5" fill="none" opacity="0.8"/>
<polyline points="289.20,302.62 295.25,298.02 301.31,290.80 307.36,294.34 313.42,280.08 319.47,290.80 325.53,290.43 331.58,285.92 337.64,281.69 343.69,291.81 349.75,288.36 355.80,290.80" fill="none" stroke="#333" stroke-width="0.75"/>
<polyline points="364.20,297.56 370.24,311.68 376.27,311.82 382.31,310.44 388.35,305.52 394.38,300.09 400.42,289.60 406.45,286.70 412.49,294.62 418.53,295.40 424.56,308.00 430.60,305.52" fill="none" stroke="#222" stroke-width="0.75"/>
<circle cx="289.20" cy="302.62" r="1.15" fill="#f26b6b"/>
<circle cx="295.25" cy="298.02" r="1.15" fill="#f26b6b"/>
<circle cx="301.31" cy="290.80" r="1.15" fill="#f26b6b"/>
<circle cx="307.36" cy="294.34" r="1.15" fill="#f26b6b"/>
<circle cx="313.42" cy="280.08" r="1.15" fill="#f26b6b"/>
<circle cx="319.47" cy="290.80" r="1.15" fill="#f26b6b"/>
<circle cx="325.53" cy="290.43" r="1.15" fill="#f26b6b"/>
<circle cx="331.58" cy="285.92" r="1.15" fill="#f26b6b"/>
<circle cx="337.64" cy="281.69" r="1.15" fill="#f26b6b"/>
<circle cx="343.69" cy="291.81" r="1.15" fill="#f26b6b"/>
<circle cx="349.75" cy="288.36" r="1.15" fill="#f26b6b"/>
<circle cx="355.80" cy="290.80" r="1.15" fill="#f26b6b"/>
<circle cx="364.20" cy="297.56" r="1.15" fill="#f26b6b"/>
<circle cx="370.24" cy="311.68" r="1.15" fill="#f26b6b"/>
<circle cx="376.27" cy="311.82" r="1.15" fill="#f26b6b"/>
<circle cx="382.31" cy="310.44" r="1.15" fill="#f26b6b"/>
<circle cx="388.35" cy="305.52" r="1.15" fill="#f26b6b"/>
<circle cx="394.38" cy="300.09" r="1.15" fill="#f26b6b"/>
<circle cx="400.42" cy="289.60" r="1.15" fill="#f26b6b"/>
<circle cx="406.45" cy="286.70" r="1.15" fill="#f26b6b"/>
<circle cx="412.49" cy="294.62" r="1.15" fill="#f26b6b"/>
<circle cx="418.53" cy="295.40" r="1.15" fill="#f26b6b"/>
<circle cx="424.56" cy="308.00" r="1.15" fill="#f26b6b"/>
<circle cx="430.60" cy="305.52" r="1.15" fill="#f26b6b"/>
<circle cx="289.20" cy="298.02" r="1.15" fill="#3c0612"/>
<circle cx="295.25" cy="298.02" r="1.15" fill="#3c0612"/>
<circle cx="301.31" cy="298.02" r="1.15" fill="#3c0612"/>
<circle cx="307.36" cy="294.62" r="1.15" fill="#3c0612"/>
<circle cx="313.42" cy="298.02" r="1.15" fill="#3c0612"/>
<circle cx="319.47" cy="280.40" r="1.15" fill="#3c0612"/>
<circle cx="325.53" cy="287.12" r="1.15" fill="#3c0612"/>
<circle cx="331.58" cy="280.40" r="1.15" fill="#3c0612"/>
<circle cx="337.64" cy="289.28" r="1.15" fill="#3c0612"/>
<circle cx="343.69" cy="288.82" r="1.15" fill="#3c0612"/>
<circle cx="349.75" cy="285.92" r="1.15" fill="#3c0612"/>
<circle cx="355.80" cy="290.43" r="1.15" fill="#3c0612"/>
<circle cx="364.20" cy="301.70" r="1.15" fill="#3c0612"/>
<circle cx="370.24" cy="312.51" r="1.15" fill="#3c0612"/>
<circle cx="376.27" cy="311.82" r="1.15" fill="#3c0612"/>
<circle cx="382.31" cy="306.62" r="1.15" fill="#3c0612"/>
<circle cx="388.35" cy="309.98" r="1.15" fill="#3c0612"/>
<circle cx="394.38" cy="301.01" r="1.15" fill="#3c0612"/>
<circle cx="400.42" cy="302.16" r="1.15" fill="#3c0612"/>
<circle cx="406.45" cy="297.56" r="1.15" fill="#3c0612"/>
<circle cx="412.49" cy="289.28" r="1.15" fill="#3c0612"/>
<circle cx="418.53" cy="297.56" r="1.15" fill="#3c0612"/>
<circle cx="424.56" cy="308.32" r="1.15" fill="#3c0612"/>
<circle cx="430.60" cy="292.59" r="1.15" fill="#3c0612"/>
<line x1="288.80" y1="269.50" x2="293.20" y2="269.50" stroke="#333" stroke-width="0.6"/>
<circle cx="291.00" cy="269.50" r="1.10" fill="#3c0612"/>
<text x="295.80" y="271.50" font-size="4.7" font-weight="normal" fill="#5a5a5a" text-anchor="start">FMN</text>
<line x1="288.80" y1="275.00" x2="293.20" y2="275.00" stroke="#333" stroke-width="0.6"/>
<circle cx="291.00" cy="275.00" r="1.10" fill="#f26b6b"/>
<text x="295.80" y="277.00" font-size="4.7" font-weight="normal" fill="#5a5a5a" text-anchor="start">FMS</text>
<line x1="365.40" y1="273.70" x2="369.80" y2="273.70" stroke="#333" stroke-width="0.6"/>
<circle cx="367.60" cy="273.70" r="1.10" fill="#3c0612"/>
<text x="372.40" y="275.70" font-size="4.7" font-weight="normal" fill="#5a5a5a" text-anchor="start">FMN</text>
<line x1="365.40" y1="278.70" x2="369.80" y2="278.70" stroke="#333" stroke-width="0.6"/>
<circle cx="367.60" cy="278.70" r="1.10" fill="#f26b6b"/>
<text x="372.40" y="280.70" font-size="4.7" font-weight="normal" fill="#5a5a5a" text-anchor="start">FMS</text>
<text x="313.50" y="275.90" font-size="4" font-weight="normal" fill="#444" text-anchor="start">*</text>
<text x="323.30" y="331.60" font-size="7.6" font-weight="bold" fill="#333" text-anchor="start" stroke="#333" stroke-width="0.25" textLength="72.6" lengthAdjust="spacing">Zeitgeber Time (hour)</text>
<rect x="602.30" y="269.70" width="74.10" height="45.80" fill="#b6b6b6"/>
<line x1="603.00" y1="270.10" x2="603.00" y2="315.50" stroke="#111" stroke-width="1.4" stroke-dasharray="2.7 2.1"/>
<line x1="526.20" y1="269.60" x2="526.20" y2="315.90" stroke="#222" stroke-width="0.8"/>
<line x1="525.00" y1="315.50" x2="676.40" y2="315.50" stroke="#222" stroke-width="0.8"/>
<line x1="524.70" y1="315.50" x2="526.20" y2="315.50" stroke="#222" stroke-width="0.7"/>
<text x="523.90" y="316.70" font-size="3.4" font-weight="normal" fill="#111" text-anchor="end">0</text>
<line x1="524.70" y1="306.38" x2="526.20" y2="306.38" stroke="#222" stroke-width="0.7"/>
<text x="523.90" y="307.58" font-size="3.4" font-weight="normal" fill="#111" text-anchor="end">20</text>
<line x1="524.70" y1="297.26" x2="526.20" y2="297.26" stroke="#222" stroke-width="0.7"/>
<text x="523.90" y="298.46" font-size="3.4" font-weight="normal" fill="#111" text-anchor="end">40</text>
<line x1="524.70" y1="288.14" x2="526.20" y2="288.14" stroke="#222" stroke-width="0.7"/>
<text x="523.90" y="289.34" font-size="3.4" font-weight="normal" fill="#111" text-anchor="end">60</text>
<line x1="524.70" y1="279.02" x2="526.20" y2="279.02" stroke="#222" stroke-width="0.7"/>
<text x="523.90" y="280.22" font-size="3.4" font-weight="normal" fill="#111" text-anchor="end">80</text>
<line x1="524.70" y1="269.90" x2="526.20" y2="269.90" stroke="#222" stroke-width="0.7"/>
<text x="523.90" y="271.10" font-size="3.4" font-weight="normal" fill="#111" text-anchor="end">100</text>
<line x1="530.40" y1="315.50" x2="530.40" y2="317.20" stroke="#222" stroke-width="0.7"/>
<text x="530.40" y="321.10" font-size="3.4" font-weight="bold" fill="#222" text-anchor="middle">0</text>
<line x1="536.45" y1="315.50" x2="536.45" y2="317.20" stroke="#222" stroke-width="0.7"/>
<text x="536.45" y="321.10" font-size="3.4" font-weight="bold" fill="#222" text-anchor="middle">1</text>
<line x1="542.51" y1="315.50" x2="542.51" y2="317.20" stroke="#222" stroke-width="0.7"/>
<text x="542.51" y="321.10" font-size="3.4" font-weight="bold" fill="#222" text-anchor="middle">2</text>
<line x1="548.56" y1="315.50" x2="548.56" y2="317.20" stroke="#222" stroke-width="0.7"/>
<text x="548.56" y="321.10" font-size="3.4" font-weight="bold" fill="#222" text-anchor="middle">3</text>
<line x1="554.62" y1="315.50" x2="554.62" y2="317.20" stroke="#222" stroke-width="0.7"/>
<text x="554.62" y="321.10" font-size="3.4" font-weight="bold" fill="#222" text-anchor="middle">4</text>
<line x1="560.67" y1="315.50" x2="560.67" y2="317.20" stroke="#222" stroke-width="0.7"/>
<text x="560.67" y="321.10" font-size="3.4" font-weight="bold" fill="#222" text-anchor="middle">5</text>
<line x1="566.73" y1="315.50" x2="566.73" y2="317.20" stroke="#222" stroke-width="0.7"/>
<text x="566.73" y="321.10" font-size="3.4" font-weight="bold" fill="#222" text-anchor="middle">6</text>
<line x1="572.78" y1="315.50" x2="572.78" y2="317.20" stroke="#222" stroke-width="0.7"/>
<text x="572.78" y="321.10" font-size="3.4" font-weight="bold" fill="#222" text-anchor="middle">7</text>
<line x1="578.84" y1="315.50" x2="578.84" y2="317.20" stroke="#222" stroke-width="0.7"/>
<text x="578.84" y="321.10" font-size="3.4" font-weight="bold" fill="#222" text-anchor="middle">8</text>
<line x1="584.89" y1="315.50" x2="584.89" y2="317.20" stroke="#222" stroke-width="0.7"/>
<text x="584.89" y="321.10" font-size="3.4" font-weight="bold" fill="#222" text-anchor="middle">9</text>
<line x1="590.95" y1="315.50" x2="590.95" y2="317.20" stroke="#222" stroke-width="0.7"/>
<text x="590.95" y="321.10" font-size="3.4" font-weight="bold" fill="#222" text-anchor="middle">10</text>
<line x1="597.00" y1="315.50" x2="597.00" y2="317.20" stroke="#222" stroke-width="0.7"/>
<text x="597.00" y="321.10" font-size="3.4" font-weight="bold" fill="#222" text-anchor="middle">11</text>
<line x1="605.90" y1="315.50" x2="605.90" y2="317.20" stroke="#222" stroke-width="0.7"/>
<text x="605.90" y="321.10" font-size="3.4" font-weight="bold" fill="#222" text-anchor="middle">12</text>
<line x1="611.98" y1="315.50" x2="611.98" y2="317.20" stroke="#222" stroke-width="0.7"/>
<text x="611.98" y="321.10" font-size="3.4" font-weight="bold" fill="#222" text-anchor="middle">13</text>
<line x1="618.06" y1="315.50" x2="618.06" y2="317.20" stroke="#222" stroke-width="0.7"/>
<text x="618.06" y="321.10" font-size="3.4" font-weight="bold" fill="#222" text-anchor="middle">14</text>
<line x1="624.15" y1="315.50" x2="624.15" y2="317.20" stroke="#222" stroke-width="0.7"/>
<text x="624.15" y="321.10" font-size="3.4" font-weight="bold" fill="#222" text-anchor="middle">15</text>
<line x1="630.23" y1="315.50" x2="630.23" y2="317.20" stroke="#222" stroke-width="0.7"/>
<text x="630.23" y="321.10" font-size="3.4" font-weight="bold" fill="#222" text-anchor="middle">16</text>
<line x1="636.31" y1="315.50" x2="636.31" y2="317.20" stroke="#222" stroke-width="0.7"/>
<text x="636.31" y="321.10" font-size="3.4" font-weight="bold" fill="#222" text-anchor="middle">17</text>
<line x1="642.39" y1="315.50" x2="642.39" y2="317.20" stroke="#222" stroke-width="0.7"/>
<text x="642.39" y="321.10" font-size="3.4" font-weight="bold" fill="#222" text-anchor="middle">18</text>
<line x1="648.47" y1="315.50" x2="648.47" y2="317.20" stroke="#222" stroke-width="0.7"/>
<text x="648.47" y="321.10" font-size="3.4" font-weight="bold" fill="#222" text-anchor="middle">19</text>
<line x1="654.55" y1="315.50" x2="654.55" y2="317.20" stroke="#222" stroke-width="0.7"/>
<text x="654.55" y="321.10" font-size="3.4" font-weight="bold" fill="#222" text-anchor="middle">20</text>
<line x1="660.64" y1="315.50" x2="660.64" y2="317.20" stroke="#222" stroke-width="0.7"/>
<text x="660.64" y="321.10" font-size="3.4" font-weight="bold" fill="#222" text-anchor="middle">21</text>
<line x1="666.72" y1="315.50" x2="666.72" y2="317.20" stroke="#222" stroke-width="0.7"/>
<text x="666.72" y="321.10" font-size="3.4" font-weight="bold" fill="#222" text-anchor="middle">22</text>
<line x1="672.80" y1="315.50" x2="672.80" y2="317.20" stroke="#222" stroke-width="0.7"/>
<text x="672.80" y="321.10" font-size="3.4" font-weight="bold" fill="#222" text-anchor="middle">23</text>
<text x="516.90" y="292.70" font-size="3.85" font-weight="normal" fill="#333" text-anchor="middle" transform="rotate(-90 516.90 292.70)">% Time Asleep</text>
<path d="M530.4 307.8V313.3M529.7 307.8h1.4M529.7 313.3h1.4M536.5 304.6V310.0M535.8 304.6h1.4M535.8 310.0h1.4M542.5 295.4V300.9M541.8 295.4h1.4M541.8 300.9h1.4M548.6 303.2V308.7M547.9 303.2h1.4M547.9 308.7h1.4M554.6 295.0V300.5M553.9 295.0h1.4M553.9 300.5h1.4M560.7 283.7V289.2M560.0 283.7h1.4M560.0 289.2h1.4M566.7 284.6V290.1M566.0 284.6h1.4M566.0 290.1h1.4M572.8 280.4V285.9M572.1 280.4h1.4M572.1 285.9h1.4M578.8 280.4V285.9M578.1 280.4h1.4M578.1 285.9h1.4M584.9 288.3V293.7M584.2 288.3h1.4M584.2 293.7h1.4M590.9 287.1V292.6M590.2 287.1h1.4M590.2 292.6h1.4M597.0 286.3V291.8M596.3 286.3h1.4M596.3 291.8h1.4M605.9 299.4V304.8M605.2 299.4h1.4M605.2 304.8h1.4M612.0 298.9V304.3M611.3 298.9h1.4M611.3 304.3h1.4M618.1 300.3V305.7M617.4 300.3h1.4M617.4 305.7h1.4M624.1 295.3V300.7M623.4 295.3h1.4M623.4 300.7h1.4M630.2 296.8V302.3M629.5 296.8h1.4M629.5 302.3h1.4M636.3 288.6V294.0M635.6 288.6h1.4M635.6 294.0h1.4M642.4 282.7V288.1M641.7 282.7h1.4M641.7 288.1h1.4M648.5 296.8V302.3M647.8 296.8h1.4M647.8 302.3h1.4M654.6 290.6V296.0M653.9 290.6h1.4M653.9 296.0h1.4M660.6 290.6V296.0M659.9 290.6h1.4M659.9 296.0h1.4M666.7 298.9V304.3M666.0 298.9h1.4M666.0 304.3h1.4M672.8 307.0V312.4M672.1 307.0h1.4M672.1 312.4h1.4" stroke="#f58a8a" stroke-width="0.5" fill="none" opacity="0.8"/>
<polyline points="530.40,310.53 536.45,307.29 542.51,298.17 548.56,305.92 554.62,297.72 560.67,286.45 566.73,287.36 572.78,283.17 578.84,283.17 584.89,291.01 590.95,289.83 597.00,289.05" fill="none" stroke="#333" stroke-width="0.75"/>
<polyline points="605.90,302.09 611.98,301.59 618.06,303.01 624.15,297.99 630.23,299.59 636.31,291.29 642.39,285.40 648.47,299.59 654.55,293.29 660.64,293.29 666.72,301.59 672.80,309.71" fill="none" stroke="#222" stroke-width="0.75"/>
<path d="M530.4 300.4V305.8M529.7 300.4h1.4M529.7 305.8h1.4M536.5 296.5V302.0M535.8 296.5h1.4M535.8 302.0h1.4M542.5 292.8V298.3M541.8 292.8h1.4M541.8 298.3h1.4M548.6 284.2V289.7M547.9 284.2h1.4M547.9 289.7h1.4M554.6 280.9V286.4M553.9 280.9h1.4M553.9 286.4h1.4M560.7 287.6V293.1M560.0 287.6h1.4M560.0 293.1h1.4M566.7 284.9V290.4M566.0 284.9h1.4M566.0 290.4h1.4M572.8 278.5V283.9M572.1 278.5h1.4M572.1 283.9h1.4M578.8 289.6V295.0M578.1 289.6h1.4M578.1 295.0h1.4M584.9 282.7V288.1M584.2 282.7h1.4M584.2 288.1h1.4M590.9 285.9V291.4M590.2 285.9h1.4M590.2 291.4h1.4M597.0 288.8V294.3M596.3 288.8h1.4M596.3 294.3h1.4M605.9 296.1V301.5M605.2 296.1h1.4M605.2 301.5h1.4M612.0 305.7V311.2M611.3 305.7h1.4M611.3 311.2h1.4M618.1 299.9V305.3M617.4 299.9h1.4M617.4 305.3h1.4M624.1 298.9V304.3M623.4 298.9h1.4M623.4 304.3h1.4M630.2 303.1V308.5M629.5 303.1h1.4M629.5 308.5h1.4M636.3 309.5V315.0M635.6 309.5h1.4M635.6 315.0h1.4M642.4 294.8V300.2M641.7 294.8h1.4M641.7 300.2h1.4M648.5 299.4V304.8M647.8 299.4h1.4M647.8 304.8h1.4M654.6 301.9V307.3M653.9 301.9h1.4M653.9 307.3h1.4M660.6 295.6V301.0M659.9 295.6h1.4M659.9 301.0h1.4M666.7 305.0V310.4M666.0 305.0h1.4M666.0 310.4h1.4M672.8 307.0V312.4M672.1 307.0h1.4M672.1 312.4h1.4" stroke="#eeee40" stroke-width="0.5" fill="none" opacity="0.8"/>
<polyline points="530.40,303.10 536.45,299.22 542.51,295.57 548.56,286.95 554.62,283.67 560.67,290.33 566.73,287.64 572.78,281.21 578.84,292.29 584.89,285.40 590.95,288.64 597.00,291.51" fill="none" stroke="#333" stroke-width="0.75"/>
<polyline points="605.90,298.81 611.98,308.48 618.06,302.60 624.15,301.59 630.23,305.79 636.31,312.22 642.39,297.49 648.47,302.09 654.55,304.60 660.64,298.31 666.72,307.70 672.80,309.71" fill="none" stroke="#222" stroke-width="0.75"/>
<rect x="529.25" y="301.95" width="2.30" height="2.30" fill="#ffff00"/>
<rect x="535.30" y="298.07" width="2.30" height="2.30" fill="#ffff00"/>
<rect x="541.36" y="294.42" width="2.30" height="2.30" fill="#ffff00"/>
<rect x="547.41" y="285.80" width="2.30" height="2.30" fill="#ffff00"/>
<rect x="553.47" y="282.52" width="2.30" height="2.30" fill="#ffff00"/>
<rect x="559.52" y="289.18" width="2.30" height="2.30" fill="#ffff00"/>
<rect x="565.58" y="286.49" width="2.30" height="2.30" fill="#ffff00"/>
<rect x="571.63" y="280.06" width="2.30" height="2.30" fill="#ffff00"/>
<rect x="577.69" y="291.14" width="2.30" height="2.30" fill="#ffff00"/>
<rect x="583.74" y="284.25" width="2.30" height="2.30" fill="#ffff00"/>
<rect x="589.80" y="287.49" width="2.30" height="2.30" fill="#ffff00"/>
<rect x="595.85" y="290.36" width="2.30" height="2.30" fill="#ffff00"/>
<rect x="604.75" y="297.66" width="2.30" height="2.30" fill="#ffff00"/>
<rect x="610.83" y="307.33" width="2.30" height="2.30" fill="#ffff00"/>
<rect x="616.91" y="301.45" width="2.30" height="2.30" fill="#ffff00"/>
<rect x="623.00" y="300.44" width="2.30" height="2.30" fill="#ffff00"/>
<rect x="629.08" y="304.64" width="2.30" height="2.30" fill="#ffff00"/>
<rect x="635.16" y="311.07" width="2.30" height="2.30" fill="#ffff00"/>
<rect x="641.24" y="296.34" width="2.30" height="2.30" fill="#ffff00"/>
<rect x="647.32" y="300.94" width="2.30" height="2.30" fill="#ffff00"/>
<rect x="653.40" y="303.45" width="2.30" height="2.30" fill="#ffff00"/>
<rect x="659.49" y="297.16" width="2.30" height="2.30" fill="#ffff00"/>
<rect x="665.57" y="306.55" width="2.30" height="2.30" fill="#ffff00"/>
<rect x="671.65" y="308.56" width="2.30" height="2.30" fill="#ffff00"/>
<circle cx="530.40" cy="310.53" r="1.15" fill="#f26b6b"/>
<circle cx="536.45" cy="307.29" r="1.15" fill="#f26b6b"/>
<circle cx="542.51" cy="298.17" r="1.15" fill="#f26b6b"/>
<circle cx="548.56" cy="305.92" r="1.15" fill="#f26b6b"/>
<circle cx="554.62" cy="297.72" r="1.15" fill="#f26b6b"/>
<circle cx="560.67" cy="286.45" r="1.15" fill="#f26b6b"/>
<circle cx="566.73" cy="287.36" r="1.15" fill="#f26b6b"/>
<circle cx="572.78" cy="283.17" r="1.15" fill="#f26b6b"/>
<circle cx="578.84" cy="283.17" r="1.15" fill="#f26b6b"/>
<circle cx="584.89" cy="291.01" r="1.15" fill="#f26b6b"/>
<circle cx="590.95" cy="289.83" r="1.15" fill="#f26b6b"/>
<circle cx="597.00" cy="289.05" r="1.15" fill="#f26b6b"/>
<circle cx="605.90" cy="302.09" r="1.15" fill="#f26b6b"/>
<circle cx="611.98" cy="301.59" r="1.15" fill="#f26b6b"/>
<circle cx="618.06" cy="303.01" r="1.15" fill="#f26b6b"/>
<circle cx="624.15" cy="297.99" r="1.15" fill="#f26b6b"/>
<circle cx="630.23" cy="299.59" r="1.15" fill="#f26b6b"/>
<circle cx="636.31" cy="291.29" r="1.15" fill="#f26b6b"/>
<circle cx="642.39" cy="285.40" r="1.15" fill="#f26b6b"/>
<circle cx="648.47" cy="299.59" r="1.15" fill="#f26b6b"/>
<circle cx="654.55" cy="293.29" r="1.15" fill="#f26b6b"/>
<circle cx="660.64" cy="293.29" r="1.15" fill="#f26b6b"/>
<circle cx="666.72" cy="301.59" r="1.15" fill="#f26b6b"/>
<circle cx="672.80" cy="309.71" r="1.15" fill="#f26b6b"/>
<line x1="530.40" y1="269.50" x2="534.80" y2="269.50" stroke="#333" stroke-width="0.6"/>
<circle cx="532.60" cy="269.50" r="1.10" fill="#f26b6b"/>
<text x="537.40" y="271.50" font-size="4.7" font-weight="normal" fill="#5a5a5a" text-anchor="start">FMS</text>
<line x1="530.40" y1="274.90" x2="534.80" y2="274.90" stroke="#333" stroke-width="0.6"/>
<rect x="531.50" y="273.80" width="2.20" height="2.20" fill="#ffff00"/>
<text x="537.40" y="276.90" font-size="4.7" font-weight="normal" fill="#5a5a5a" text-anchor="start">FSS</text>
<line x1="607.00" y1="273.40" x2="611.40" y2="273.40" stroke="#333" stroke-width="0.6"/>
<circle cx="609.20" cy="273.40" r="1.10" fill="#f26b6b"/>
<text x="614.00" y="275.40" font-size="4.7" font-weight="normal" fill="#5a5a5a" text-anchor="start">FMS</text>
<line x1="607.00" y1="278.70" x2="611.40" y2="278.70" stroke="#333" stroke-width="0.6"/>
<rect x="608.10" y="277.60" width="2.20" height="2.20" fill="#ffff00"/>
<text x="614.00" y="280.70" font-size="4.7" font-weight="normal" fill="#5a5a5a" text-anchor="start">FSS</text>
<line x1="548.60" y1="267.30" x2="548.60" y2="276.80" stroke="#555" stroke-width="1.2"/>
<circle cx="551.00" cy="272.05" r="0.9" fill="#111"/>
<line x1="626.40" y1="270.70" x2="626.40" y2="279.40" stroke="#555" stroke-width="1.2"/>
<circle cx="628.80" cy="275.05" r="0.9" fill="#111"/>
<circle cx="631.70" cy="275.05" r="0.9" fill="#111"/>
<text x="566.90" y="310.70" font-size="3.75" fill="#333" textLength="22.8" lengthAdjust="spacing">Hour X Group</text>
<text x="590.20" y="310.10" font-size="3.2" fill="#333">*</text>
<text x="636.00" y="284.40" font-size="3.5" font-weight="normal" fill="#444" text-anchor="start">#</text>
<text x="561.00" y="331.60" font-size="7.6" font-weight="bold" fill="#333" text-anchor="start" stroke="#333" stroke-width="0.25" textLength="72.4" lengthAdjust="spacing">Zeitgeber Time (hour)</text>
<rect x="226.40" y="34.80" width="16.40" height="46.20" fill="#b6b6b6"/>
<line x1="208.00" y1="35.10" x2="208.00" y2="81.40" stroke="#222" stroke-width="0.8"/>
<line x1="206.80" y1="81.00" x2="244.30" y2="81.00" stroke="#222" stroke-width="0.8"/>
<line x1="206.70" y1="81.00" x2="208.00" y2="81.00" stroke="#222" stroke-width="0.6"/>
<text x="206.30" y="82.20" font-size="3.3" font-weight="normal" fill="#333" text-anchor="end">0</text>
<line x1="206.70" y1="71.88" x2="208.00" y2="71.88" stroke="#222" stroke-width="0.6"/>
<text x="206.30" y="73.08" font-size="3.3" font-weight="normal" fill="#333" text-anchor="end">20</text>
<line x1="206.70" y1="62.76" x2="208.00" y2="62.76" stroke="#222" stroke-width="0.6"/>
<text x="206.30" y="63.96" font-size="3.3" font-weight="normal" fill="#333" text-anchor="end">40</text>
<line x1="206.70" y1="53.64" x2="208.00" y2="53.64" stroke="#222" stroke-width="0.6"/>
<text x="206.30" y="54.84" font-size="3.3" font-weight="normal" fill="#333" text-anchor="end">60</text>
<line x1="206.70" y1="44.52" x2="208.00" y2="44.52" stroke="#222" stroke-width="0.6"/>
<text x="206.30" y="45.72" font-size="3.3" font-weight="normal" fill="#333" text-anchor="end">80</text>
<line x1="206.70" y1="35.40" x2="208.00" y2="35.40" stroke="#222" stroke-width="0.6"/>
<text x="206.30" y="36.60" font-size="3.3" font-weight="normal" fill="#333" text-anchor="end">100</text>
<text x="198.00" y="58.20" font-size="3.85" font-weight="normal" fill="#333" text-anchor="middle" transform="rotate(-90 198.00 58.20)">% Time Asleep</text>
<line x1="217.00" y1="81.00" x2="217.00" y2="82.20" stroke="#222" stroke-width="0.6"/>
<line x1="235.30" y1="81.00" x2="235.30" y2="82.20" stroke="#222" stroke-width="0.6"/>
<text x="217.00" y="87.00" font-size="4.1" font-weight="normal" fill="#111" text-anchor="middle">Light</text>
<text x="235.30" y="87.00" font-size="4.1" font-weight="normal" fill="#111" text-anchor="middle">Dark</text>
<line x1="213.60" y1="60.71" x2="213.60" y2="64.13" stroke="#111" stroke-width="0.6"/>
<line x1="212.60" y1="60.71" x2="214.60" y2="60.71" stroke="#111" stroke-width="0.7"/>
<line x1="212.60" y1="64.13" x2="214.60" y2="64.13" stroke="#111" stroke-width="0.7"/>
<rect x="211.45" y="61.39" width="4.30" height="2.01" fill="#8b0a0a" stroke="#111" stroke-width="0.6"/>
<line x1="211.45" y1="62.40" x2="215.75" y2="62.40" stroke="#111" stroke-width="0.5"/>
<line x1="220.40" y1="54.10" x2="220.40" y2="59.11" stroke="#111" stroke-width="0.6"/>
<line x1="219.40" y1="54.10" x2="221.40" y2="54.10" stroke="#111" stroke-width="0.7"/>
<line x1="219.40" y1="59.11" x2="221.40" y2="59.11" stroke="#111" stroke-width="0.7"/>
<rect x="218.25" y="55.01" width="4.30" height="3.28" fill="#f7931e" stroke="#111" stroke-width="0.6"/>
<line x1="218.25" y1="56.65" x2="222.55" y2="56.65" stroke="#111" stroke-width="0.5"/>
<line x1="232.00" y1="54.32" x2="232.00" y2="68.41" stroke="#111" stroke-width="0.6"/>
<line x1="231.00" y1="54.32" x2="233.00" y2="54.32" stroke="#111" stroke-width="0.7"/>
<line x1="231.00" y1="68.41" x2="233.00" y2="68.41" stroke="#111" stroke-width="0.7"/>
<rect x="229.85" y="60.02" width="4.30" height="5.38" fill="#8b0a0a" stroke="#111" stroke-width="0.6"/>
<line x1="229.85" y1="62.71" x2="234.15" y2="62.71" stroke="#111" stroke-width="0.5"/>
<line x1="238.60" y1="62.30" x2="238.60" y2="76.21" stroke="#111" stroke-width="0.6"/>
<line x1="237.60" y1="62.30" x2="239.60" y2="62.30" stroke="#111" stroke-width="0.7"/>
<line x1="237.60" y1="76.21" x2="239.60" y2="76.21" stroke="#111" stroke-width="0.7"/>
<rect x="236.45" y="62.76" width="4.30" height="5.15" fill="#f7931e" stroke="#111" stroke-width="0.6"/>
<line x1="236.45" y1="65.34" x2="240.75" y2="65.34" stroke="#111" stroke-width="0.5"/>
<polyline points="213.00,57.80 213.00,48.70 220.00,48.70 220.00,51.30" fill="none" stroke="#333" stroke-width="0.6"/>
<circle cx="213.60" cy="46.00" r="0.95" fill="#111"/>
<circle cx="216.50" cy="46.00" r="0.95" fill="#111"/>
<circle cx="219.40" cy="46.00" r="0.95" fill="#111"/>
<polyline points="231.70,53.90 231.70,49.80 238.20,49.80 238.20,62.30" fill="none" stroke="#333" stroke-width="0.6"/>
<circle cx="233.50" cy="46.00" r="0.95" fill="#111"/>
<circle cx="236.40" cy="46.00" r="0.95" fill="#111"/>
<rect x="470.30" y="34.00" width="17.80" height="47.00" fill="#b6b6b6"/>
<line x1="451.60" y1="34.20" x2="451.60" y2="81.40" stroke="#222" stroke-width="0.8"/>
<line x1="450.40" y1="81.00" x2="489.60" y2="81.00" stroke="#222" stroke-width="0.8"/>
<line x1="450.30" y1="81.00" x2="451.60" y2="81.00" stroke="#222" stroke-width="0.6"/>
<text x="449.90" y="82.20" font-size="3.3" font-weight="normal" fill="#333" text-anchor="end">0</text>
<line x1="450.30" y1="71.70" x2="451.60" y2="71.70" stroke="#222" stroke-width="0.6"/>
<text x="449.90" y="72.90" font-size="3.3" font-weight="normal" fill="#333" text-anchor="end">20</text>
<line x1="450.30" y1="62.40" x2="451.60" y2="62.40" stroke="#222" stroke-width="0.6"/>
<text x="449.90" y="63.60" font-size="3.3" font-weight="normal" fill="#333" text-anchor="end">40</text>
<line x1="450.30" y1="53.10" x2="451.60" y2="53.10" stroke="#222" stroke-width="0.6"/>
<text x="449.90" y="54.30" font-size="3.3" font-weight="normal" fill="#333" text-anchor="end">60</text>
<line x1="450.30" y1="43.80" x2="451.60" y2="43.80" stroke="#222" stroke-width="0.6"/>
<text x="449.90" y="45.00" font-size="3.3" font-weight="normal" fill="#333" text-anchor="end">80</text>
<line x1="450.30" y1="34.50" x2="451.60" y2="34.50" stroke="#222" stroke-width="0.6"/>
<text x="449.90" y="35.70" font-size="3.3" font-weight="normal" fill="#333" text-anchor="end">100</text>
<text x="441.60" y="57.75" font-size="3.85" font-weight="normal" fill="#333" text-anchor="middle" transform="rotate(-90 441.60 57.75)">% Time Asleep</text>
<line x1="460.75" y1="81.00" x2="460.75" y2="82.20" stroke="#222" stroke-width="0.6"/>
<line x1="479.50" y1="81.00" x2="479.50" y2="82.20" stroke="#222" stroke-width="0.6"/>
<text x="460.75" y="87.00" font-size="4.1" font-weight="normal" fill="#111" text-anchor="middle">Light</text>
<text x="479.50" y="87.00" font-size="4.1" font-weight="normal" fill="#111" text-anchor="middle">Dark</text>
<line x1="457.10" y1="56.31" x2="457.10" y2="65.00" stroke="#111" stroke-width="0.6"/>
<line x1="456.10" y1="56.31" x2="458.10" y2="56.31" stroke="#111" stroke-width="0.7"/>
<line x1="456.10" y1="65.00" x2="458.10" y2="65.00" stroke="#111" stroke-width="0.7"/>
<rect x="454.95" y="59.89" width="4.30" height="3.72" fill="#8b0a0a" stroke="#111" stroke-width="0.6"/>
<line x1="454.95" y1="61.75" x2="459.25" y2="61.75" stroke="#111" stroke-width="0.5"/>
<line x1="464.40" y1="58.49" x2="464.40" y2="63.00" stroke="#111" stroke-width="0.6"/>
<line x1="463.40" y1="58.49" x2="465.40" y2="58.49" stroke="#111" stroke-width="0.7"/>
<line x1="463.40" y1="63.00" x2="465.40" y2="63.00" stroke="#111" stroke-width="0.7"/>
<rect x="462.25" y="59.89" width="4.30" height="2.51" fill="#f46b6b" stroke="#111" stroke-width="0.6"/>
<line x1="462.25" y1="61.14" x2="466.55" y2="61.14" stroke="#111" stroke-width="0.5"/>
<line x1="475.70" y1="53.80" x2="475.70" y2="61.98" stroke="#111" stroke-width="0.6"/>
<line x1="474.70" y1="53.80" x2="476.70" y2="53.80" stroke="#111" stroke-width="0.7"/>
<line x1="474.70" y1="61.98" x2="476.70" y2="61.98" stroke="#111" stroke-width="0.7"/>
<rect x="473.55" y="56.31" width="4.30" height="4.98" fill="#8b0a0a" stroke="#111" stroke-width="0.6"/>
<line x1="473.55" y1="58.80" x2="477.85" y2="58.80" stroke="#111" stroke-width="0.5"/>
<line x1="483.30" y1="57.75" x2="483.30" y2="72.58" stroke="#111" stroke-width="0.6"/>
<line x1="482.30" y1="57.75" x2="484.30" y2="57.75" stroke="#111" stroke-width="0.7"/>
<line x1="482.30" y1="72.58" x2="484.30" y2="72.58" stroke="#111" stroke-width="0.7"/>
<rect x="481.15" y="58.82" width="4.30" height="12.09" fill="#f46b6b" stroke="#111" stroke-width="0.6"/>
<line x1="481.15" y1="64.86" x2="485.45" y2="64.86" stroke="#111" stroke-width="0.5"/>
<polyline points="475.70,51.10 475.70,48.40 483.30,48.40 483.30,54.50" fill="none" stroke="#333" stroke-width="0.6"/>
<circle cx="478.05" cy="45.60" r="0.95" fill="#111"/>
<circle cx="480.95" cy="45.60" r="0.95" fill="#111"/>
<rect x="721.20" y="34.60" width="16.70" height="46.40" fill="#b6b6b6"/>
<line x1="703.80" y1="34.70" x2="703.80" y2="81.40" stroke="#222" stroke-width="0.8"/>
<line x1="702.60" y1="81.00" x2="739.40" y2="81.00" stroke="#222" stroke-width="0.8"/>
<line x1="702.50" y1="81.00" x2="703.80" y2="81.00" stroke="#222" stroke-width="0.6"/>
<text x="702.10" y="82.20" font-size="3.3" font-weight="normal" fill="#333" text-anchor="end">0</text>
<line x1="702.50" y1="71.80" x2="703.80" y2="71.80" stroke="#222" stroke-width="0.6"/>
<text x="702.10" y="73.00" font-size="3.3" font-weight="normal" fill="#333" text-anchor="end">20</text>
<line x1="702.50" y1="62.60" x2="703.80" y2="62.60" stroke="#222" stroke-width="0.6"/>
<text x="702.10" y="63.80" font-size="3.3" font-weight="normal" fill="#333" text-anchor="end">40</text>
<line x1="702.50" y1="53.40" x2="703.80" y2="53.40" stroke="#222" stroke-width="0.6"/>
<text x="702.10" y="54.60" font-size="3.3" font-weight="normal" fill="#333" text-anchor="end">60</text>
<line x1="702.50" y1="44.20" x2="703.80" y2="44.20" stroke="#222" stroke-width="0.6"/>
<text x="702.10" y="45.40" font-size="3.3" font-weight="normal" fill="#333" text-anchor="end">80</text>
<line x1="702.50" y1="35.00" x2="703.80" y2="35.00" stroke="#222" stroke-width="0.6"/>
<text x="702.10" y="36.20" font-size="3.3" font-weight="normal" fill="#333" text-anchor="end">100</text>
<text x="693.80" y="58.00" font-size="3.85" font-weight="normal" fill="#333" text-anchor="middle" transform="rotate(-90 693.80 58.00)">% Time Asleep</text>
<line x1="711.85" y1="81.00" x2="711.85" y2="82.20" stroke="#222" stroke-width="0.6"/>
<line x1="730.20" y1="81.00" x2="730.20" y2="82.20" stroke="#222" stroke-width="0.6"/>
<text x="711.85" y="87.00" font-size="4.1" font-weight="normal" fill="#111" text-anchor="middle">Light</text>
<text x="730.20" y="87.00" font-size="4.1" font-weight="normal" fill="#111" text-anchor="middle">Dark</text>
<line x1="708.50" y1="54.92" x2="708.50" y2="62.69" stroke="#111" stroke-width="0.6"/>
<line x1="707.50" y1="54.92" x2="709.50" y2="54.92" stroke="#111" stroke-width="0.7"/>
<line x1="707.50" y1="62.69" x2="709.50" y2="62.69" stroke="#111" stroke-width="0.7"/>
<rect x="706.35" y="57.72" width="4.30" height="4.97" fill="#f46b6b" stroke="#111" stroke-width="0.6"/>
<line x1="706.35" y1="60.21" x2="710.65" y2="60.21" stroke="#111" stroke-width="0.5"/>
<line x1="715.20" y1="54.09" x2="715.20" y2="61.59" stroke="#111" stroke-width="0.6"/>
<line x1="714.20" y1="54.09" x2="716.20" y2="54.09" stroke="#111" stroke-width="0.7"/>
<line x1="714.20" y1="61.59" x2="716.20" y2="61.59" stroke="#111" stroke-width="0.7"/>
<rect x="713.05" y="54.41" width="4.30" height="4.37" fill="#ffff33" stroke="#111" stroke-width="0.6"/>
<line x1="713.05" y1="56.60" x2="717.35" y2="56.60" stroke="#111" stroke-width="0.5"/>
<line x1="726.80" y1="59.89" x2="726.80" y2="73.50" stroke="#111" stroke-width="0.6"/>
<line x1="725.80" y1="59.89" x2="727.80" y2="59.89" stroke="#111" stroke-width="0.7"/>
<line x1="725.80" y1="73.50" x2="727.80" y2="73.50" stroke="#111" stroke-width="0.7"/>
<rect x="724.65" y="60.81" width="4.30" height="6.90" fill="#f46b6b" stroke="#111" stroke-width="0.6"/>
<line x1="724.65" y1="64.26" x2="728.95" y2="64.26" stroke="#111" stroke-width="0.5"/>
<line x1="733.60" y1="63.29" x2="733.60" y2="70.51" stroke="#111" stroke-width="0.6"/>
<line x1="732.60" y1="63.29" x2="734.60" y2="63.29" stroke="#111" stroke-width="0.7"/>
<line x1="732.60" y1="70.51" x2="734.60" y2="70.51" stroke="#111" stroke-width="0.7"/>
<rect x="731.45" y="67.20" width="4.30" height="3.31" fill="#ffff33" stroke="#111" stroke-width="0.6"/>
<line x1="731.45" y1="68.86" x2="735.75" y2="68.86" stroke="#111" stroke-width="0.5"/>
<rect x="226.20" y="112.00" width="16.60" height="46.00" fill="#b6b6b6"/>
<line x1="208.30" y1="111.70" x2="208.30" y2="158.40" stroke="#222" stroke-width="0.8"/>
<line x1="207.10" y1="158.00" x2="244.30" y2="158.00" stroke="#222" stroke-width="0.8"/>
<line x1="207.00" y1="158.00" x2="208.30" y2="158.00" stroke="#222" stroke-width="0.6"/>
<text x="206.60" y="159.20" font-size="3.3" font-weight="normal" fill="#333" text-anchor="end">0</text>
<line x1="207.00" y1="148.80" x2="208.30" y2="148.80" stroke="#222" stroke-width="0.6"/>
<text x="206.60" y="150.00" font-size="3.3" font-weight="normal" fill="#333" text-anchor="end">20</text>
<line x1="207.00" y1="139.60" x2="208.30" y2="139.60" stroke="#222" stroke-width="0.6"/>
<text x="206.60" y="140.80" font-size="3.3" font-weight="normal" fill="#333" text-anchor="end">40</text>
<line x1="207.00" y1="130.40" x2="208.30" y2="130.40" stroke="#222" stroke-width="0.6"/>
<text x="206.60" y="131.60" font-size="3.3" font-weight="normal" fill="#333" text-anchor="end">60</text>
<line x1="207.00" y1="121.20" x2="208.30" y2="121.20" stroke="#222" stroke-width="0.6"/>
<text x="206.60" y="122.40" font-size="3.3" font-weight="normal" fill="#333" text-anchor="end">80</text>
<line x1="207.00" y1="112.00" x2="208.30" y2="112.00" stroke="#222" stroke-width="0.6"/>
<text x="206.60" y="113.20" font-size="3.3" font-weight="normal" fill="#333" text-anchor="end">100</text>
<text x="198.30" y="135.00" font-size="3.85" font-weight="normal" fill="#333" text-anchor="middle" transform="rotate(-90 198.30 135.00)">% Time Asleep</text>
<line x1="216.70" y1="158.00" x2="216.70" y2="159.20" stroke="#222" stroke-width="0.6"/>
<line x1="234.90" y1="158.00" x2="234.90" y2="159.20" stroke="#222" stroke-width="0.6"/>
<text x="216.70" y="164.00" font-size="4.1" font-weight="normal" fill="#111" text-anchor="middle">Light</text>
<text x="234.90" y="164.00" font-size="4.1" font-weight="normal" fill="#111" text-anchor="middle">Dark</text>
<line x1="213.20" y1="134.54" x2="213.20" y2="141.99" stroke="#111" stroke-width="0.6"/>
<line x1="212.20" y1="134.54" x2="214.20" y2="134.54" stroke="#111" stroke-width="0.7"/>
<line x1="212.20" y1="141.99" x2="214.20" y2="141.99" stroke="#111" stroke-width="0.7"/>
<rect x="211.05" y="137.81" width="4.30" height="2.48" fill="#8b0a0a" stroke="#111" stroke-width="0.6"/>
<line x1="211.05" y1="139.05" x2="215.35" y2="139.05" stroke="#111" stroke-width="0.5"/>
<line x1="220.20" y1="131.60" x2="220.20" y2="138.68" stroke="#111" stroke-width="0.6"/>
<line x1="219.20" y1="131.60" x2="221.20" y2="131.60" stroke="#111" stroke-width="0.7"/>
<line x1="219.20" y1="138.68" x2="221.20" y2="138.68" stroke="#111" stroke-width="0.7"/>
<rect x="218.05" y="133.02" width="4.30" height="3.36" fill="#f7931e" stroke="#111" stroke-width="0.6"/>
<line x1="218.05" y1="134.70" x2="222.35" y2="134.70" stroke="#111" stroke-width="0.5"/>
<line x1="231.50" y1="132.47" x2="231.50" y2="146.41" stroke="#111" stroke-width="0.6"/>
<line x1="230.50" y1="132.47" x2="232.50" y2="132.47" stroke="#111" stroke-width="0.7"/>
<line x1="230.50" y1="146.41" x2="232.50" y2="146.41" stroke="#111" stroke-width="0.7"/>
<rect x="229.35" y="135.78" width="4.30" height="5.66" fill="#8b0a0a" stroke="#111" stroke-width="0.6"/>
<line x1="229.35" y1="138.61" x2="233.65" y2="138.61" stroke="#111" stroke-width="0.5"/>
<line x1="238.30" y1="137.21" x2="238.30" y2="154.18" stroke="#111" stroke-width="0.6"/>
<line x1="237.30" y1="137.21" x2="239.30" y2="137.21" stroke="#111" stroke-width="0.7"/>
<line x1="237.30" y1="154.18" x2="239.30" y2="154.18" stroke="#111" stroke-width="0.7"/>
<rect x="236.15" y="140.80" width="4.30" height="4.78" fill="#f7931e" stroke="#111" stroke-width="0.6"/>
<line x1="236.15" y1="143.19" x2="240.45" y2="143.19" stroke="#111" stroke-width="0.5"/>
<polyline points="212.80,130.50 212.80,125.80 219.70,125.80 219.70,128.60" fill="none" stroke="#333" stroke-width="0.6"/>
<circle cx="216.25" cy="123.40" r="0.95" fill="#111"/>
<polyline points="231.40,129.70 231.40,125.80 238.20,125.80 238.20,136.40" fill="none" stroke="#333" stroke-width="0.6"/>
<circle cx="234.80" cy="123.40" r="0.95" fill="#111"/>
<rect x="469.20" y="111.60" width="17.00" height="46.80" fill="#b6b6b6"/>
<line x1="451.60" y1="112.30" x2="451.60" y2="158.80" stroke="#222" stroke-width="0.8"/>
<line x1="450.40" y1="158.40" x2="487.70" y2="158.40" stroke="#222" stroke-width="0.8"/>
<line x1="450.30" y1="158.40" x2="451.60" y2="158.40" stroke="#222" stroke-width="0.6"/>
<text x="449.90" y="159.60" font-size="3.3" font-weight="normal" fill="#333" text-anchor="end">0</text>
<line x1="450.30" y1="149.24" x2="451.60" y2="149.24" stroke="#222" stroke-width="0.6"/>
<text x="449.90" y="150.44" font-size="3.3" font-weight="normal" fill="#333" text-anchor="end">20</text>
<line x1="450.30" y1="140.08" x2="451.60" y2="140.08" stroke="#222" stroke-width="0.6"/>
<text x="449.90" y="141.28" font-size="3.3" font-weight="normal" fill="#333" text-anchor="end">40</text>
<line x1="450.30" y1="130.92" x2="451.60" y2="130.92" stroke="#222" stroke-width="0.6"/>
<text x="449.90" y="132.12" font-size="3.3" font-weight="normal" fill="#333" text-anchor="end">60</text>
<line x1="450.30" y1="121.76" x2="451.60" y2="121.76" stroke="#222" stroke-width="0.6"/>
<text x="449.90" y="122.96" font-size="3.3" font-weight="normal" fill="#333" text-anchor="end">80</text>
<line x1="450.30" y1="112.60" x2="451.60" y2="112.60" stroke="#222" stroke-width="0.6"/>
<text x="449.90" y="113.80" font-size="3.3" font-weight="normal" fill="#333" text-anchor="end">100</text>
<text x="441.60" y="135.50" font-size="3.85" font-weight="normal" fill="#333" text-anchor="middle" transform="rotate(-90 441.60 135.50)">% Time Asleep</text>
<line x1="460.05" y1="158.40" x2="460.05" y2="159.60" stroke="#222" stroke-width="0.6"/>
<line x1="478.40" y1="158.40" x2="478.40" y2="159.60" stroke="#222" stroke-width="0.6"/>
<text x="460.05" y="164.40" font-size="4.1" font-weight="normal" fill="#111" text-anchor="middle">Light</text>
<text x="478.40" y="164.40" font-size="4.1" font-weight="normal" fill="#111" text-anchor="middle">Dark</text>
<line x1="456.70" y1="136.87" x2="456.70" y2="141.59" stroke="#111" stroke-width="0.6"/>
<line x1="455.70" y1="136.87" x2="457.70" y2="136.87" stroke="#111" stroke-width="0.7"/>
<line x1="455.70" y1="141.59" x2="457.70" y2="141.59" stroke="#111" stroke-width="0.7"/>
<rect x="454.55" y="137.79" width="4.30" height="1.92" fill="#8b0a0a" stroke="#111" stroke-width="0.6"/>
<line x1="454.55" y1="138.75" x2="458.85" y2="138.75" stroke="#111" stroke-width="0.5"/>
<line x1="463.40" y1="135.32" x2="463.40" y2="140.31" stroke="#111" stroke-width="0.6"/>
<line x1="462.40" y1="135.32" x2="464.40" y2="135.32" stroke="#111" stroke-width="0.7"/>
<line x1="462.40" y1="140.31" x2="464.40" y2="140.31" stroke="#111" stroke-width="0.7"/>
<rect x="461.25" y="135.82" width="4.30" height="2.79" fill="#f46b6b" stroke="#111" stroke-width="0.6"/>
<line x1="461.25" y1="137.22" x2="465.55" y2="137.22" stroke="#111" stroke-width="0.5"/>
<line x1="475.00" y1="134.22" x2="475.00" y2="139.71" stroke="#111" stroke-width="0.6"/>
<line x1="474.00" y1="134.22" x2="476.00" y2="134.22" stroke="#111" stroke-width="0.7"/>
<line x1="474.00" y1="139.71" x2="476.00" y2="139.71" stroke="#111" stroke-width="0.7"/>
<rect x="472.85" y="134.72" width="4.30" height="4.49" fill="#8b0a0a" stroke="#111" stroke-width="0.6"/>
<line x1="472.85" y1="136.97" x2="477.15" y2="136.97" stroke="#111" stroke-width="0.5"/>
<line x1="481.80" y1="136.42" x2="481.80" y2="141.59" stroke="#111" stroke-width="0.6"/>
<line x1="480.80" y1="136.42" x2="482.80" y2="136.42" stroke="#111" stroke-width="0.7"/>
<line x1="480.80" y1="141.59" x2="482.80" y2="141.59" stroke="#111" stroke-width="0.7"/>
<rect x="479.65" y="136.87" width="4.30" height="3.94" fill="#f46b6b" stroke="#111" stroke-width="0.6"/>
<line x1="479.65" y1="138.84" x2="483.95" y2="138.84" stroke="#111" stroke-width="0.5"/>
<polyline points="474.70,134.70 474.70,128.60 482.30,128.60 482.30,133.60" fill="none" stroke="#333" stroke-width="0.6"/>
<text x="478.60" y="126.00" font-size="4" font-weight="normal" fill="#333" text-anchor="middle">ns</text>
<rect x="722.10" y="112.00" width="16.30" height="46.40" fill="#b6b6b6"/>
<line x1="704.20" y1="112.30" x2="704.20" y2="158.80" stroke="#222" stroke-width="0.8"/>
<line x1="703.00" y1="158.40" x2="739.90" y2="158.40" stroke="#222" stroke-width="0.8"/>
<line x1="702.90" y1="158.40" x2="704.20" y2="158.40" stroke="#222" stroke-width="0.6"/>
<text x="702.50" y="159.60" font-size="3.3" font-weight="normal" fill="#333" text-anchor="end">0</text>
<line x1="702.90" y1="149.24" x2="704.20" y2="149.24" stroke="#222" stroke-width="0.6"/>
<text x="702.50" y="150.44" font-size="3.3" font-weight="normal" fill="#333" text-anchor="end">20</text>
<line x1="702.90" y1="140.08" x2="704.20" y2="140.08" stroke="#222" stroke-width="0.6"/>
<text x="702.50" y="141.28" font-size="3.3" font-weight="normal" fill="#333" text-anchor="end">40</text>
<line x1="702.90" y1="130.92" x2="704.20" y2="130.92" stroke="#222" stroke-width="0.6"/>
<text x="702.50" y="132.12" font-size="3.3" font-weight="normal" fill="#333" text-anchor="end">60</text>
<line x1="702.90" y1="121.76" x2="704.20" y2="121.76" stroke="#222" stroke-width="0.6"/>
<text x="702.50" y="122.96" font-size="3.3" font-weight="normal" fill="#333" text-anchor="end">80</text>
<line x1="702.90" y1="112.60" x2="704.20" y2="112.60" stroke="#222" stroke-width="0.6"/>
<text x="702.50" y="113.80" font-size="3.3" font-weight="normal" fill="#333" text-anchor="end">100</text>
<text x="694.20" y="135.50" font-size="3.85" font-weight="normal" fill="#333" text-anchor="middle" transform="rotate(-90 694.20 135.50)">% Time Asleep</text>
<line x1="712.05" y1="158.40" x2="712.05" y2="159.60" stroke="#222" stroke-width="0.6"/>
<line x1="731.05" y1="158.40" x2="731.05" y2="159.60" stroke="#222" stroke-width="0.6"/>
<text x="712.05" y="164.40" font-size="4.1" font-weight="normal" fill="#111" text-anchor="middle">Light</text>
<text x="731.05" y="164.40" font-size="4.1" font-weight="normal" fill="#111" text-anchor="middle">Dark</text>
<line x1="708.50" y1="130.28" x2="708.50" y2="138.61" stroke="#111" stroke-width="0.6"/>
<line x1="707.50" y1="130.28" x2="709.50" y2="130.28" stroke="#111" stroke-width="0.7"/>
<line x1="707.50" y1="138.61" x2="709.50" y2="138.61" stroke="#111" stroke-width="0.7"/>
<rect x="706.35" y="132.29" width="4.30" height="5.50" fill="#f46b6b" stroke="#111" stroke-width="0.6"/>
<line x1="706.35" y1="135.04" x2="710.65" y2="135.04" stroke="#111" stroke-width="0.5"/>
<line x1="715.60" y1="128.31" x2="715.60" y2="140.81" stroke="#111" stroke-width="0.6"/>
<line x1="714.60" y1="128.31" x2="716.60" y2="128.31" stroke="#111" stroke-width="0.7"/>
<line x1="714.60" y1="140.81" x2="716.60" y2="140.81" stroke="#111" stroke-width="0.7"/>
<rect x="713.45" y="130.28" width="4.30" height="8.34" fill="#ffff33" stroke="#111" stroke-width="0.6"/>
<line x1="713.45" y1="134.45" x2="717.75" y2="134.45" stroke="#111" stroke-width="0.5"/>
<line x1="727.70" y1="139.21" x2="727.70" y2="154.78" stroke="#111" stroke-width="0.6"/>
<line x1="726.70" y1="139.21" x2="728.70" y2="139.21" stroke="#111" stroke-width="0.7"/>
<line x1="726.70" y1="154.78" x2="728.70" y2="154.78" stroke="#111" stroke-width="0.7"/>
<rect x="725.55" y="141.41" width="4.30" height="12.00" fill="#f46b6b" stroke="#111" stroke-width="0.6"/>
<line x1="725.55" y1="147.41" x2="729.85" y2="147.41" stroke="#111" stroke-width="0.5"/>
<line x1="734.40" y1="136.42" x2="734.40" y2="151.21" stroke="#111" stroke-width="0.6"/>
<line x1="733.40" y1="136.42" x2="735.40" y2="136.42" stroke="#111" stroke-width="0.7"/>
<line x1="733.40" y1="151.21" x2="735.40" y2="151.21" stroke="#111" stroke-width="0.7"/>
<rect x="732.25" y="141.18" width="4.30" height="7.83" fill="#ffff33" stroke="#111" stroke-width="0.6"/>
<line x1="732.25" y1="145.10" x2="736.55" y2="145.10" stroke="#111" stroke-width="0.5"/>
<rect x="226.20" y="191.00" width="16.90" height="46.40" fill="#b6b6b6"/>
<line x1="207.70" y1="191.30" x2="207.70" y2="237.80" stroke="#222" stroke-width="0.8"/>
<line x1="206.50" y1="237.40" x2="244.60" y2="237.40" stroke="#222" stroke-width="0.8"/>
<line x1="206.40" y1="237.40" x2="207.70" y2="237.40" stroke="#222" stroke-width="0.6"/>
<text x="206.00" y="238.60" font-size="3.3" font-weight="normal" fill="#333" text-anchor="end">0</text>
<line x1="206.40" y1="228.24" x2="207.70" y2="228.24" stroke="#222" stroke-width="0.6"/>
<text x="206.00" y="229.44" font-size="3.3" font-weight="normal" fill="#333" text-anchor="end">20</text>
<line x1="206.40" y1="219.08" x2="207.70" y2="219.08" stroke="#222" stroke-width="0.6"/>
<text x="206.00" y="220.28" font-size="3.3" font-weight="normal" fill="#333" text-anchor="end">40</text>
<line x1="206.40" y1="209.92" x2="207.70" y2="209.92" stroke="#222" stroke-width="0.6"/>
<text x="206.00" y="211.12" font-size="3.3" font-weight="normal" fill="#333" text-anchor="end">60</text>
<line x1="206.40" y1="200.76" x2="207.70" y2="200.76" stroke="#222" stroke-width="0.6"/>
<text x="206.00" y="201.96" font-size="3.3" font-weight="normal" fill="#333" text-anchor="end">80</text>
<line x1="206.40" y1="191.60" x2="207.70" y2="191.60" stroke="#222" stroke-width="0.6"/>
<text x="206.00" y="192.80" font-size="3.3" font-weight="normal" fill="#333" text-anchor="end">100</text>
<text x="197.70" y="214.50" font-size="3.85" font-weight="normal" fill="#333" text-anchor="middle" transform="rotate(-90 197.70 214.50)">% Time Asleep</text>
<line x1="216.70" y1="237.40" x2="216.70" y2="238.60" stroke="#222" stroke-width="0.6"/>
<line x1="235.05" y1="237.40" x2="235.05" y2="238.60" stroke="#222" stroke-width="0.6"/>
<text x="216.70" y="243.40" font-size="4.1" font-weight="normal" fill="#111" text-anchor="middle">Light</text>
<text x="235.05" y="243.40" font-size="4.1" font-weight="normal" fill="#111" text-anchor="middle">Dark</text>
<line x1="213.20" y1="210.10" x2="213.20" y2="216.79" stroke="#111" stroke-width="0.6"/>
<line x1="212.20" y1="210.10" x2="214.20" y2="210.10" stroke="#111" stroke-width="0.7"/>
<line x1="212.20" y1="216.79" x2="214.20" y2="216.79" stroke="#111" stroke-width="0.7"/>
<rect x="211.05" y="211.98" width="4.30" height="3.89" fill="#8b0a0a" stroke="#111" stroke-width="0.6"/>
<line x1="211.05" y1="213.93" x2="215.35" y2="213.93" stroke="#111" stroke-width="0.5"/>
<line x1="220.20" y1="208.09" x2="220.20" y2="214.82" stroke="#111" stroke-width="0.6"/>
<line x1="219.20" y1="208.09" x2="221.20" y2="208.09" stroke="#111" stroke-width="0.7"/>
<line x1="219.20" y1="214.82" x2="221.20" y2="214.82" stroke="#111" stroke-width="0.7"/>
<rect x="218.05" y="209.78" width="4.30" height="3.94" fill="#f7931e" stroke="#111" stroke-width="0.6"/>
<line x1="218.05" y1="211.75" x2="222.35" y2="211.75" stroke="#111" stroke-width="0.5"/>
<line x1="231.60" y1="216.52" x2="231.60" y2="229.52" stroke="#111" stroke-width="0.6"/>
<line x1="230.60" y1="216.52" x2="232.60" y2="216.52" stroke="#111" stroke-width="0.7"/>
<line x1="230.60" y1="229.52" x2="232.60" y2="229.52" stroke="#111" stroke-width="0.7"/>
<rect x="229.45" y="217.11" width="4.30" height="6.09" fill="#8b0a0a" stroke="#111" stroke-width="0.6"/>
<line x1="229.45" y1="220.16" x2="233.75" y2="220.16" stroke="#111" stroke-width="0.5"/>
<line x1="238.50" y1="220.45" x2="238.50" y2="232.68" stroke="#111" stroke-width="0.6"/>
<line x1="237.50" y1="220.45" x2="239.50" y2="220.45" stroke="#111" stroke-width="0.7"/>
<line x1="237.50" y1="232.68" x2="239.50" y2="232.68" stroke="#111" stroke-width="0.7"/>
<rect x="236.35" y="222.79" width="4.30" height="7.10" fill="#f7931e" stroke="#111" stroke-width="0.6"/>
<line x1="236.35" y1="226.34" x2="240.65" y2="226.34" stroke="#111" stroke-width="0.5"/>
<polyline points="231.40,216.20 231.40,202.30 238.20,202.30 238.20,217.60" fill="none" stroke="#333" stroke-width="0.6"/>
<circle cx="234.80" cy="199.90" r="0.95" fill="#111"/>
<rect x="470.10" y="191.60" width="16.70" height="45.80" fill="#b6b6b6"/>
<line x1="452.80" y1="191.30" x2="452.80" y2="237.80" stroke="#222" stroke-width="0.8"/>
<line x1="451.60" y1="237.40" x2="488.30" y2="237.40" stroke="#222" stroke-width="0.8"/>
<line x1="451.50" y1="237.40" x2="452.80" y2="237.40" stroke="#222" stroke-width="0.6"/>
<text x="451.10" y="238.60" font-size="3.3" font-weight="normal" fill="#333" text-anchor="end">0</text>
<line x1="451.50" y1="228.24" x2="452.80" y2="228.24" stroke="#222" stroke-width="0.6"/>
<text x="451.10" y="229.44" font-size="3.3" font-weight="normal" fill="#333" text-anchor="end">20</text>
<line x1="451.50" y1="219.08" x2="452.80" y2="219.08" stroke="#222" stroke-width="0.6"/>
<text x="451.10" y="220.28" font-size="3.3" font-weight="normal" fill="#333" text-anchor="end">40</text>
<line x1="451.50" y1="209.92" x2="452.80" y2="209.92" stroke="#222" stroke-width="0.6"/>
<text x="451.10" y="211.12" font-size="3.3" font-weight="normal" fill="#333" text-anchor="end">60</text>
<line x1="451.50" y1="200.76" x2="452.80" y2="200.76" stroke="#222" stroke-width="0.6"/>
<text x="451.10" y="201.96" font-size="3.3" font-weight="normal" fill="#333" text-anchor="end">80</text>
<line x1="451.50" y1="191.60" x2="452.80" y2="191.60" stroke="#222" stroke-width="0.6"/>
<text x="451.10" y="192.80" font-size="3.3" font-weight="normal" fill="#333" text-anchor="end">100</text>
<text x="442.80" y="214.50" font-size="3.85" font-weight="normal" fill="#333" text-anchor="middle" transform="rotate(-90 442.80 214.50)">% Time Asleep</text>
<line x1="460.20" y1="237.40" x2="460.20" y2="238.60" stroke="#222" stroke-width="0.6"/>
<line x1="478.55" y1="237.40" x2="478.55" y2="238.60" stroke="#222" stroke-width="0.6"/>
<text x="460.20" y="243.40" font-size="4.1" font-weight="normal" fill="#111" text-anchor="middle">Light</text>
<text x="478.55" y="243.40" font-size="4.1" font-weight="normal" fill="#111" text-anchor="middle">Dark</text>
<line x1="456.80" y1="206.12" x2="456.80" y2="215.87" stroke="#111" stroke-width="0.6"/>
<line x1="455.80" y1="206.12" x2="457.80" y2="206.12" stroke="#111" stroke-width="0.7"/>
<line x1="455.80" y1="215.87" x2="457.80" y2="215.87" stroke="#111" stroke-width="0.7"/>
<rect x="454.65" y="210.88" width="4.30" height="4.12" fill="#8b0a0a" stroke="#111" stroke-width="0.6"/>
<line x1="454.65" y1="212.94" x2="458.95" y2="212.94" stroke="#111" stroke-width="0.5"/>
<line x1="463.60" y1="210.10" x2="463.60" y2="217.89" stroke="#111" stroke-width="0.6"/>
<line x1="462.60" y1="210.10" x2="464.60" y2="210.10" stroke="#111" stroke-width="0.7"/>
<line x1="462.60" y1="217.89" x2="464.60" y2="217.89" stroke="#111" stroke-width="0.7"/>
<rect x="461.45" y="210.38" width="4.30" height="4.44" fill="#f46b6b" stroke="#111" stroke-width="0.6"/>
<line x1="461.45" y1="212.60" x2="465.75" y2="212.60" stroke="#111" stroke-width="0.5"/>
<line x1="475.20" y1="217.29" x2="475.20" y2="233.19" stroke="#111" stroke-width="0.6"/>
<line x1="474.20" y1="217.29" x2="476.20" y2="217.29" stroke="#111" stroke-width="0.7"/>
<line x1="474.20" y1="233.19" x2="476.20" y2="233.19" stroke="#111" stroke-width="0.7"/>
<rect x="473.05" y="219.31" width="4.30" height="9.48" fill="#8b0a0a" stroke="#111" stroke-width="0.6"/>
<line x1="473.05" y1="224.05" x2="477.35" y2="224.05" stroke="#111" stroke-width="0.5"/>
<line x1="481.90" y1="218.16" x2="481.90" y2="228.42" stroke="#111" stroke-width="0.6"/>
<line x1="480.90" y1="218.16" x2="482.90" y2="218.16" stroke="#111" stroke-width="0.7"/>
<line x1="480.90" y1="228.42" x2="482.90" y2="228.42" stroke="#111" stroke-width="0.7"/>
<rect x="479.75" y="222.79" width="4.30" height="2.61" fill="#f46b6b" stroke="#111" stroke-width="0.6"/>
<line x1="479.75" y1="224.10" x2="484.05" y2="224.10" stroke="#111" stroke-width="0.5"/>
<rect x="721.40" y="190.60" width="16.50" height="46.80" fill="#b6b6b6"/>
<line x1="703.60" y1="191.30" x2="703.60" y2="237.80" stroke="#222" stroke-width="0.8"/>
<line x1="702.40" y1="237.40" x2="739.40" y2="237.40" stroke="#222" stroke-width="0.8"/>
<line x1="702.30" y1="237.40" x2="703.60" y2="237.40" stroke="#222" stroke-width="0.6"/>
<text x="701.90" y="238.60" font-size="3.3" font-weight="normal" fill="#333" text-anchor="end">0</text>
<line x1="702.30" y1="228.24" x2="703.60" y2="228.24" stroke="#222" stroke-width="0.6"/>
<text x="701.90" y="229.44" font-size="3.3" font-weight="normal" fill="#333" text-anchor="end">20</text>
<line x1="702.30" y1="219.08" x2="703.60" y2="219.08" stroke="#222" stroke-width="0.6"/>
<text x="701.90" y="220.28" font-size="3.3" font-weight="normal" fill="#333" text-anchor="end">40</text>
<line x1="702.30" y1="209.92" x2="703.60" y2="209.92" stroke="#222" stroke-width="0.6"/>
<text x="701.90" y="211.12" font-size="3.3" font-weight="normal" fill="#333" text-anchor="end">60</text>
<line x1="702.30" y1="200.76" x2="703.60" y2="200.76" stroke="#222" stroke-width="0.6"/>
<text x="701.90" y="201.96" font-size="3.3" font-weight="normal" fill="#333" text-anchor="end">80</text>
<line x1="702.30" y1="191.60" x2="703.60" y2="191.60" stroke="#222" stroke-width="0.6"/>
<text x="701.90" y="192.80" font-size="3.3" font-weight="normal" fill="#333" text-anchor="end">100</text>
<text x="693.60" y="214.50" font-size="3.85" font-weight="normal" fill="#333" text-anchor="middle" transform="rotate(-90 693.60 214.50)">% Time Asleep</text>
<line x1="711.90" y1="237.40" x2="711.90" y2="238.60" stroke="#222" stroke-width="0.6"/>
<line x1="730.30" y1="237.40" x2="730.30" y2="238.60" stroke="#222" stroke-width="0.6"/>
<text x="711.90" y="243.40" font-size="4.1" font-weight="normal" fill="#111" text-anchor="middle">Light</text>
<text x="730.30" y="243.40" font-size="4.1" font-weight="normal" fill="#111" text-anchor="middle">Dark</text>
<line x1="708.50" y1="211.98" x2="708.50" y2="218.39" stroke="#111" stroke-width="0.6"/>
<line x1="707.50" y1="211.98" x2="709.50" y2="211.98" stroke="#111" stroke-width="0.7"/>
<line x1="707.50" y1="218.39" x2="709.50" y2="218.39" stroke="#111" stroke-width="0.7"/>
<rect x="706.35" y="212.39" width="4.30" height="5.77" fill="#f46b6b" stroke="#111" stroke-width="0.6"/>
<line x1="706.35" y1="215.28" x2="710.65" y2="215.28" stroke="#111" stroke-width="0.5"/>
<line x1="715.30" y1="207.31" x2="715.30" y2="213.72" stroke="#111" stroke-width="0.6"/>
<line x1="714.30" y1="207.31" x2="716.30" y2="207.31" stroke="#111" stroke-width="0.7"/>
<line x1="714.30" y1="213.72" x2="716.30" y2="213.72" stroke="#111" stroke-width="0.7"/>
<rect x="713.15" y="209.00" width="4.30" height="4.49" fill="#ffff33" stroke="#111" stroke-width="0.6"/>
<line x1="713.15" y1="211.25" x2="717.45" y2="211.25" stroke="#111" stroke-width="0.5"/>
<line x1="726.80" y1="216.52" x2="726.80" y2="227.09" stroke="#111" stroke-width="0.6"/>
<line x1="725.80" y1="216.52" x2="727.80" y2="216.52" stroke="#111" stroke-width="0.7"/>
<line x1="725.80" y1="227.09" x2="727.80" y2="227.09" stroke="#111" stroke-width="0.7"/>
<rect x="724.65" y="219.31" width="4.30" height="4.40" fill="#f46b6b" stroke="#111" stroke-width="0.6"/>
<line x1="724.65" y1="221.51" x2="728.95" y2="221.51" stroke="#111" stroke-width="0.5"/>
<line x1="733.80" y1="221.00" x2="733.80" y2="231.81" stroke="#111" stroke-width="0.6"/>
<line x1="732.80" y1="221.00" x2="734.80" y2="221.00" stroke="#111" stroke-width="0.7"/>
<line x1="732.80" y1="231.81" x2="734.80" y2="231.81" stroke="#111" stroke-width="0.7"/>
<rect x="731.65" y="222.61" width="4.30" height="5.59" fill="#ffff33" stroke="#111" stroke-width="0.6"/>
<line x1="731.65" y1="225.40" x2="735.95" y2="225.40" stroke="#111" stroke-width="0.5"/>
<polyline points="708.00,209.00 708.00,202.30 715.00,202.30 715.00,203.90" fill="none" stroke="#333" stroke-width="0.6"/>
<circle cx="711.50" cy="199.90" r="0.95" fill="#111"/>
<polyline points="726.70,217.60 726.70,202.30 733.60,202.30 733.60,221.00" fill="none" stroke="#333" stroke-width="0.6"/>
<circle cx="730.15" cy="199.90" r="0.95" fill="#111"/>
<rect x="226.20" y="269.90" width="16.90" height="45.50" fill="#b6b6b6"/>
<line x1="208.30" y1="269.60" x2="208.30" y2="315.80" stroke="#222" stroke-width="0.8"/>
<line x1="207.10" y1="315.40" x2="244.60" y2="315.40" stroke="#222" stroke-width="0.8"/>
<line x1="207.00" y1="315.40" x2="208.30" y2="315.40" stroke="#222" stroke-width="0.6"/>
<text x="206.60" y="316.60" font-size="3.3" font-weight="normal" fill="#333" text-anchor="end">0</text>
<line x1="207.00" y1="306.30" x2="208.30" y2="306.30" stroke="#222" stroke-width="0.6"/>
<text x="206.60" y="307.50" font-size="3.3" font-weight="normal" fill="#333" text-anchor="end">20</text>
<line x1="207.00" y1="297.20" x2="208.30" y2="297.20" stroke="#222" stroke-width="0.6"/>
<text x="206.60" y="298.40" font-size="3.3" font-weight="normal" fill="#333" text-anchor="end">40</text>
<line x1="207.00" y1="288.10" x2="208.30" y2="288.10" stroke="#222" stroke-width="0.6"/>
<text x="206.60" y="289.30" font-size="3.3" font-weight="normal" fill="#333" text-anchor="end">60</text>
<line x1="207.00" y1="279.00" x2="208.30" y2="279.00" stroke="#222" stroke-width="0.6"/>
<text x="206.60" y="280.20" font-size="3.3" font-weight="normal" fill="#333" text-anchor="end">80</text>
<line x1="207.00" y1="269.90" x2="208.30" y2="269.90" stroke="#222" stroke-width="0.6"/>
<text x="206.60" y="271.10" font-size="3.3" font-weight="normal" fill="#333" text-anchor="end">100</text>
<text x="198.30" y="292.65" font-size="3.85" font-weight="normal" fill="#333" text-anchor="middle" transform="rotate(-90 198.30 292.65)">% Time Asleep</text>
<line x1="216.80" y1="315.40" x2="216.80" y2="316.60" stroke="#222" stroke-width="0.6"/>
<line x1="235.05" y1="315.40" x2="235.05" y2="316.60" stroke="#222" stroke-width="0.6"/>
<text x="216.80" y="321.40" font-size="4.1" font-weight="normal" fill="#111" text-anchor="middle">Light</text>
<text x="235.05" y="321.40" font-size="4.1" font-weight="normal" fill="#111" text-anchor="middle">Dark</text>
<line x1="213.30" y1="286.28" x2="213.30" y2="294.38" stroke="#111" stroke-width="0.6"/>
<line x1="212.30" y1="286.28" x2="214.30" y2="286.28" stroke="#111" stroke-width="0.7"/>
<line x1="212.30" y1="294.38" x2="214.30" y2="294.38" stroke="#111" stroke-width="0.7"/>
<rect x="211.15" y="289.10" width="4.30" height="2.68" fill="#8b0a0a" stroke="#111" stroke-width="0.6"/>
<line x1="211.15" y1="290.44" x2="215.45" y2="290.44" stroke="#111" stroke-width="0.5"/>
<line x1="220.30" y1="285.10" x2="220.30" y2="294.38" stroke="#111" stroke-width="0.6"/>
<line x1="219.30" y1="285.10" x2="221.30" y2="285.10" stroke="#111" stroke-width="0.7"/>
<line x1="219.30" y1="294.38" x2="221.30" y2="294.38" stroke="#111" stroke-width="0.7"/>
<rect x="218.15" y="287.69" width="4.30" height="2.59" fill="#f7931e" stroke="#111" stroke-width="0.6"/>
<line x1="218.15" y1="288.99" x2="222.45" y2="288.99" stroke="#111" stroke-width="0.5"/>
<line x1="231.70" y1="296.61" x2="231.70" y2="312.49" stroke="#111" stroke-width="0.6"/>
<line x1="230.70" y1="296.61" x2="232.70" y2="296.61" stroke="#111" stroke-width="0.7"/>
<line x1="230.70" y1="312.49" x2="232.70" y2="312.49" stroke="#111" stroke-width="0.7"/>
<rect x="229.55" y="301.11" width="4.30" height="6.10" fill="#8b0a0a" stroke="#111" stroke-width="0.6"/>
<line x1="229.55" y1="304.16" x2="233.85" y2="304.16" stroke="#111" stroke-width="0.5"/>
<line x1="238.40" y1="299.20" x2="238.40" y2="311.40" stroke="#111" stroke-width="0.6"/>
<line x1="237.40" y1="299.20" x2="239.40" y2="299.20" stroke="#111" stroke-width="0.7"/>
<line x1="237.40" y1="311.40" x2="239.40" y2="311.40" stroke="#111" stroke-width="0.7"/>
<rect x="236.25" y="302.20" width="4.30" height="6.69" fill="#f7931e" stroke="#111" stroke-width="0.6"/>
<line x1="236.25" y1="305.55" x2="240.55" y2="305.55" stroke="#111" stroke-width="0.5"/>
<rect x="470.10" y="269.90" width="16.70" height="45.50" fill="#b6b6b6"/>
<line x1="453.10" y1="269.60" x2="453.10" y2="315.80" stroke="#222" stroke-width="0.8"/>
<line x1="451.90" y1="315.40" x2="488.30" y2="315.40" stroke="#222" stroke-width="0.8"/>
<line x1="451.80" y1="315.40" x2="453.10" y2="315.40" stroke="#222" stroke-width="0.6"/>
<text x="451.40" y="316.60" font-size="3.3" font-weight="normal" fill="#333" text-anchor="end">0</text>
<line x1="451.80" y1="306.30" x2="453.10" y2="306.30" stroke="#222" stroke-width="0.6"/>
<text x="451.40" y="307.50" font-size="3.3" font-weight="normal" fill="#333" text-anchor="end">20</text>
<line x1="451.80" y1="297.20" x2="453.10" y2="297.20" stroke="#222" stroke-width="0.6"/>
<text x="451.40" y="298.40" font-size="3.3" font-weight="normal" fill="#333" text-anchor="end">40</text>
<line x1="451.80" y1="288.10" x2="453.10" y2="288.10" stroke="#222" stroke-width="0.6"/>
<text x="451.40" y="289.30" font-size="3.3" font-weight="normal" fill="#333" text-anchor="end">60</text>
<line x1="451.80" y1="279.00" x2="453.10" y2="279.00" stroke="#222" stroke-width="0.6"/>
<text x="451.40" y="280.20" font-size="3.3" font-weight="normal" fill="#333" text-anchor="end">80</text>
<line x1="451.80" y1="269.90" x2="453.10" y2="269.90" stroke="#222" stroke-width="0.6"/>
<text x="451.40" y="271.10" font-size="3.3" font-weight="normal" fill="#333" text-anchor="end">100</text>
<text x="443.10" y="292.65" font-size="3.85" font-weight="normal" fill="#333" text-anchor="middle" transform="rotate(-90 443.10 292.65)">% Time Asleep</text>
<line x1="460.10" y1="315.40" x2="460.10" y2="316.60" stroke="#222" stroke-width="0.6"/>
<line x1="478.55" y1="315.40" x2="478.55" y2="316.60" stroke="#222" stroke-width="0.6"/>
<text x="460.10" y="321.40" font-size="4.1" font-weight="normal" fill="#111" text-anchor="middle">Light</text>
<text x="478.55" y="321.40" font-size="4.1" font-weight="normal" fill="#111" text-anchor="middle">Dark</text>
<line x1="456.70" y1="285.10" x2="456.70" y2="293.29" stroke="#111" stroke-width="0.6"/>
<line x1="455.70" y1="285.10" x2="457.70" y2="285.10" stroke="#111" stroke-width="0.7"/>
<line x1="455.70" y1="293.29" x2="457.70" y2="293.29" stroke="#111" stroke-width="0.7"/>
<rect x="454.55" y="287.10" width="4.30" height="2.82" fill="#8b0a0a" stroke="#111" stroke-width="0.6"/>
<line x1="454.55" y1="288.51" x2="458.85" y2="288.51" stroke="#111" stroke-width="0.5"/>
<line x1="463.50" y1="280.68" x2="463.50" y2="296.61" stroke="#111" stroke-width="0.6"/>
<line x1="462.50" y1="280.68" x2="464.50" y2="280.68" stroke="#111" stroke-width="0.7"/>
<line x1="462.50" y1="296.61" x2="464.50" y2="296.61" stroke="#111" stroke-width="0.7"/>
<rect x="461.35" y="287.10" width="4.30" height="6.51" fill="#f46b6b" stroke="#111" stroke-width="0.6"/>
<line x1="461.35" y1="290.35" x2="465.65" y2="290.35" stroke="#111" stroke-width="0.5"/>
<line x1="475.20" y1="291.01" x2="475.20" y2="313.31" stroke="#111" stroke-width="0.6"/>
<line x1="474.20" y1="291.01" x2="476.20" y2="291.01" stroke="#111" stroke-width="0.7"/>
<line x1="474.20" y1="313.31" x2="476.20" y2="313.31" stroke="#111" stroke-width="0.7"/>
<rect x="473.05" y="294.92" width="4.30" height="10.56" fill="#8b0a0a" stroke="#111" stroke-width="0.6"/>
<line x1="473.05" y1="300.20" x2="477.35" y2="300.20" stroke="#111" stroke-width="0.5"/>
<line x1="481.90" y1="299.38" x2="481.90" y2="310.30" stroke="#111" stroke-width="0.6"/>
<line x1="480.90" y1="299.38" x2="482.90" y2="299.38" stroke="#111" stroke-width="0.7"/>
<line x1="480.90" y1="310.30" x2="482.90" y2="310.30" stroke="#111" stroke-width="0.7"/>
<rect x="479.75" y="301.80" width="4.30" height="7.10" fill="#f46b6b" stroke="#111" stroke-width="0.6"/>
<line x1="479.75" y1="305.34" x2="484.05" y2="305.34" stroke="#111" stroke-width="0.5"/>
<rect x="721.70" y="269.90" width="16.20" height="45.50" fill="#b6b6b6"/>
<line x1="703.60" y1="269.60" x2="703.60" y2="315.80" stroke="#222" stroke-width="0.8"/>
<line x1="702.40" y1="315.40" x2="739.40" y2="315.40" stroke="#222" stroke-width="0.8"/>
<line x1="702.30" y1="315.40" x2="703.60" y2="315.40" stroke="#222" stroke-width="0.6"/>
<text x="701.90" y="316.60" font-size="3.3" font-weight="normal" fill="#333" text-anchor="end">0</text>
<line x1="702.30" y1="306.30" x2="703.60" y2="306.30" stroke="#222" stroke-width="0.6"/>
<text x="701.90" y="307.50" font-size="3.3" font-weight="normal" fill="#333" text-anchor="end">20</text>
<line x1="702.30" y1="297.20" x2="703.60" y2="297.20" stroke="#222" stroke-width="0.6"/>
<text x="701.90" y="298.40" font-size="3.3" font-weight="normal" fill="#333" text-anchor="end">40</text>
<line x1="702.30" y1="288.10" x2="703.60" y2="288.10" stroke="#222" stroke-width="0.6"/>
<text x="701.90" y="289.30" font-size="3.3" font-weight="normal" fill="#333" text-anchor="end">60</text>
<line x1="702.30" y1="279.00" x2="703.60" y2="279.00" stroke="#222" stroke-width="0.6"/>
<text x="701.90" y="280.20" font-size="3.3" font-weight="normal" fill="#333" text-anchor="end">80</text>
<line x1="702.30" y1="269.90" x2="703.60" y2="269.90" stroke="#222" stroke-width="0.6"/>
<text x="701.90" y="271.10" font-size="3.3" font-weight="normal" fill="#333" text-anchor="end">100</text>
<text x="693.60" y="292.65" font-size="3.85" font-weight="normal" fill="#333" text-anchor="middle" transform="rotate(-90 693.60 292.65)">% Time Asleep</text>
<line x1="711.90" y1="315.40" x2="711.90" y2="316.60" stroke="#222" stroke-width="0.6"/>
<line x1="730.30" y1="315.40" x2="730.30" y2="316.60" stroke="#222" stroke-width="0.6"/>
<text x="711.90" y="321.40" font-size="4.1" font-weight="normal" fill="#111" text-anchor="middle">Light</text>
<text x="730.30" y="321.40" font-size="4.1" font-weight="normal" fill="#111" text-anchor="middle">Dark</text>
<line x1="708.50" y1="291.42" x2="708.50" y2="298.79" stroke="#111" stroke-width="0.6"/>
<line x1="707.50" y1="291.42" x2="709.50" y2="291.42" stroke="#111" stroke-width="0.7"/>
<line x1="707.50" y1="298.79" x2="709.50" y2="298.79" stroke="#111" stroke-width="0.7"/>
<rect x="706.35" y="292.51" width="4.30" height="4.10" fill="#f46b6b" stroke="#111" stroke-width="0.6"/>
<line x1="706.35" y1="294.56" x2="710.65" y2="294.56" stroke="#111" stroke-width="0.5"/>
<line x1="715.30" y1="287.10" x2="715.30" y2="295.52" stroke="#111" stroke-width="0.6"/>
<line x1="714.30" y1="287.10" x2="716.30" y2="287.10" stroke="#111" stroke-width="0.7"/>
<line x1="714.30" y1="295.52" x2="716.30" y2="295.52" stroke="#111" stroke-width="0.7"/>
<rect x="713.15" y="289.10" width="4.30" height="4.19" fill="#ffff33" stroke="#111" stroke-width="0.6"/>
<line x1="713.15" y1="291.19" x2="717.45" y2="291.19" stroke="#111" stroke-width="0.5"/>
<line x1="726.80" y1="296.29" x2="726.80" y2="306.62" stroke="#111" stroke-width="0.6"/>
<line x1="725.80" y1="296.29" x2="727.80" y2="296.29" stroke="#111" stroke-width="0.7"/>
<line x1="725.80" y1="306.62" x2="727.80" y2="306.62" stroke="#111" stroke-width="0.7"/>
<rect x="724.65" y="297.20" width="4.30" height="4.19" fill="#f46b6b" stroke="#111" stroke-width="0.6"/>
<line x1="724.65" y1="299.29" x2="728.95" y2="299.29" stroke="#111" stroke-width="0.5"/>
<line x1="733.80" y1="297.02" x2="733.80" y2="311.40" stroke="#111" stroke-width="0.6"/>
<line x1="732.80" y1="297.02" x2="734.80" y2="297.02" stroke="#111" stroke-width="0.7"/>
<line x1="732.80" y1="311.40" x2="734.80" y2="311.40" stroke="#111" stroke-width="0.7"/>
<rect x="731.65" y="300.29" width="4.30" height="8.92" fill="#ffff33" stroke="#111" stroke-width="0.6"/>
<line x1="731.65" y1="304.75" x2="735.95" y2="304.75" stroke="#111" stroke-width="0.5"/>
</svg></body></html>
